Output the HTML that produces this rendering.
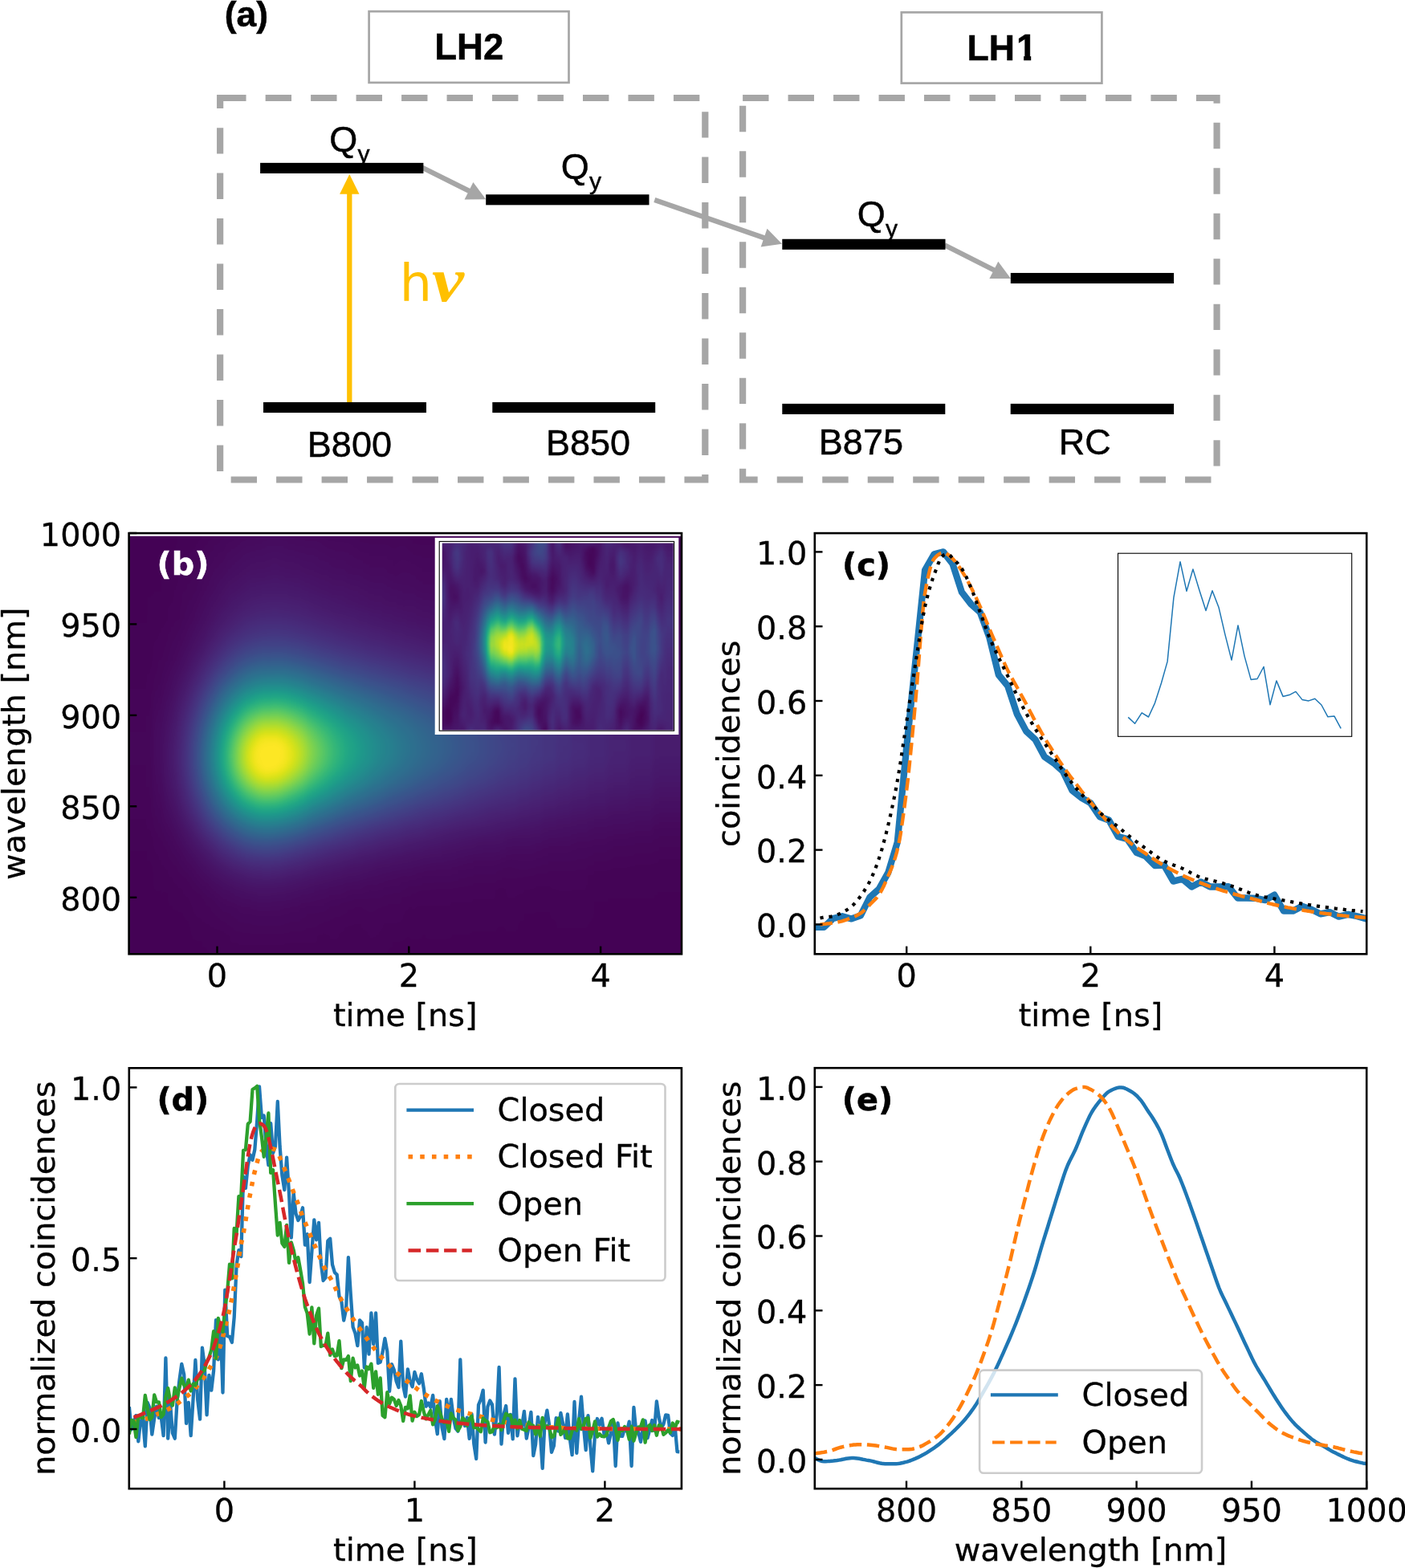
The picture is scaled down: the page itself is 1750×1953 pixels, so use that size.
<!DOCTYPE html>
<html lang="en"><head><meta charset="utf-8"><title>Figure</title>
<style>
html,body{margin:0;padding:0;background:#fff;}
body{width:1750px;height:1953px;overflow:hidden;}
svg{display:block;}
text{white-space:pre;}
</style></head><body>
<svg width="1750" height="1953" viewBox="0 0 1750 1953">
<rect width="1750" height="1953" fill="#fff"/>
<g id="pa">
<text x="306.9" y="32.6" text-anchor="middle" font-family="'Liberation Sans','DejaVu Sans',sans-serif" font-weight="700" font-size="44.5" stroke="#000" stroke-width="0.5">(a)</text>
<rect x="459.6" y="14.2" width="248.9" height="88.7" fill="#fff" stroke="#a6a6a6" stroke-width="2.7"/>
<rect x="1122.8" y="15.4" width="249.6" height="88.2" fill="#fff" stroke="#a6a6a6" stroke-width="2.7"/>
<text x="584.3" y="74.3" text-anchor="middle" font-family="'Liberation Sans','DejaVu Sans',sans-serif" font-weight="700" font-size="45.6" stroke="#000" stroke-width="0.5">LH2</text>
<text x="1204.5" y="74.9" font-family="'Liberation Sans','DejaVu Sans',sans-serif" font-weight="700" font-size="44.6" stroke="#000" stroke-width="0.5">LH<tspan x="1265.9" font-size="45.6">1</tspan></text>
<rect x="1266" y="69.4" width="9.1" height="7" fill="#fff"/><rect x="1284.2" y="69.4" width="8" height="7" fill="#fff"/>
<rect x="274.15" y="122" width="604.15" height="475.5" fill="none" stroke="#a6a6a6" stroke-width="8.2" stroke-dasharray="32.4 24.08"/>
<rect x="925.1" y="122" width="590.5" height="475.5" fill="none" stroke="#a6a6a6" stroke-width="8.2" stroke-dasharray="32.4 24.08"/>
<line x1="526" y1="208.7" x2="584.9" y2="238.1" stroke="#a6a6a6" stroke-width="6.3"/>
<polygon points="605.2,248.3 578.6,248.4 589.4,227" fill="#a6a6a6"/>
<line x1="815.3" y1="249" x2="952.5" y2="296.4" stroke="#a6a6a6" stroke-width="6.3"/>
<polygon points="974,303.8 947.7,307.4 955.5,284.7" fill="#a6a6a6"/>
<line x1="1176.5" y1="305.3" x2="1238.8" y2="336.8" stroke="#a6a6a6" stroke-width="6.3"/>
<polygon points="1259,347.1 1232.4,347.1 1243.3,325.7" fill="#a6a6a6"/>
<line x1="435.3" y1="503" x2="435.3" y2="240.7" stroke="#ffc000" stroke-width="6.3"/>
<polygon points="435.3,217.1 447.5,241.7 423.1,241.7" fill="#ffc000"/>
<rect x="324.1" y="202.85" width="203.3" height="13.1" fill="#000"/>
<rect x="605.2" y="242.25" width="203.3" height="13.1" fill="#000"/>
<rect x="974.3" y="297.75" width="203.2" height="13.1" fill="#000"/>
<rect x="1258.8" y="339.95" width="203.3" height="13.1" fill="#000"/>
<rect x="328" y="500.95" width="203" height="13.1" fill="#000"/>
<rect x="613.3" y="500.95" width="202.9" height="13.1" fill="#000"/>
<rect x="974.3" y="502.84999999999997" width="203" height="13.1" fill="#000"/>
<rect x="1258.7" y="502.84999999999997" width="203.4" height="13.1" fill="#000"/>
<text x="410.3" y="188.5" font-family="'Liberation Sans','DejaVu Sans',sans-serif" font-size="45" stroke="#000" stroke-width="0.5">Q<tspan font-size="30" dy="13.3" dx="0.3">y</tspan></text>
<text x="698.8" y="222.5" font-family="'Liberation Sans','DejaVu Sans',sans-serif" font-size="45" stroke="#000" stroke-width="0.5">Q<tspan font-size="30" dy="13.3" dx="0.3">y</tspan></text>
<text x="1067.8" y="282" font-family="'Liberation Sans','DejaVu Sans',sans-serif" font-size="45" stroke="#000" stroke-width="0.5">Q<tspan font-size="30" dy="13.3" dx="0.3">y</tspan></text>
<text x="435.4" y="569.3" text-anchor="middle" font-family="'Liberation Sans','DejaVu Sans',sans-serif" font-size="45" stroke="#000" stroke-width="0.5">B800</text>
<text x="732.5" y="567.3" text-anchor="middle" font-family="'Liberation Sans','DejaVu Sans',sans-serif" font-size="45" stroke="#000" stroke-width="0.5">B850</text>
<text x="1072.4" y="565.8" text-anchor="middle" font-family="'Liberation Sans','DejaVu Sans',sans-serif" font-size="45" stroke="#000" stroke-width="0.5">B875</text>
<text x="1351.2" y="566" text-anchor="middle" font-family="'Liberation Sans','DejaVu Sans',sans-serif" font-size="45" stroke="#000" stroke-width="0.5">RC</text>
<text x="497.7" y="375.3" fill="#ffc000" font-family="'DejaVu Sans','Liberation Sans',sans-serif" font-size="63.5">h<tspan font-family="'Liberation Serif','DejaVu Serif',serif" font-style="italic" font-weight="700" font-size="77.5" textLength="40" lengthAdjust="spacingAndGlyphs">ν</tspan></text>
</g>
<g id="pb">
<clipPath id="hmc"><rect x="160.6" y="667.8" width="688.4" height="520.5"/></clipPath>
<filter id="hmf" x="0" y="0" width="100%" height="100%" filterUnits="objectBoundingBox" color-interpolation-filters="sRGB"><feGaussianBlur stdDeviation="3.0"/><feComponentTransfer><feFuncR type="table" tableValues="0.267 0.277 0.282 0.283 0.279 0.271 0.259 0.245 0.230 0.214 0.199 0.186 0.173 0.161 0.149 0.138 0.128 0.121 0.121 0.132 0.158 0.197 0.246 0.304 0.369 0.440 0.516 0.596 0.678 0.762 0.846 0.926 0.993"/><feFuncG type="table" tableValues="0.005 0.050 0.095 0.136 0.175 0.214 0.252 0.288 0.322 0.356 0.388 0.419 0.449 0.479 0.508 0.537 0.567 0.596 0.626 0.655 0.684 0.712 0.739 0.765 0.789 0.811 0.831 0.849 0.864 0.876 0.887 0.897 0.906"/><feFuncB type="table" tableValues="0.329 0.376 0.417 0.453 0.483 0.507 0.525 0.537 0.546 0.551 0.555 0.557 0.558 0.558 0.557 0.555 0.551 0.544 0.533 0.520 0.502 0.479 0.452 0.420 0.383 0.341 0.294 0.243 0.190 0.137 0.100 0.104 0.144"/></feComponentTransfer></filter>
<defs><linearGradient id="hm0" gradientUnits="userSpaceOnUse" x1="0" y1="655.8" x2="0" y2="1200.3"><stop offset=".022" stop-color="#010101"/><stop offset=".303" stop-color="#020202"/><stop offset=".502" stop-color="#040404"/><stop offset=".642" stop-color="#030303"/><stop offset=".790" stop-color="#010101"/><stop offset=".978" stop-color="#010101"/></linearGradient><linearGradient id="hm1" gradientUnits="userSpaceOnUse" x1="0" y1="655.8" x2="0" y2="1200.3"><stop offset=".022" stop-color="#010101"/><stop offset=".207" stop-color="#020202"/><stop offset=".354" stop-color="#040404"/><stop offset=".472" stop-color="#080808"/><stop offset=".535" stop-color="#080808"/><stop offset=".620" stop-color="#060606"/><stop offset=".723" stop-color="#030303"/><stop offset=".893" stop-color="#010101"/><stop offset=".978" stop-color="#010101"/></linearGradient><linearGradient id="hm2" gradientUnits="userSpaceOnUse" x1="0" y1="655.8" x2="0" y2="1200.3"><stop offset=".022" stop-color="#010101"/><stop offset=".207" stop-color="#020202"/><stop offset=".303" stop-color="#040404"/><stop offset=".502" stop-color="#0c0c0c"/><stop offset=".561" stop-color="#0c0c0c"/><stop offset=".745" stop-color="#030303"/><stop offset=".849" stop-color="#010101"/><stop offset=".978" stop-color="#010101"/></linearGradient><linearGradient id="hm3" gradientUnits="userSpaceOnUse" x1="0" y1="655.8" x2="0" y2="1200.3"><stop offset=".022" stop-color="#010101"/><stop offset=".207" stop-color="#030303"/><stop offset=".303" stop-color="#050505"/><stop offset=".391" stop-color="#090909"/><stop offset=".465" stop-color="#0e0e0e"/><stop offset=".528" stop-color="#101010"/><stop offset=".587" stop-color="#0e0e0e"/><stop offset=".697" stop-color="#060606"/><stop offset=".779" stop-color="#030303"/><stop offset=".912" stop-color="#010101"/><stop offset=".978" stop-color="#010101"/></linearGradient><linearGradient id="hm4" gradientUnits="userSpaceOnUse" x1="0" y1="655.8" x2="0" y2="1200.3"><stop offset=".022" stop-color="#010101"/><stop offset=".207" stop-color="#030303"/><stop offset=".303" stop-color="#060606"/><stop offset=".391" stop-color="#0c0c0c"/><stop offset=".465" stop-color="#121212"/><stop offset=".506" stop-color="#141414"/><stop offset=".542" stop-color="#141414"/><stop offset=".594" stop-color="#111111"/><stop offset=".705" stop-color="#070707"/><stop offset=".782" stop-color="#030303"/><stop offset=".912" stop-color="#010101"/><stop offset=".978" stop-color="#010101"/></linearGradient><linearGradient id="hm5" gradientUnits="userSpaceOnUse" x1="0" y1="655.8" x2="0" y2="1200.3"><stop offset=".022" stop-color="#020202"/><stop offset=".207" stop-color="#030303"/><stop offset=".303" stop-color="#070707"/><stop offset=".362" stop-color="#0c0c0c"/><stop offset=".439" stop-color="#141414"/><stop offset=".483" stop-color="#171717"/><stop offset=".524" stop-color="#191919"/><stop offset=".561" stop-color="#181818"/><stop offset=".613" stop-color="#131313"/><stop offset=".683" stop-color="#0b0b0b"/><stop offset=".738" stop-color="#060606"/><stop offset=".804" stop-color="#030303"/><stop offset=".919" stop-color="#010101"/><stop offset=".978" stop-color="#010101"/></linearGradient><linearGradient id="hm6" gradientUnits="userSpaceOnUse" x1="0" y1="655.8" x2="0" y2="1200.3"><stop offset=".022" stop-color="#020202"/><stop offset=".207" stop-color="#040404"/><stop offset=".269" stop-color="#060606"/><stop offset=".328" stop-color="#0a0a0a"/><stop offset=".454" stop-color="#181818"/><stop offset=".498" stop-color="#1b1b1b"/><stop offset=".535" stop-color="#1c1c1c"/><stop offset=".572" stop-color="#1a1a1a"/><stop offset=".624" stop-color="#141414"/><stop offset=".690" stop-color="#0b0b0b"/><stop offset=".742" stop-color="#060606"/><stop offset=".808" stop-color="#030303"/><stop offset=".919" stop-color="#010101"/><stop offset=".978" stop-color="#010101"/></linearGradient><linearGradient id="hm7" gradientUnits="userSpaceOnUse" x1="0" y1="655.8" x2="0" y2="1200.3"><stop offset=".022" stop-color="#020202"/><stop offset=".207" stop-color="#040404"/><stop offset=".269" stop-color="#070707"/><stop offset=".328" stop-color="#0b0b0b"/><stop offset=".410" stop-color="#151515"/><stop offset=".458" stop-color="#1c1c1c"/><stop offset=".502" stop-color="#1f1f1f"/><stop offset=".539" stop-color="#202020"/><stop offset=".572" stop-color="#1d1d1d"/><stop offset=".624" stop-color="#171717"/><stop offset=".690" stop-color="#0d0d0d"/><stop offset=".742" stop-color="#070707"/><stop offset=".808" stop-color="#030303"/><stop offset=".919" stop-color="#010101"/><stop offset=".978" stop-color="#010101"/></linearGradient><linearGradient id="hm8" gradientUnits="userSpaceOnUse" x1="0" y1="655.8" x2="0" y2="1200.3"><stop offset=".022" stop-color="#020202"/><stop offset=".207" stop-color="#050505"/><stop offset=".269" stop-color="#070707"/><stop offset=".328" stop-color="#0c0c0c"/><stop offset=".380" stop-color="#131313"/><stop offset=".458" stop-color="#1f1f1f"/><stop offset=".502" stop-color="#232323"/><stop offset=".539" stop-color="#242424"/><stop offset=".572" stop-color="#212121"/><stop offset=".624" stop-color="#1a1a1a"/><stop offset=".690" stop-color="#0e0e0e"/><stop offset=".742" stop-color="#080808"/><stop offset=".808" stop-color="#030303"/><stop offset=".919" stop-color="#010101"/><stop offset=".978" stop-color="#010101"/></linearGradient><linearGradient id="hm9" gradientUnits="userSpaceOnUse" x1="0" y1="655.8" x2="0" y2="1200.3"><stop offset=".022" stop-color="#020202"/><stop offset=".144" stop-color="#030303"/><stop offset=".251" stop-color="#070707"/><stop offset=".310" stop-color="#0c0c0c"/><stop offset=".365" stop-color="#131313"/><stop offset=".443" stop-color="#212121"/><stop offset=".487" stop-color="#272727"/><stop offset=".524" stop-color="#282828"/><stop offset=".561" stop-color="#272727"/><stop offset=".594" stop-color="#222222"/><stop offset=".705" stop-color="#0e0e0e"/><stop offset=".757" stop-color="#070707"/><stop offset=".819" stop-color="#030303"/><stop offset=".923" stop-color="#010101"/><stop offset=".978" stop-color="#010101"/></linearGradient><linearGradient id="hm10" gradientUnits="userSpaceOnUse" x1="0" y1="655.8" x2="0" y2="1200.3"><stop offset=".022" stop-color="#020202"/><stop offset=".144" stop-color="#040404"/><stop offset=".214" stop-color="#060606"/><stop offset=".277" stop-color="#0a0a0a"/><stop offset=".336" stop-color="#111111"/><stop offset=".387" stop-color="#1a1a1a"/><stop offset=".461" stop-color="#282828"/><stop offset=".491" stop-color="#2c2c2c"/><stop offset=".528" stop-color="#2e2e2e"/><stop offset=".550" stop-color="#2d2d2d"/><stop offset=".583" stop-color="#292929"/><stop offset=".631" stop-color="#1f1f1f"/><stop offset=".697" stop-color="#101010"/><stop offset=".749" stop-color="#090909"/><stop offset=".793" stop-color="#050505"/><stop offset=".875" stop-color="#020202"/><stop offset=".978" stop-color="#010101"/></linearGradient><linearGradient id="hm11" gradientUnits="userSpaceOnUse" x1="0" y1="655.8" x2="0" y2="1200.3"><stop offset=".022" stop-color="#020202"/><stop offset=".144" stop-color="#040404"/><stop offset=".214" stop-color="#060606"/><stop offset=".277" stop-color="#0b0b0b"/><stop offset=".314" stop-color="#0f0f0f"/><stop offset=".369" stop-color="#191919"/><stop offset=".446" stop-color="#2a2a2a"/><stop offset=".476" stop-color="#2f2f2f"/><stop offset=".502" stop-color="#323232"/><stop offset=".524" stop-color="#333333"/><stop offset=".546" stop-color="#323232"/><stop offset=".579" stop-color="#2e2e2e"/><stop offset=".613" stop-color="#272727"/><stop offset=".683" stop-color="#161616"/><stop offset=".720" stop-color="#0e0e0e"/><stop offset=".768" stop-color="#070707"/><stop offset=".827" stop-color="#030303"/><stop offset=".926" stop-color="#020202"/><stop offset=".978" stop-color="#010101"/></linearGradient><linearGradient id="hm12" gradientUnits="userSpaceOnUse" x1="0" y1="655.8" x2="0" y2="1200.3"><stop offset=".022" stop-color="#020202"/><stop offset=".144" stop-color="#040404"/><stop offset=".214" stop-color="#070707"/><stop offset=".277" stop-color="#0c0c0c"/><stop offset=".314" stop-color="#111111"/><stop offset=".351" stop-color="#181818"/><stop offset=".432" stop-color="#2b2b2b"/><stop offset=".476" stop-color="#353535"/><stop offset=".502" stop-color="#383838"/><stop offset=".524" stop-color="#393939"/><stop offset=".546" stop-color="#383838"/><stop offset=".579" stop-color="#333333"/><stop offset=".613" stop-color="#2c2c2c"/><stop offset=".683" stop-color="#181818"/><stop offset=".720" stop-color="#101010"/><stop offset=".768" stop-color="#080808"/><stop offset=".827" stop-color="#040404"/><stop offset=".926" stop-color="#020202"/><stop offset=".978" stop-color="#010101"/></linearGradient><linearGradient id="hm13" gradientUnits="userSpaceOnUse" x1="0" y1="655.8" x2="0" y2="1200.3"><stop offset=".022" stop-color="#020202"/><stop offset=".144" stop-color="#050505"/><stop offset=".214" stop-color="#080808"/><stop offset=".277" stop-color="#0d0d0d"/><stop offset=".314" stop-color="#131313"/><stop offset=".351" stop-color="#1a1a1a"/><stop offset=".432" stop-color="#303030"/><stop offset=".476" stop-color="#3b3b3b"/><stop offset=".502" stop-color="#3e3e3e"/><stop offset=".524" stop-color="#3f3f3f"/><stop offset=".546" stop-color="#3e3e3e"/><stop offset=".568" stop-color="#3b3b3b"/><stop offset=".601" stop-color="#343434"/><stop offset=".675" stop-color="#1d1d1d"/><stop offset=".712" stop-color="#131313"/><stop offset=".745" stop-color="#0c0c0c"/><stop offset=".790" stop-color="#070707"/><stop offset=".841" stop-color="#030303"/><stop offset=".930" stop-color="#020202"/><stop offset=".978" stop-color="#010101"/></linearGradient><linearGradient id="hm14" gradientUnits="userSpaceOnUse" x1="0" y1="655.8" x2="0" y2="1200.3"><stop offset=".022" stop-color="#020202"/><stop offset=".144" stop-color="#050505"/><stop offset=".214" stop-color="#090909"/><stop offset=".255" stop-color="#0c0c0c"/><stop offset=".291" stop-color="#111111"/><stop offset=".328" stop-color="#181818"/><stop offset=".362" stop-color="#202020"/><stop offset=".439" stop-color="#383838"/><stop offset=".469" stop-color="#3f3f3f"/><stop offset=".494" stop-color="#444444"/><stop offset=".517" stop-color="#464646"/><stop offset=".539" stop-color="#464646"/><stop offset=".561" stop-color="#434343"/><stop offset=".594" stop-color="#3b3b3b"/><stop offset=".642" stop-color="#2b2b2b"/><stop offset=".683" stop-color="#1e1e1e"/><stop offset=".720" stop-color="#131313"/><stop offset=".749" stop-color="#0d0d0d"/><stop offset=".793" stop-color="#070707"/><stop offset=".845" stop-color="#030303"/><stop offset=".934" stop-color="#020202"/><stop offset=".978" stop-color="#010101"/></linearGradient><linearGradient id="hm15" gradientUnits="userSpaceOnUse" x1="0" y1="655.8" x2="0" y2="1200.3"><stop offset=".022" stop-color="#030303"/><stop offset=".144" stop-color="#060606"/><stop offset=".214" stop-color="#090909"/><stop offset=".255" stop-color="#0d0d0d"/><stop offset=".291" stop-color="#121212"/><stop offset=".328" stop-color="#1a1a1a"/><stop offset=".362" stop-color="#232323"/><stop offset=".439" stop-color="#3d3d3d"/><stop offset=".469" stop-color="#464646"/><stop offset=".494" stop-color="#4b4b4b"/><stop offset=".517" stop-color="#4d4d4d"/><stop offset=".539" stop-color="#4d4d4d"/><stop offset=".561" stop-color="#4a4a4a"/><stop offset=".583" stop-color="#454545"/><stop offset=".613" stop-color="#3b3b3b"/><stop offset=".683" stop-color="#212121"/><stop offset=".720" stop-color="#151515"/><stop offset=".749" stop-color="#0e0e0e"/><stop offset=".793" stop-color="#080808"/><stop offset=".845" stop-color="#040404"/><stop offset=".934" stop-color="#020202"/><stop offset=".978" stop-color="#010101"/></linearGradient><linearGradient id="hm16" gradientUnits="userSpaceOnUse" x1="0" y1="655.8" x2="0" y2="1200.3"><stop offset=".022" stop-color="#030303"/><stop offset=".144" stop-color="#060606"/><stop offset=".214" stop-color="#0a0a0a"/><stop offset=".255" stop-color="#0e0e0e"/><stop offset=".291" stop-color="#141414"/><stop offset=".328" stop-color="#1d1d1d"/><stop offset=".362" stop-color="#272727"/><stop offset=".439" stop-color="#434343"/><stop offset=".469" stop-color="#4d4d4d"/><stop offset=".494" stop-color="#525252"/><stop offset=".517" stop-color="#555555"/><stop offset=".539" stop-color="#555555"/><stop offset=".561" stop-color="#525252"/><stop offset=".583" stop-color="#4c4c4c"/><stop offset=".613" stop-color="#414141"/><stop offset=".683" stop-color="#242424"/><stop offset=".720" stop-color="#171717"/><stop offset=".749" stop-color="#0f0f0f"/><stop offset=".779" stop-color="#0a0a0a"/><stop offset=".816" stop-color="#060606"/><stop offset=".860" stop-color="#030303"/><stop offset=".978" stop-color="#010101"/></linearGradient><linearGradient id="hm17" gradientUnits="userSpaceOnUse" x1="0" y1="655.8" x2="0" y2="1200.3"><stop offset=".022" stop-color="#030303"/><stop offset=".144" stop-color="#070707"/><stop offset=".214" stop-color="#0b0b0b"/><stop offset=".255" stop-color="#101010"/><stop offset=".291" stop-color="#161616"/><stop offset=".328" stop-color="#1f1f1f"/><stop offset=".362" stop-color="#2a2a2a"/><stop offset=".439" stop-color="#4a4a4a"/><stop offset=".469" stop-color="#545454"/><stop offset=".494" stop-color="#5a5a5a"/><stop offset=".517" stop-color="#5d5d5d"/><stop offset=".539" stop-color="#5d5d5d"/><stop offset=".561" stop-color="#595959"/><stop offset=".583" stop-color="#535353"/><stop offset=".613" stop-color="#474747"/><stop offset=".683" stop-color="#272727"/><stop offset=".720" stop-color="#191919"/><stop offset=".749" stop-color="#111111"/><stop offset=".779" stop-color="#0b0b0b"/><stop offset=".816" stop-color="#060606"/><stop offset=".860" stop-color="#040404"/><stop offset=".978" stop-color="#010101"/></linearGradient><linearGradient id="hm18" gradientUnits="userSpaceOnUse" x1="0" y1="655.8" x2="0" y2="1200.3"><stop offset=".022" stop-color="#030303"/><stop offset=".144" stop-color="#070707"/><stop offset=".214" stop-color="#0c0c0c"/><stop offset=".255" stop-color="#111111"/><stop offset=".291" stop-color="#181818"/><stop offset=".328" stop-color="#222222"/><stop offset=".362" stop-color="#2e2e2e"/><stop offset=".439" stop-color="#505050"/><stop offset=".469" stop-color="#5c5c5c"/><stop offset=".494" stop-color="#626262"/><stop offset=".517" stop-color="#656565"/><stop offset=".539" stop-color="#656565"/><stop offset=".561" stop-color="#616161"/><stop offset=".583" stop-color="#5a5a5a"/><stop offset=".613" stop-color="#4e4e4e"/><stop offset=".683" stop-color="#2b2b2b"/><stop offset=".720" stop-color="#1b1b1b"/><stop offset=".749" stop-color="#121212"/><stop offset=".779" stop-color="#0c0c0c"/><stop offset=".816" stop-color="#070707"/><stop offset=".860" stop-color="#040404"/><stop offset=".937" stop-color="#020202"/><stop offset=".978" stop-color="#020202"/></linearGradient><linearGradient id="hm19" gradientUnits="userSpaceOnUse" x1="0" y1="655.8" x2="0" y2="1200.3"><stop offset=".022" stop-color="#030303"/><stop offset=".144" stop-color="#080808"/><stop offset=".214" stop-color="#0d0d0d"/><stop offset=".255" stop-color="#121212"/><stop offset=".291" stop-color="#1a1a1a"/><stop offset=".328" stop-color="#252525"/><stop offset=".362" stop-color="#323232"/><stop offset=".439" stop-color="#575757"/><stop offset=".469" stop-color="#646464"/><stop offset=".494" stop-color="#6b6b6b"/><stop offset=".517" stop-color="#6e6e6e"/><stop offset=".539" stop-color="#6e6e6e"/><stop offset=".561" stop-color="#6a6a6a"/><stop offset=".583" stop-color="#626262"/><stop offset=".613" stop-color="#545454"/><stop offset=".683" stop-color="#2e2e2e"/><stop offset=".705" stop-color="#242424"/><stop offset=".738" stop-color="#171717"/><stop offset=".768" stop-color="#0f0f0f"/><stop offset=".804" stop-color="#090909"/><stop offset=".852" stop-color="#040404"/><stop offset=".934" stop-color="#020202"/><stop offset=".978" stop-color="#020202"/></linearGradient><linearGradient id="hm20" gradientUnits="userSpaceOnUse" x1="0" y1="655.8" x2="0" y2="1200.3"><stop offset=".022" stop-color="#040404"/><stop offset=".144" stop-color="#080808"/><stop offset=".214" stop-color="#0e0e0e"/><stop offset=".255" stop-color="#141414"/><stop offset=".291" stop-color="#1c1c1c"/><stop offset=".328" stop-color="#282828"/><stop offset=".362" stop-color="#363636"/><stop offset=".439" stop-color="#5e5e5e"/><stop offset=".469" stop-color="#6c6c6c"/><stop offset=".494" stop-color="#747474"/><stop offset=".517" stop-color="#777777"/><stop offset=".539" stop-color="#777777"/><stop offset=".561" stop-color="#727272"/><stop offset=".583" stop-color="#6a6a6a"/><stop offset=".613" stop-color="#5b5b5b"/><stop offset=".683" stop-color="#323232"/><stop offset=".705" stop-color="#272727"/><stop offset=".727" stop-color="#1d1d1d"/><stop offset=".757" stop-color="#131313"/><stop offset=".782" stop-color="#0d0d0d"/><stop offset=".819" stop-color="#080808"/><stop offset=".864" stop-color="#040404"/><stop offset=".937" stop-color="#020202"/><stop offset=".978" stop-color="#020202"/></linearGradient><linearGradient id="hm21" gradientUnits="userSpaceOnUse" x1="0" y1="655.8" x2="0" y2="1200.3"><stop offset=".022" stop-color="#040404"/><stop offset=".103" stop-color="#070707"/><stop offset=".177" stop-color="#0b0b0b"/><stop offset=".221" stop-color="#101010"/><stop offset=".262" stop-color="#171717"/><stop offset=".299" stop-color="#202020"/><stop offset=".321" stop-color="#282828"/><stop offset=".354" stop-color="#373737"/><stop offset=".387" stop-color="#484848"/><stop offset=".435" stop-color="#646464"/><stop offset=".465" stop-color="#727272"/><stop offset=".491" stop-color="#7c7c7c"/><stop offset=".513" stop-color="#808080"/><stop offset=".528" stop-color="#818181"/><stop offset=".542" stop-color="#7f7f7f"/><stop offset=".557" stop-color="#7c7c7c"/><stop offset=".579" stop-color="#747474"/><stop offset=".601" stop-color="#696969"/><stop offset=".631" stop-color="#575757"/><stop offset=".675" stop-color="#3a3a3a"/><stop offset=".697" stop-color="#2d2d2d"/><stop offset=".720" stop-color="#222222"/><stop offset=".749" stop-color="#171717"/><stop offset=".779" stop-color="#0f0f0f"/><stop offset=".816" stop-color="#080808"/><stop offset=".860" stop-color="#050505"/><stop offset=".937" stop-color="#020202"/><stop offset=".978" stop-color="#020202"/></linearGradient><linearGradient id="hm22" gradientUnits="userSpaceOnUse" x1="0" y1="655.8" x2="0" y2="1200.3"><stop offset=".022" stop-color="#040404"/><stop offset=".103" stop-color="#070707"/><stop offset=".177" stop-color="#0c0c0c"/><stop offset=".221" stop-color="#111111"/><stop offset=".262" stop-color="#181818"/><stop offset=".299" stop-color="#232323"/><stop offset=".321" stop-color="#2b2b2b"/><stop offset=".354" stop-color="#3b3b3b"/><stop offset=".387" stop-color="#4e4e4e"/><stop offset=".435" stop-color="#6b6b6b"/><stop offset=".465" stop-color="#7b7b7b"/><stop offset=".480" stop-color="#818181"/><stop offset=".494" stop-color="#868686"/><stop offset=".517" stop-color="#8a8a8a"/><stop offset=".531" stop-color="#8a8a8a"/><stop offset=".546" stop-color="#888888"/><stop offset=".561" stop-color="#848484"/><stop offset=".583" stop-color="#7b7b7b"/><stop offset=".601" stop-color="#707070"/><stop offset=".631" stop-color="#5d5d5d"/><stop offset=".675" stop-color="#3e3e3e"/><stop offset=".697" stop-color="#313131"/><stop offset=".720" stop-color="#252525"/><stop offset=".749" stop-color="#191919"/><stop offset=".779" stop-color="#101010"/><stop offset=".816" stop-color="#090909"/><stop offset=".860" stop-color="#050505"/><stop offset=".937" stop-color="#020202"/><stop offset=".978" stop-color="#020202"/></linearGradient><linearGradient id="hm23" gradientUnits="userSpaceOnUse" x1="0" y1="655.8" x2="0" y2="1200.3"><stop offset=".022" stop-color="#040404"/><stop offset=".103" stop-color="#070707"/><stop offset=".177" stop-color="#0d0d0d"/><stop offset=".221" stop-color="#121212"/><stop offset=".262" stop-color="#1a1a1a"/><stop offset=".284" stop-color="#202020"/><stop offset=".306" stop-color="#282828"/><stop offset=".328" stop-color="#313131"/><stop offset=".362" stop-color="#434343"/><stop offset=".395" stop-color="#585858"/><stop offset=".443" stop-color="#777777"/><stop offset=".461" stop-color="#818181"/><stop offset=".480" stop-color="#8a8a8a"/><stop offset=".494" stop-color="#8f8f8f"/><stop offset=".509" stop-color="#929292"/><stop offset=".524" stop-color="#939393"/><stop offset=".539" stop-color="#939393"/><stop offset=".554" stop-color="#909090"/><stop offset=".568" stop-color="#8a8a8a"/><stop offset=".590" stop-color="#7f7f7f"/><stop offset=".620" stop-color="#6b6b6b"/><stop offset=".664" stop-color="#4a4a4a"/><stop offset=".686" stop-color="#3b3b3b"/><stop offset=".709" stop-color="#2d2d2d"/><stop offset=".731" stop-color="#222222"/><stop offset=".760" stop-color="#161616"/><stop offset=".786" stop-color="#0f0f0f"/><stop offset=".819" stop-color="#090909"/><stop offset=".864" stop-color="#050505"/><stop offset=".937" stop-color="#020202"/><stop offset=".978" stop-color="#020202"/></linearGradient><linearGradient id="hm24" gradientUnits="userSpaceOnUse" x1="0" y1="655.8" x2="0" y2="1200.3"><stop offset=".022" stop-color="#040404"/><stop offset=".103" stop-color="#080808"/><stop offset=".177" stop-color="#0d0d0d"/><stop offset=".221" stop-color="#131313"/><stop offset=".262" stop-color="#1c1c1c"/><stop offset=".284" stop-color="#222222"/><stop offset=".306" stop-color="#2a2a2a"/><stop offset=".328" stop-color="#343434"/><stop offset=".351" stop-color="#404040"/><stop offset=".384" stop-color="#565656"/><stop offset=".432" stop-color="#777777"/><stop offset=".461" stop-color="#8a8a8a"/><stop offset=".480" stop-color="#939393"/><stop offset=".494" stop-color="#989898"/><stop offset=".509" stop-color="#9c9c9c"/><stop offset=".524" stop-color="#9d9d9d"/><stop offset=".539" stop-color="#9c9c9c"/><stop offset=".554" stop-color="#999999"/><stop offset=".568" stop-color="#939393"/><stop offset=".590" stop-color="#878787"/><stop offset=".609" stop-color="#7b7b7b"/><stop offset=".679" stop-color="#444444"/><stop offset=".701" stop-color="#353535"/><stop offset=".723" stop-color="#282828"/><stop offset=".742" stop-color="#1f1f1f"/><stop offset=".771" stop-color="#141414"/><stop offset=".793" stop-color="#0e0e0e"/><stop offset=".827" stop-color="#090909"/><stop offset=".871" stop-color="#050505"/><stop offset=".941" stop-color="#020202"/><stop offset=".978" stop-color="#020202"/></linearGradient><linearGradient id="hm25" gradientUnits="userSpaceOnUse" x1="0" y1="655.8" x2="0" y2="1200.3"><stop offset=".022" stop-color="#050505"/><stop offset=".103" stop-color="#080808"/><stop offset=".177" stop-color="#0e0e0e"/><stop offset=".221" stop-color="#141414"/><stop offset=".247" stop-color="#191919"/><stop offset=".269" stop-color="#1f1f1f"/><stop offset=".291" stop-color="#272727"/><stop offset=".314" stop-color="#303030"/><stop offset=".336" stop-color="#3b3b3b"/><stop offset=".358" stop-color="#494949"/><stop offset=".391" stop-color="#606060"/><stop offset=".439" stop-color="#848484"/><stop offset=".458" stop-color="#909090"/><stop offset=".476" stop-color="#9a9a9a"/><stop offset=".491" stop-color="#a0a0a0"/><stop offset=".506" stop-color="#a4a4a4"/><stop offset=".520" stop-color="#a6a6a6"/><stop offset=".535" stop-color="#a6a6a6"/><stop offset=".550" stop-color="#a3a3a3"/><stop offset=".565" stop-color="#9e9e9e"/><stop offset=".579" stop-color="#969696"/><stop offset=".601" stop-color="#888888"/><stop offset=".631" stop-color="#707070"/><stop offset=".675" stop-color="#4b4b4b"/><stop offset=".697" stop-color="#3a3a3a"/><stop offset=".720" stop-color="#2c2c2c"/><stop offset=".738" stop-color="#222222"/><stop offset=".757" stop-color="#1a1a1a"/><stop offset=".782" stop-color="#121212"/><stop offset=".804" stop-color="#0d0d0d"/><stop offset=".834" stop-color="#080808"/><stop offset=".875" stop-color="#050505"/><stop offset=".941" stop-color="#020202"/><stop offset=".978" stop-color="#020202"/></linearGradient><linearGradient id="hm26" gradientUnits="userSpaceOnUse" x1="0" y1="655.8" x2="0" y2="1200.3"><stop offset=".022" stop-color="#050505"/><stop offset=".103" stop-color="#090909"/><stop offset=".177" stop-color="#0f0f0f"/><stop offset=".221" stop-color="#151515"/><stop offset=".247" stop-color="#1b1b1b"/><stop offset=".269" stop-color="#212121"/><stop offset=".291" stop-color="#292929"/><stop offset=".314" stop-color="#333333"/><stop offset=".336" stop-color="#3f3f3f"/><stop offset=".358" stop-color="#4d4d4d"/><stop offset=".391" stop-color="#656565"/><stop offset=".439" stop-color="#8b8b8b"/><stop offset=".458" stop-color="#989898"/><stop offset=".476" stop-color="#a2a2a2"/><stop offset=".491" stop-color="#a9a9a9"/><stop offset=".506" stop-color="#adadad"/><stop offset=".520" stop-color="#b0b0b0"/><stop offset=".535" stop-color="#afafaf"/><stop offset=".550" stop-color="#acacac"/><stop offset=".565" stop-color="#a7a7a7"/><stop offset=".579" stop-color="#9f9f9f"/><stop offset=".601" stop-color="#8f8f8f"/><stop offset=".631" stop-color="#767676"/><stop offset=".675" stop-color="#4f4f4f"/><stop offset=".697" stop-color="#3e3e3e"/><stop offset=".720" stop-color="#2f2f2f"/><stop offset=".738" stop-color="#242424"/><stop offset=".757" stop-color="#1c1c1c"/><stop offset=".782" stop-color="#131313"/><stop offset=".804" stop-color="#0d0d0d"/><stop offset=".834" stop-color="#080808"/><stop offset=".875" stop-color="#050505"/><stop offset=".941" stop-color="#020202"/><stop offset=".978" stop-color="#020202"/></linearGradient><linearGradient id="hm27" gradientUnits="userSpaceOnUse" x1="0" y1="655.8" x2="0" y2="1200.3"><stop offset=".022" stop-color="#050505"/><stop offset=".103" stop-color="#090909"/><stop offset=".177" stop-color="#101010"/><stop offset=".221" stop-color="#161616"/><stop offset=".247" stop-color="#1c1c1c"/><stop offset=".269" stop-color="#232323"/><stop offset=".291" stop-color="#2b2b2b"/><stop offset=".314" stop-color="#353535"/><stop offset=".336" stop-color="#424242"/><stop offset=".358" stop-color="#515151"/><stop offset=".391" stop-color="#6b6b6b"/><stop offset=".439" stop-color="#929292"/><stop offset=".458" stop-color="#a0a0a0"/><stop offset=".476" stop-color="#ababab"/><stop offset=".491" stop-color="#b2b2b2"/><stop offset=".506" stop-color="#b6b6b6"/><stop offset=".520" stop-color="#b9b9b9"/><stop offset=".535" stop-color="#b8b8b8"/><stop offset=".550" stop-color="#b5b5b5"/><stop offset=".565" stop-color="#afafaf"/><stop offset=".579" stop-color="#a7a7a7"/><stop offset=".601" stop-color="#979797"/><stop offset=".631" stop-color="#7c7c7c"/><stop offset=".675" stop-color="#535353"/><stop offset=".697" stop-color="#414141"/><stop offset=".720" stop-color="#313131"/><stop offset=".738" stop-color="#262626"/><stop offset=".757" stop-color="#1d1d1d"/><stop offset=".782" stop-color="#141414"/><stop offset=".804" stop-color="#0e0e0e"/><stop offset=".834" stop-color="#090909"/><stop offset=".875" stop-color="#050505"/><stop offset=".941" stop-color="#030303"/><stop offset=".978" stop-color="#020202"/></linearGradient><linearGradient id="hm28" gradientUnits="userSpaceOnUse" x1="0" y1="655.8" x2="0" y2="1200.3"><stop offset=".022" stop-color="#050505"/><stop offset=".103" stop-color="#090909"/><stop offset=".151" stop-color="#0d0d0d"/><stop offset=".196" stop-color="#131313"/><stop offset=".225" stop-color="#181818"/><stop offset=".251" stop-color="#1f1f1f"/><stop offset=".273" stop-color="#262626"/><stop offset=".295" stop-color="#2f2f2f"/><stop offset=".317" stop-color="#3a3a3a"/><stop offset=".339" stop-color="#484848"/><stop offset=".362" stop-color="#585858"/><stop offset=".395" stop-color="#737373"/><stop offset=".443" stop-color="#9c9c9c"/><stop offset=".461" stop-color="#aaaaaa"/><stop offset=".480" stop-color="#b5b5b5"/><stop offset=".494" stop-color="#bcbcbc"/><stop offset=".509" stop-color="#c0c0c0"/><stop offset=".524" stop-color="#c2c2c2"/><stop offset=".539" stop-color="#c1c1c1"/><stop offset=".554" stop-color="#bdbdbd"/><stop offset=".568" stop-color="#b6b6b6"/><stop offset=".583" stop-color="#acacac"/><stop offset=".601" stop-color="#9e9e9e"/><stop offset=".631" stop-color="#828282"/><stop offset=".675" stop-color="#575757"/><stop offset=".697" stop-color="#444444"/><stop offset=".720" stop-color="#333333"/><stop offset=".738" stop-color="#282828"/><stop offset=".757" stop-color="#1f1f1f"/><stop offset=".782" stop-color="#151515"/><stop offset=".804" stop-color="#0f0f0f"/><stop offset=".834" stop-color="#090909"/><stop offset=".875" stop-color="#050505"/><stop offset=".941" stop-color="#030303"/><stop offset=".978" stop-color="#020202"/></linearGradient><linearGradient id="hm29" gradientUnits="userSpaceOnUse" x1="0" y1="655.8" x2="0" y2="1200.3"><stop offset=".022" stop-color="#050505"/><stop offset=".103" stop-color="#0a0a0a"/><stop offset=".151" stop-color="#0e0e0e"/><stop offset=".196" stop-color="#141414"/><stop offset=".225" stop-color="#191919"/><stop offset=".251" stop-color="#202020"/><stop offset=".273" stop-color="#272727"/><stop offset=".295" stop-color="#313131"/><stop offset=".317" stop-color="#3c3c3c"/><stop offset=".339" stop-color="#4b4b4b"/><stop offset=".362" stop-color="#5b5b5b"/><stop offset=".395" stop-color="#787878"/><stop offset=".443" stop-color="#a3a3a3"/><stop offset=".461" stop-color="#b1b1b1"/><stop offset=".480" stop-color="#bdbdbd"/><stop offset=".494" stop-color="#c4c4c4"/><stop offset=".509" stop-color="#c8c8c8"/><stop offset=".524" stop-color="#cacaca"/><stop offset=".539" stop-color="#c9c9c9"/><stop offset=".554" stop-color="#c5c5c5"/><stop offset=".568" stop-color="#bebebe"/><stop offset=".583" stop-color="#b4b4b4"/><stop offset=".601" stop-color="#a5a5a5"/><stop offset=".631" stop-color="#888888"/><stop offset=".675" stop-color="#5b5b5b"/><stop offset=".697" stop-color="#474747"/><stop offset=".720" stop-color="#363636"/><stop offset=".738" stop-color="#2a2a2a"/><stop offset=".757" stop-color="#202020"/><stop offset=".782" stop-color="#161616"/><stop offset=".804" stop-color="#0f0f0f"/><stop offset=".834" stop-color="#0a0a0a"/><stop offset=".875" stop-color="#050505"/><stop offset=".941" stop-color="#030303"/><stop offset=".978" stop-color="#020202"/></linearGradient><linearGradient id="hm30" gradientUnits="userSpaceOnUse" x1="0" y1="655.8" x2="0" y2="1200.3"><stop offset=".022" stop-color="#050505"/><stop offset=".103" stop-color="#0a0a0a"/><stop offset=".151" stop-color="#0e0e0e"/><stop offset=".196" stop-color="#141414"/><stop offset=".225" stop-color="#1a1a1a"/><stop offset=".251" stop-color="#212121"/><stop offset=".273" stop-color="#292929"/><stop offset=".295" stop-color="#333333"/><stop offset=".317" stop-color="#3f3f3f"/><stop offset=".339" stop-color="#4e4e4e"/><stop offset=".362" stop-color="#5f5f5f"/><stop offset=".395" stop-color="#7d7d7d"/><stop offset=".443" stop-color="#a9a9a9"/><stop offset=".461" stop-color="#b8b8b8"/><stop offset=".480" stop-color="#c5c5c5"/><stop offset=".494" stop-color="#cccccc"/><stop offset=".509" stop-color="#d1d1d1"/><stop offset=".524" stop-color="#d2d2d2"/><stop offset=".539" stop-color="#d1d1d1"/><stop offset=".554" stop-color="#cdcdcd"/><stop offset=".568" stop-color="#c5c5c5"/><stop offset=".583" stop-color="#bbbbbb"/><stop offset=".601" stop-color="#ababab"/><stop offset=".631" stop-color="#8d8d8d"/><stop offset=".675" stop-color="#5f5f5f"/><stop offset=".697" stop-color="#4a4a4a"/><stop offset=".720" stop-color="#383838"/><stop offset=".738" stop-color="#2b2b2b"/><stop offset=".757" stop-color="#212121"/><stop offset=".782" stop-color="#161616"/><stop offset=".804" stop-color="#101010"/><stop offset=".834" stop-color="#0a0a0a"/><stop offset=".875" stop-color="#060606"/><stop offset=".941" stop-color="#030303"/><stop offset=".978" stop-color="#020202"/></linearGradient><linearGradient id="hm31" gradientUnits="userSpaceOnUse" x1="0" y1="655.8" x2="0" y2="1200.3"><stop offset=".022" stop-color="#060606"/><stop offset=".103" stop-color="#0a0a0a"/><stop offset=".151" stop-color="#0f0f0f"/><stop offset=".196" stop-color="#151515"/><stop offset=".225" stop-color="#1b1b1b"/><stop offset=".251" stop-color="#222222"/><stop offset=".273" stop-color="#2a2a2a"/><stop offset=".295" stop-color="#343434"/><stop offset=".317" stop-color="#414141"/><stop offset=".339" stop-color="#505050"/><stop offset=".362" stop-color="#636363"/><stop offset=".395" stop-color="#818181"/><stop offset=".424" stop-color="#9e9e9e"/><stop offset=".443" stop-color="#b0b0b0"/><stop offset=".461" stop-color="#bfbfbf"/><stop offset=".480" stop-color="#cccccc"/><stop offset=".494" stop-color="#d3d3d3"/><stop offset=".509" stop-color="#d8d8d8"/><stop offset=".524" stop-color="#dadada"/><stop offset=".539" stop-color="#d9d9d9"/><stop offset=".554" stop-color="#d4d4d4"/><stop offset=".568" stop-color="#cdcdcd"/><stop offset=".583" stop-color="#c2c2c2"/><stop offset=".601" stop-color="#b2b2b2"/><stop offset=".631" stop-color="#939393"/><stop offset=".675" stop-color="#626262"/><stop offset=".697" stop-color="#4c4c4c"/><stop offset=".720" stop-color="#3a3a3a"/><stop offset=".738" stop-color="#2d2d2d"/><stop offset=".757" stop-color="#222222"/><stop offset=".782" stop-color="#171717"/><stop offset=".804" stop-color="#101010"/><stop offset=".834" stop-color="#0a0a0a"/><stop offset=".875" stop-color="#060606"/><stop offset=".941" stop-color="#030303"/><stop offset=".978" stop-color="#020202"/></linearGradient><linearGradient id="hm32" gradientUnits="userSpaceOnUse" x1="0" y1="655.8" x2="0" y2="1200.3"><stop offset=".022" stop-color="#060606"/><stop offset=".103" stop-color="#0b0b0b"/><stop offset=".151" stop-color="#0f0f0f"/><stop offset=".196" stop-color="#161616"/><stop offset=".225" stop-color="#1c1c1c"/><stop offset=".251" stop-color="#232323"/><stop offset=".273" stop-color="#2c2c2c"/><stop offset=".295" stop-color="#363636"/><stop offset=".317" stop-color="#434343"/><stop offset=".339" stop-color="#535353"/><stop offset=".362" stop-color="#666666"/><stop offset=".395" stop-color="#868686"/><stop offset=".424" stop-color="#a4a4a4"/><stop offset=".443" stop-color="#b6b6b6"/><stop offset=".461" stop-color="#c5c5c5"/><stop offset=".480" stop-color="#d3d3d3"/><stop offset=".494" stop-color="#dadada"/><stop offset=".509" stop-color="#dfdfdf"/><stop offset=".524" stop-color="#e1e1e1"/><stop offset=".539" stop-color="#e0e0e0"/><stop offset=".554" stop-color="#dbdbdb"/><stop offset=".568" stop-color="#d3d3d3"/><stop offset=".583" stop-color="#c8c8c8"/><stop offset=".601" stop-color="#b8b8b8"/><stop offset=".620" stop-color="#a4a4a4"/><stop offset=".664" stop-color="#717171"/><stop offset=".686" stop-color="#5a5a5a"/><stop offset=".709" stop-color="#454545"/><stop offset=".731" stop-color="#333333"/><stop offset=".749" stop-color="#282828"/><stop offset=".768" stop-color="#1e1e1e"/><stop offset=".790" stop-color="#151515"/><stop offset=".812" stop-color="#0f0f0f"/><stop offset=".841" stop-color="#090909"/><stop offset=".878" stop-color="#060606"/><stop offset=".945" stop-color="#030303"/><stop offset=".978" stop-color="#020202"/></linearGradient><linearGradient id="hm33" gradientUnits="userSpaceOnUse" x1="0" y1="655.8" x2="0" y2="1200.3"><stop offset=".022" stop-color="#060606"/><stop offset=".103" stop-color="#0b0b0b"/><stop offset=".151" stop-color="#101010"/><stop offset=".196" stop-color="#161616"/><stop offset=".225" stop-color="#1d1d1d"/><stop offset=".251" stop-color="#242424"/><stop offset=".273" stop-color="#2d2d2d"/><stop offset=".295" stop-color="#383838"/><stop offset=".317" stop-color="#454545"/><stop offset=".339" stop-color="#565656"/><stop offset=".362" stop-color="#696969"/><stop offset=".395" stop-color="#8a8a8a"/><stop offset=".424" stop-color="#a8a8a8"/><stop offset=".443" stop-color="#bbbbbb"/><stop offset=".461" stop-color="#cbcbcb"/><stop offset=".480" stop-color="#d9d9d9"/><stop offset=".494" stop-color="#e1e1e1"/><stop offset=".509" stop-color="#e6e6e6"/><stop offset=".524" stop-color="#e8e8e8"/><stop offset=".539" stop-color="#e7e7e7"/><stop offset=".554" stop-color="#e2e2e2"/><stop offset=".568" stop-color="#dadada"/><stop offset=".583" stop-color="#cecece"/><stop offset=".601" stop-color="#bdbdbd"/><stop offset=".620" stop-color="#a9a9a9"/><stop offset=".664" stop-color="#757575"/><stop offset=".686" stop-color="#5c5c5c"/><stop offset=".709" stop-color="#474747"/><stop offset=".731" stop-color="#353535"/><stop offset=".749" stop-color="#292929"/><stop offset=".768" stop-color="#1f1f1f"/><stop offset=".790" stop-color="#161616"/><stop offset=".812" stop-color="#0f0f0f"/><stop offset=".841" stop-color="#0a0a0a"/><stop offset=".878" stop-color="#060606"/><stop offset=".945" stop-color="#030303"/><stop offset=".978" stop-color="#020202"/></linearGradient><linearGradient id="hm34" gradientUnits="userSpaceOnUse" x1="0" y1="655.8" x2="0" y2="1200.3"><stop offset=".022" stop-color="#060606"/><stop offset=".103" stop-color="#0b0b0b"/><stop offset=".151" stop-color="#101010"/><stop offset=".196" stop-color="#171717"/><stop offset=".225" stop-color="#1e1e1e"/><stop offset=".251" stop-color="#252525"/><stop offset=".273" stop-color="#2e2e2e"/><stop offset=".295" stop-color="#393939"/><stop offset=".317" stop-color="#474747"/><stop offset=".339" stop-color="#585858"/><stop offset=".362" stop-color="#6b6b6b"/><stop offset=".395" stop-color="#8d8d8d"/><stop offset=".424" stop-color="#adadad"/><stop offset=".443" stop-color="#c0c0c0"/><stop offset=".461" stop-color="#d1d1d1"/><stop offset=".480" stop-color="#dedede"/><stop offset=".494" stop-color="#e7e7e7"/><stop offset=".509" stop-color="#ececec"/><stop offset=".524" stop-color="#eeeeee"/><stop offset=".539" stop-color="#ededed"/><stop offset=".554" stop-color="#e8e8e8"/><stop offset=".568" stop-color="#dfdfdf"/><stop offset=".583" stop-color="#d4d4d4"/><stop offset=".601" stop-color="#c2c2c2"/><stop offset=".620" stop-color="#adadad"/><stop offset=".664" stop-color="#787878"/><stop offset=".686" stop-color="#5f5f5f"/><stop offset=".709" stop-color="#494949"/><stop offset=".731" stop-color="#363636"/><stop offset=".749" stop-color="#2a2a2a"/><stop offset=".768" stop-color="#202020"/><stop offset=".790" stop-color="#161616"/><stop offset=".812" stop-color="#101010"/><stop offset=".841" stop-color="#0a0a0a"/><stop offset=".878" stop-color="#060606"/><stop offset=".945" stop-color="#030303"/><stop offset=".978" stop-color="#020202"/></linearGradient><linearGradient id="hm35" gradientUnits="userSpaceOnUse" x1="0" y1="655.8" x2="0" y2="1200.3"><stop offset=".022" stop-color="#060606"/><stop offset=".103" stop-color="#0c0c0c"/><stop offset=".151" stop-color="#111111"/><stop offset=".196" stop-color="#171717"/><stop offset=".225" stop-color="#1e1e1e"/><stop offset=".251" stop-color="#262626"/><stop offset=".273" stop-color="#2f2f2f"/><stop offset=".295" stop-color="#3a3a3a"/><stop offset=".317" stop-color="#494949"/><stop offset=".339" stop-color="#5a5a5a"/><stop offset=".362" stop-color="#6e6e6e"/><stop offset=".395" stop-color="#909090"/><stop offset=".424" stop-color="#b1b1b1"/><stop offset=".443" stop-color="#c4c4c4"/><stop offset=".461" stop-color="#d5d5d5"/><stop offset=".480" stop-color="#e3e3e3"/><stop offset=".494" stop-color="#ececec"/><stop offset=".509" stop-color="#f1f1f1"/><stop offset=".524" stop-color="#f4f4f4"/><stop offset=".539" stop-color="#f2f2f2"/><stop offset=".554" stop-color="#ededed"/><stop offset=".568" stop-color="#e4e4e4"/><stop offset=".583" stop-color="#d9d9d9"/><stop offset=".601" stop-color="#c6c6c6"/><stop offset=".620" stop-color="#b1b1b1"/><stop offset=".664" stop-color="#7b7b7b"/><stop offset=".686" stop-color="#616161"/><stop offset=".709" stop-color="#4a4a4a"/><stop offset=".731" stop-color="#383838"/><stop offset=".749" stop-color="#2b2b2b"/><stop offset=".768" stop-color="#202020"/><stop offset=".790" stop-color="#171717"/><stop offset=".812" stop-color="#101010"/><stop offset=".841" stop-color="#0a0a0a"/><stop offset=".878" stop-color="#060606"/><stop offset=".945" stop-color="#030303"/><stop offset=".978" stop-color="#020202"/></linearGradient><linearGradient id="hm36" gradientUnits="userSpaceOnUse" x1="0" y1="655.8" x2="0" y2="1200.3"><stop offset=".022" stop-color="#060606"/><stop offset=".103" stop-color="#0c0c0c"/><stop offset=".151" stop-color="#111111"/><stop offset=".196" stop-color="#181818"/><stop offset=".225" stop-color="#1f1f1f"/><stop offset=".251" stop-color="#272727"/><stop offset=".273" stop-color="#303030"/><stop offset=".295" stop-color="#3c3c3c"/><stop offset=".317" stop-color="#4a4a4a"/><stop offset=".339" stop-color="#5c5c5c"/><stop offset=".362" stop-color="#707070"/><stop offset=".384" stop-color="#878787"/><stop offset=".432" stop-color="#bcbcbc"/><stop offset=".450" stop-color="#cfcfcf"/><stop offset=".469" stop-color="#e0e0e0"/><stop offset=".483" stop-color="#eaeaea"/><stop offset=".498" stop-color="#f2f2f2"/><stop offset=".513" stop-color="#f7f7f7"/><stop offset=".528" stop-color="#f8f8f8"/><stop offset=".542" stop-color="#f6f6f6"/><stop offset=".557" stop-color="#f0f0f0"/><stop offset=".572" stop-color="#e6e6e6"/><stop offset=".587" stop-color="#d9d9d9"/><stop offset=".605" stop-color="#c6c6c6"/><stop offset=".635" stop-color="#a2a2a2"/><stop offset=".664" stop-color="#7d7d7d"/><stop offset=".686" stop-color="#636363"/><stop offset=".709" stop-color="#4c4c4c"/><stop offset=".731" stop-color="#393939"/><stop offset=".749" stop-color="#2c2c2c"/><stop offset=".768" stop-color="#212121"/><stop offset=".790" stop-color="#171717"/><stop offset=".812" stop-color="#101010"/><stop offset=".841" stop-color="#0a0a0a"/><stop offset=".878" stop-color="#060606"/><stop offset=".945" stop-color="#030303"/><stop offset=".978" stop-color="#020202"/></linearGradient><linearGradient id="hm37" gradientUnits="userSpaceOnUse" x1="0" y1="655.8" x2="0" y2="1200.3"><stop offset=".022" stop-color="#060606"/><stop offset=".103" stop-color="#0c0c0c"/><stop offset=".151" stop-color="#111111"/><stop offset=".196" stop-color="#181818"/><stop offset=".225" stop-color="#1f1f1f"/><stop offset=".251" stop-color="#272727"/><stop offset=".273" stop-color="#313131"/><stop offset=".295" stop-color="#3d3d3d"/><stop offset=".317" stop-color="#4b4b4b"/><stop offset=".339" stop-color="#5d5d5d"/><stop offset=".362" stop-color="#727272"/><stop offset=".384" stop-color="#898989"/><stop offset=".432" stop-color="#bfbfbf"/><stop offset=".450" stop-color="#d3d3d3"/><stop offset=".469" stop-color="#e3e3e3"/><stop offset=".483" stop-color="#eeeeee"/><stop offset=".498" stop-color="#f6f6f6"/><stop offset=".513" stop-color="#fbfbfb"/><stop offset=".528" stop-color="#fcfcfc"/><stop offset=".542" stop-color="#fafafa"/><stop offset=".557" stop-color="#f4f4f4"/><stop offset=".572" stop-color="#eaeaea"/><stop offset=".587" stop-color="#dddddd"/><stop offset=".605" stop-color="#c9c9c9"/><stop offset=".635" stop-color="#a5a5a5"/><stop offset=".664" stop-color="#7f7f7f"/><stop offset=".686" stop-color="#656565"/><stop offset=".709" stop-color="#4d4d4d"/><stop offset=".731" stop-color="#3a3a3a"/><stop offset=".749" stop-color="#2c2c2c"/><stop offset=".768" stop-color="#222222"/><stop offset=".790" stop-color="#181818"/><stop offset=".812" stop-color="#111111"/><stop offset=".841" stop-color="#0a0a0a"/><stop offset=".878" stop-color="#060606"/><stop offset=".945" stop-color="#030303"/><stop offset=".978" stop-color="#020202"/></linearGradient><linearGradient id="hm38" gradientUnits="userSpaceOnUse" x1="0" y1="655.8" x2="0" y2="1200.3"><stop offset=".022" stop-color="#060606"/><stop offset=".103" stop-color="#0c0c0c"/><stop offset=".151" stop-color="#111111"/><stop offset=".196" stop-color="#191919"/><stop offset=".225" stop-color="#202020"/><stop offset=".251" stop-color="#282828"/><stop offset=".273" stop-color="#323232"/><stop offset=".295" stop-color="#3e3e3e"/><stop offset=".317" stop-color="#4d4d4d"/><stop offset=".339" stop-color="#5f5f5f"/><stop offset=".362" stop-color="#747474"/><stop offset=".384" stop-color="#8c8c8c"/><stop offset=".432" stop-color="#c3c3c3"/><stop offset=".450" stop-color="#d7d7d7"/><stop offset=".469" stop-color="#e8e8e8"/><stop offset=".483" stop-color="#f3f3f3"/><stop offset=".498" stop-color="#fbfbfb"/><stop offset=".506" stop-color="#fefefe"/><stop offset=".520" stop-color="#ffffff"/><stop offset=".542" stop-color="#fefefe"/><stop offset=".550" stop-color="#fcfcfc"/><stop offset=".565" stop-color="#f4f4f4"/><stop offset=".579" stop-color="#e8e8e8"/><stop offset=".594" stop-color="#dadada"/><stop offset=".613" stop-color="#c4c4c4"/><stop offset=".657" stop-color="#8b8b8b"/><stop offset=".679" stop-color="#6f6f6f"/><stop offset=".701" stop-color="#565656"/><stop offset=".723" stop-color="#414141"/><stop offset=".742" stop-color="#323232"/><stop offset=".760" stop-color="#262626"/><stop offset=".775" stop-color="#1e1e1e"/><stop offset=".797" stop-color="#151515"/><stop offset=".819" stop-color="#0f0f0f"/><stop offset=".849" stop-color="#0a0a0a"/><stop offset=".886" stop-color="#060606"/><stop offset=".945" stop-color="#030303"/><stop offset=".978" stop-color="#020202"/></linearGradient><linearGradient id="hm39" gradientUnits="userSpaceOnUse" x1="0" y1="655.8" x2="0" y2="1200.3"><stop offset=".022" stop-color="#070707"/><stop offset=".103" stop-color="#0c0c0c"/><stop offset=".151" stop-color="#121212"/><stop offset=".196" stop-color="#191919"/><stop offset=".225" stop-color="#212121"/><stop offset=".251" stop-color="#292929"/><stop offset=".273" stop-color="#333333"/><stop offset=".295" stop-color="#3f3f3f"/><stop offset=".317" stop-color="#4e4e4e"/><stop offset=".339" stop-color="#616161"/><stop offset=".362" stop-color="#777777"/><stop offset=".384" stop-color="#8f8f8f"/><stop offset=".432" stop-color="#c7c7c7"/><stop offset=".450" stop-color="#dbdbdb"/><stop offset=".469" stop-color="#ededed"/><stop offset=".483" stop-color="#f8f8f8"/><stop offset=".491" stop-color="#fcfcfc"/><stop offset=".494" stop-color="#fefefe"/><stop offset=".509" stop-color="#ffffff"/><stop offset=".546" stop-color="#ffffff"/><stop offset=".554" stop-color="#ffffff"/><stop offset=".561" stop-color="#fbfbfb"/><stop offset=".576" stop-color="#f0f0f0"/><stop offset=".590" stop-color="#e1e1e1"/><stop offset=".609" stop-color="#cccccc"/><stop offset=".638" stop-color="#a6a6a6"/><stop offset=".664" stop-color="#838383"/><stop offset=".686" stop-color="#686868"/><stop offset=".709" stop-color="#505050"/><stop offset=".723" stop-color="#424242"/><stop offset=".742" stop-color="#333333"/><stop offset=".760" stop-color="#272727"/><stop offset=".775" stop-color="#1f1f1f"/><stop offset=".797" stop-color="#161616"/><stop offset=".819" stop-color="#0f0f0f"/><stop offset=".849" stop-color="#0a0a0a"/><stop offset=".886" stop-color="#060606"/><stop offset=".945" stop-color="#030303"/><stop offset=".978" stop-color="#020202"/></linearGradient><linearGradient id="hm40" gradientUnits="userSpaceOnUse" x1="0" y1="655.8" x2="0" y2="1200.3"><stop offset=".022" stop-color="#070707"/><stop offset=".103" stop-color="#0d0d0d"/><stop offset=".151" stop-color="#121212"/><stop offset=".196" stop-color="#1a1a1a"/><stop offset=".225" stop-color="#212121"/><stop offset=".251" stop-color="#2a2a2a"/><stop offset=".273" stop-color="#333333"/><stop offset=".295" stop-color="#404040"/><stop offset=".317" stop-color="#4f4f4f"/><stop offset=".339" stop-color="#626262"/><stop offset=".362" stop-color="#787878"/><stop offset=".384" stop-color="#919191"/><stop offset=".432" stop-color="#c9c9c9"/><stop offset=".450" stop-color="#dcdcdc"/><stop offset=".469" stop-color="#ededed"/><stop offset=".483" stop-color="#f8f8f8"/><stop offset=".491" stop-color="#fdfdfd"/><stop offset=".494" stop-color="#fefefe"/><stop offset=".502" stop-color="#ffffff"/><stop offset=".539" stop-color="#ffffff"/><stop offset=".546" stop-color="#ffffff"/><stop offset=".554" stop-color="#fefefe"/><stop offset=".568" stop-color="#f4f4f4"/><stop offset=".583" stop-color="#e7e7e7"/><stop offset=".601" stop-color="#d3d3d3"/><stop offset=".620" stop-color="#bcbcbc"/><stop offset=".664" stop-color="#818181"/><stop offset=".686" stop-color="#666666"/><stop offset=".709" stop-color="#4e4e4e"/><stop offset=".723" stop-color="#404040"/><stop offset=".742" stop-color="#323232"/><stop offset=".760" stop-color="#262626"/><stop offset=".775" stop-color="#1e1e1e"/><stop offset=".797" stop-color="#151515"/><stop offset=".819" stop-color="#0f0f0f"/><stop offset=".849" stop-color="#090909"/><stop offset=".886" stop-color="#060606"/><stop offset=".945" stop-color="#030303"/><stop offset=".978" stop-color="#020202"/></linearGradient><linearGradient id="hm41" gradientUnits="userSpaceOnUse" x1="0" y1="655.8" x2="0" y2="1200.3"><stop offset=".022" stop-color="#070707"/><stop offset=".103" stop-color="#0c0c0c"/><stop offset=".151" stop-color="#121212"/><stop offset=".196" stop-color="#191919"/><stop offset=".225" stop-color="#212121"/><stop offset=".251" stop-color="#292929"/><stop offset=".273" stop-color="#333333"/><stop offset=".295" stop-color="#404040"/><stop offset=".317" stop-color="#4f4f4f"/><stop offset=".339" stop-color="#626262"/><stop offset=".362" stop-color="#777777"/><stop offset=".395" stop-color="#9c9c9c"/><stop offset=".424" stop-color="#bebebe"/><stop offset=".443" stop-color="#d2d2d2"/><stop offset=".461" stop-color="#e4e4e4"/><stop offset=".480" stop-color="#f2f2f2"/><stop offset=".494" stop-color="#fbfbfb"/><stop offset=".502" stop-color="#fefefe"/><stop offset=".517" stop-color="#ffffff"/><stop offset=".539" stop-color="#fefefe"/><stop offset=".546" stop-color="#fcfcfc"/><stop offset=".561" stop-color="#f4f4f4"/><stop offset=".576" stop-color="#e9e9e9"/><stop offset=".590" stop-color="#dadada"/><stop offset=".609" stop-color="#c5c5c5"/><stop offset=".653" stop-color="#8c8c8c"/><stop offset=".675" stop-color="#707070"/><stop offset=".697" stop-color="#575757"/><stop offset=".720" stop-color="#414141"/><stop offset=".738" stop-color="#333333"/><stop offset=".757" stop-color="#272727"/><stop offset=".771" stop-color="#1f1f1f"/><stop offset=".793" stop-color="#161616"/><stop offset=".816" stop-color="#0f0f0f"/><stop offset=".845" stop-color="#0a0a0a"/><stop offset=".882" stop-color="#060606"/><stop offset=".945" stop-color="#030303"/><stop offset=".978" stop-color="#020202"/></linearGradient><linearGradient id="hm42" gradientUnits="userSpaceOnUse" x1="0" y1="655.8" x2="0" y2="1200.3"><stop offset=".022" stop-color="#070707"/><stop offset=".103" stop-color="#0c0c0c"/><stop offset=".151" stop-color="#121212"/><stop offset=".196" stop-color="#191919"/><stop offset=".225" stop-color="#202020"/><stop offset=".251" stop-color="#292929"/><stop offset=".273" stop-color="#333333"/><stop offset=".295" stop-color="#3f3f3f"/><stop offset=".317" stop-color="#4e4e4e"/><stop offset=".339" stop-color="#616161"/><stop offset=".362" stop-color="#767676"/><stop offset=".395" stop-color="#9b9b9b"/><stop offset=".424" stop-color="#bcbcbc"/><stop offset=".443" stop-color="#d0d0d0"/><stop offset=".461" stop-color="#e1e1e1"/><stop offset=".480" stop-color="#efefef"/><stop offset=".494" stop-color="#f7f7f7"/><stop offset=".509" stop-color="#fcfcfc"/><stop offset=".524" stop-color="#fdfdfd"/><stop offset=".539" stop-color="#fbfbfb"/><stop offset=".554" stop-color="#f5f5f5"/><stop offset=".568" stop-color="#ebebeb"/><stop offset=".583" stop-color="#dedede"/><stop offset=".601" stop-color="#cacaca"/><stop offset=".631" stop-color="#a5a5a5"/><stop offset=".661" stop-color="#7f7f7f"/><stop offset=".683" stop-color="#656565"/><stop offset=".705" stop-color="#4d4d4d"/><stop offset=".727" stop-color="#3a3a3a"/><stop offset=".745" stop-color="#2c2c2c"/><stop offset=".764" stop-color="#222222"/><stop offset=".786" stop-color="#181818"/><stop offset=".808" stop-color="#111111"/><stop offset=".838" stop-color="#0b0b0b"/><stop offset=".875" stop-color="#060606"/><stop offset=".941" stop-color="#030303"/><stop offset=".978" stop-color="#020202"/></linearGradient><linearGradient id="hm43" gradientUnits="userSpaceOnUse" x1="0" y1="655.8" x2="0" y2="1200.3"><stop offset=".022" stop-color="#070707"/><stop offset=".103" stop-color="#0c0c0c"/><stop offset=".151" stop-color="#121212"/><stop offset=".196" stop-color="#191919"/><stop offset=".225" stop-color="#202020"/><stop offset=".251" stop-color="#292929"/><stop offset=".273" stop-color="#323232"/><stop offset=".295" stop-color="#3f3f3f"/><stop offset=".317" stop-color="#4e4e4e"/><stop offset=".339" stop-color="#606060"/><stop offset=".362" stop-color="#757575"/><stop offset=".395" stop-color="#999999"/><stop offset=".424" stop-color="#bababa"/><stop offset=".443" stop-color="#cecece"/><stop offset=".461" stop-color="#dfdfdf"/><stop offset=".480" stop-color="#ededed"/><stop offset=".494" stop-color="#f4f4f4"/><stop offset=".509" stop-color="#f9f9f9"/><stop offset=".524" stop-color="#fafafa"/><stop offset=".539" stop-color="#f8f8f8"/><stop offset=".554" stop-color="#f2f2f2"/><stop offset=".568" stop-color="#e8e8e8"/><stop offset=".583" stop-color="#dbdbdb"/><stop offset=".601" stop-color="#c7c7c7"/><stop offset=".631" stop-color="#a3a3a3"/><stop offset=".661" stop-color="#7d7d7d"/><stop offset=".683" stop-color="#636363"/><stop offset=".705" stop-color="#4c4c4c"/><stop offset=".727" stop-color="#393939"/><stop offset=".745" stop-color="#2c2c2c"/><stop offset=".764" stop-color="#212121"/><stop offset=".786" stop-color="#171717"/><stop offset=".808" stop-color="#101010"/><stop offset=".838" stop-color="#0a0a0a"/><stop offset=".875" stop-color="#060606"/><stop offset=".941" stop-color="#030303"/><stop offset=".978" stop-color="#020202"/></linearGradient><linearGradient id="hm44" gradientUnits="userSpaceOnUse" x1="0" y1="655.8" x2="0" y2="1200.3"><stop offset=".022" stop-color="#060606"/><stop offset=".103" stop-color="#0c0c0c"/><stop offset=".151" stop-color="#111111"/><stop offset=".196" stop-color="#191919"/><stop offset=".225" stop-color="#202020"/><stop offset=".251" stop-color="#282828"/><stop offset=".273" stop-color="#323232"/><stop offset=".295" stop-color="#3e3e3e"/><stop offset=".317" stop-color="#4d4d4d"/><stop offset=".339" stop-color="#5f5f5f"/><stop offset=".362" stop-color="#747474"/><stop offset=".395" stop-color="#989898"/><stop offset=".424" stop-color="#b8b8b8"/><stop offset=".443" stop-color="#cccccc"/><stop offset=".461" stop-color="#dcdcdc"/><stop offset=".480" stop-color="#eaeaea"/><stop offset=".494" stop-color="#f1f1f1"/><stop offset=".509" stop-color="#f6f6f6"/><stop offset=".524" stop-color="#f7f7f7"/><stop offset=".539" stop-color="#f5f5f5"/><stop offset=".554" stop-color="#eeeeee"/><stop offset=".568" stop-color="#e4e4e4"/><stop offset=".583" stop-color="#d8d8d8"/><stop offset=".601" stop-color="#c4c4c4"/><stop offset=".631" stop-color="#a0a0a0"/><stop offset=".661" stop-color="#7b7b7b"/><stop offset=".683" stop-color="#616161"/><stop offset=".705" stop-color="#4b4b4b"/><stop offset=".727" stop-color="#383838"/><stop offset=".745" stop-color="#2b2b2b"/><stop offset=".764" stop-color="#202020"/><stop offset=".786" stop-color="#171717"/><stop offset=".808" stop-color="#101010"/><stop offset=".838" stop-color="#0a0a0a"/><stop offset=".875" stop-color="#060606"/><stop offset=".941" stop-color="#030303"/><stop offset=".978" stop-color="#020202"/></linearGradient><linearGradient id="hm45" gradientUnits="userSpaceOnUse" x1="0" y1="655.8" x2="0" y2="1200.3"><stop offset=".022" stop-color="#060606"/><stop offset=".103" stop-color="#0c0c0c"/><stop offset=".151" stop-color="#111111"/><stop offset=".196" stop-color="#181818"/><stop offset=".225" stop-color="#202020"/><stop offset=".251" stop-color="#282828"/><stop offset=".273" stop-color="#313131"/><stop offset=".295" stop-color="#3d3d3d"/><stop offset=".317" stop-color="#4c4c4c"/><stop offset=".339" stop-color="#5e5e5e"/><stop offset=".362" stop-color="#737373"/><stop offset=".395" stop-color="#969696"/><stop offset=".424" stop-color="#b6b6b6"/><stop offset=".443" stop-color="#c9c9c9"/><stop offset=".461" stop-color="#d9d9d9"/><stop offset=".480" stop-color="#e7e7e7"/><stop offset=".494" stop-color="#eeeeee"/><stop offset=".509" stop-color="#f2f2f2"/><stop offset=".524" stop-color="#f4f4f4"/><stop offset=".539" stop-color="#f1f1f1"/><stop offset=".554" stop-color="#ebebeb"/><stop offset=".568" stop-color="#e1e1e1"/><stop offset=".583" stop-color="#d4d4d4"/><stop offset=".601" stop-color="#c1c1c1"/><stop offset=".631" stop-color="#9d9d9d"/><stop offset=".661" stop-color="#797979"/><stop offset=".683" stop-color="#606060"/><stop offset=".705" stop-color="#494949"/><stop offset=".727" stop-color="#373737"/><stop offset=".745" stop-color="#2a2a2a"/><stop offset=".764" stop-color="#202020"/><stop offset=".786" stop-color="#161616"/><stop offset=".808" stop-color="#101010"/><stop offset=".838" stop-color="#0a0a0a"/><stop offset=".875" stop-color="#060606"/><stop offset=".941" stop-color="#030303"/><stop offset=".978" stop-color="#020202"/></linearGradient><linearGradient id="hm46" gradientUnits="userSpaceOnUse" x1="0" y1="655.8" x2="0" y2="1200.3"><stop offset=".022" stop-color="#060606"/><stop offset=".103" stop-color="#0c0c0c"/><stop offset=".151" stop-color="#111111"/><stop offset=".196" stop-color="#181818"/><stop offset=".225" stop-color="#1f1f1f"/><stop offset=".251" stop-color="#272727"/><stop offset=".273" stop-color="#313131"/><stop offset=".295" stop-color="#3d3d3d"/><stop offset=".317" stop-color="#4b4b4b"/><stop offset=".339" stop-color="#5d5d5d"/><stop offset=".362" stop-color="#717171"/><stop offset=".395" stop-color="#949494"/><stop offset=".424" stop-color="#b4b4b4"/><stop offset=".443" stop-color="#c6c6c6"/><stop offset=".461" stop-color="#d6d6d6"/><stop offset=".480" stop-color="#e3e3e3"/><stop offset=".494" stop-color="#ebebeb"/><stop offset=".509" stop-color="#efefef"/><stop offset=".524" stop-color="#f0f0f0"/><stop offset=".539" stop-color="#ededed"/><stop offset=".554" stop-color="#e7e7e7"/><stop offset=".568" stop-color="#dddddd"/><stop offset=".583" stop-color="#d0d0d0"/><stop offset=".601" stop-color="#bdbdbd"/><stop offset=".631" stop-color="#9b9b9b"/><stop offset=".661" stop-color="#777777"/><stop offset=".683" stop-color="#5e5e5e"/><stop offset=".705" stop-color="#484848"/><stop offset=".727" stop-color="#353535"/><stop offset=".745" stop-color="#292929"/><stop offset=".764" stop-color="#1f1f1f"/><stop offset=".786" stop-color="#161616"/><stop offset=".808" stop-color="#0f0f0f"/><stop offset=".838" stop-color="#0a0a0a"/><stop offset=".875" stop-color="#060606"/><stop offset=".941" stop-color="#030303"/><stop offset=".978" stop-color="#020202"/></linearGradient><linearGradient id="hm47" gradientUnits="userSpaceOnUse" x1="0" y1="655.8" x2="0" y2="1200.3"><stop offset=".022" stop-color="#060606"/><stop offset=".103" stop-color="#0c0c0c"/><stop offset=".151" stop-color="#111111"/><stop offset=".196" stop-color="#181818"/><stop offset=".225" stop-color="#1f1f1f"/><stop offset=".251" stop-color="#272727"/><stop offset=".273" stop-color="#303030"/><stop offset=".295" stop-color="#3c3c3c"/><stop offset=".317" stop-color="#4a4a4a"/><stop offset=".339" stop-color="#5c5c5c"/><stop offset=".362" stop-color="#707070"/><stop offset=".395" stop-color="#929292"/><stop offset=".424" stop-color="#b1b1b1"/><stop offset=".443" stop-color="#c3c3c3"/><stop offset=".461" stop-color="#d3d3d3"/><stop offset=".480" stop-color="#e0e0e0"/><stop offset=".494" stop-color="#e7e7e7"/><stop offset=".509" stop-color="#ebebeb"/><stop offset=".524" stop-color="#ececec"/><stop offset=".539" stop-color="#e9e9e9"/><stop offset=".554" stop-color="#e3e3e3"/><stop offset=".568" stop-color="#d9d9d9"/><stop offset=".583" stop-color="#cdcdcd"/><stop offset=".601" stop-color="#bababa"/><stop offset=".631" stop-color="#989898"/><stop offset=".661" stop-color="#747474"/><stop offset=".683" stop-color="#5c5c5c"/><stop offset=".705" stop-color="#464646"/><stop offset=".727" stop-color="#343434"/><stop offset=".745" stop-color="#282828"/><stop offset=".764" stop-color="#1e1e1e"/><stop offset=".786" stop-color="#161616"/><stop offset=".808" stop-color="#0f0f0f"/><stop offset=".838" stop-color="#0a0a0a"/><stop offset=".875" stop-color="#060606"/><stop offset=".941" stop-color="#030303"/><stop offset=".978" stop-color="#020202"/></linearGradient><linearGradient id="hm48" gradientUnits="userSpaceOnUse" x1="0" y1="655.8" x2="0" y2="1200.3"><stop offset=".022" stop-color="#060606"/><stop offset=".103" stop-color="#0c0c0c"/><stop offset=".151" stop-color="#111111"/><stop offset=".196" stop-color="#181818"/><stop offset=".225" stop-color="#1e1e1e"/><stop offset=".251" stop-color="#262626"/><stop offset=".273" stop-color="#303030"/><stop offset=".295" stop-color="#3b3b3b"/><stop offset=".317" stop-color="#494949"/><stop offset=".339" stop-color="#5b5b5b"/><stop offset=".362" stop-color="#6e6e6e"/><stop offset=".395" stop-color="#909090"/><stop offset=".424" stop-color="#afafaf"/><stop offset=".443" stop-color="#c0c0c0"/><stop offset=".461" stop-color="#d0d0d0"/><stop offset=".480" stop-color="#dcdcdc"/><stop offset=".494" stop-color="#e3e3e3"/><stop offset=".509" stop-color="#e7e7e7"/><stop offset=".524" stop-color="#e8e8e8"/><stop offset=".539" stop-color="#e5e5e5"/><stop offset=".554" stop-color="#dfdfdf"/><stop offset=".568" stop-color="#d5d5d5"/><stop offset=".583" stop-color="#c9c9c9"/><stop offset=".601" stop-color="#b6b6b6"/><stop offset=".631" stop-color="#949494"/><stop offset=".661" stop-color="#727272"/><stop offset=".683" stop-color="#5a5a5a"/><stop offset=".705" stop-color="#454545"/><stop offset=".727" stop-color="#333333"/><stop offset=".745" stop-color="#272727"/><stop offset=".764" stop-color="#1e1e1e"/><stop offset=".786" stop-color="#151515"/><stop offset=".808" stop-color="#0f0f0f"/><stop offset=".838" stop-color="#090909"/><stop offset=".875" stop-color="#060606"/><stop offset=".941" stop-color="#030303"/><stop offset=".978" stop-color="#020202"/></linearGradient><linearGradient id="hm49" gradientUnits="userSpaceOnUse" x1="0" y1="655.8" x2="0" y2="1200.3"><stop offset=".022" stop-color="#060606"/><stop offset=".103" stop-color="#0b0b0b"/><stop offset=".151" stop-color="#101010"/><stop offset=".196" stop-color="#171717"/><stop offset=".225" stop-color="#1e1e1e"/><stop offset=".251" stop-color="#262626"/><stop offset=".273" stop-color="#2f2f2f"/><stop offset=".295" stop-color="#3a3a3a"/><stop offset=".317" stop-color="#484848"/><stop offset=".339" stop-color="#595959"/><stop offset=".362" stop-color="#6d6d6d"/><stop offset=".395" stop-color="#8e8e8e"/><stop offset=".424" stop-color="#acacac"/><stop offset=".443" stop-color="#bdbdbd"/><stop offset=".461" stop-color="#cccccc"/><stop offset=".480" stop-color="#d8d8d8"/><stop offset=".494" stop-color="#dfdfdf"/><stop offset=".509" stop-color="#e3e3e3"/><stop offset=".524" stop-color="#e4e4e4"/><stop offset=".539" stop-color="#e1e1e1"/><stop offset=".554" stop-color="#dadada"/><stop offset=".568" stop-color="#d1d1d1"/><stop offset=".583" stop-color="#c5c5c5"/><stop offset=".601" stop-color="#b3b3b3"/><stop offset=".631" stop-color="#919191"/><stop offset=".661" stop-color="#6f6f6f"/><stop offset=".683" stop-color="#585858"/><stop offset=".705" stop-color="#434343"/><stop offset=".727" stop-color="#323232"/><stop offset=".745" stop-color="#262626"/><stop offset=".764" stop-color="#1d1d1d"/><stop offset=".786" stop-color="#151515"/><stop offset=".808" stop-color="#0e0e0e"/><stop offset=".838" stop-color="#090909"/><stop offset=".875" stop-color="#050505"/><stop offset=".941" stop-color="#030303"/><stop offset=".978" stop-color="#020202"/></linearGradient><linearGradient id="hm50" gradientUnits="userSpaceOnUse" x1="0" y1="655.8" x2="0" y2="1200.3"><stop offset=".022" stop-color="#060606"/><stop offset=".103" stop-color="#0b0b0b"/><stop offset=".151" stop-color="#101010"/><stop offset=".196" stop-color="#171717"/><stop offset=".225" stop-color="#1d1d1d"/><stop offset=".251" stop-color="#252525"/><stop offset=".273" stop-color="#2e2e2e"/><stop offset=".295" stop-color="#393939"/><stop offset=".317" stop-color="#474747"/><stop offset=".339" stop-color="#585858"/><stop offset=".362" stop-color="#6b6b6b"/><stop offset=".395" stop-color="#8b8b8b"/><stop offset=".424" stop-color="#a9a9a9"/><stop offset=".443" stop-color="#bababa"/><stop offset=".461" stop-color="#c9c9c9"/><stop offset=".480" stop-color="#d5d5d5"/><stop offset=".494" stop-color="#dbdbdb"/><stop offset=".509" stop-color="#dfdfdf"/><stop offset=".524" stop-color="#dfdfdf"/><stop offset=".539" stop-color="#dcdcdc"/><stop offset=".554" stop-color="#d6d6d6"/><stop offset=".568" stop-color="#cdcdcd"/><stop offset=".583" stop-color="#c1c1c1"/><stop offset=".601" stop-color="#afafaf"/><stop offset=".631" stop-color="#8e8e8e"/><stop offset=".661" stop-color="#6d6d6d"/><stop offset=".683" stop-color="#565656"/><stop offset=".705" stop-color="#424242"/><stop offset=".727" stop-color="#313131"/><stop offset=".745" stop-color="#252525"/><stop offset=".764" stop-color="#1c1c1c"/><stop offset=".786" stop-color="#141414"/><stop offset=".808" stop-color="#0e0e0e"/><stop offset=".838" stop-color="#090909"/><stop offset=".875" stop-color="#050505"/><stop offset=".941" stop-color="#030303"/><stop offset=".978" stop-color="#020202"/></linearGradient><linearGradient id="hm51" gradientUnits="userSpaceOnUse" x1="0" y1="655.8" x2="0" y2="1200.3"><stop offset=".022" stop-color="#060606"/><stop offset=".103" stop-color="#0b0b0b"/><stop offset=".151" stop-color="#101010"/><stop offset=".196" stop-color="#171717"/><stop offset=".225" stop-color="#1d1d1d"/><stop offset=".251" stop-color="#252525"/><stop offset=".273" stop-color="#2e2e2e"/><stop offset=".295" stop-color="#393939"/><stop offset=".317" stop-color="#464646"/><stop offset=".339" stop-color="#575757"/><stop offset=".362" stop-color="#696969"/><stop offset=".395" stop-color="#898989"/><stop offset=".424" stop-color="#a6a6a6"/><stop offset=".443" stop-color="#b7b7b7"/><stop offset=".461" stop-color="#c5c5c5"/><stop offset=".480" stop-color="#d1d1d1"/><stop offset=".494" stop-color="#d7d7d7"/><stop offset=".509" stop-color="#dbdbdb"/><stop offset=".524" stop-color="#dbdbdb"/><stop offset=".539" stop-color="#d8d8d8"/><stop offset=".554" stop-color="#d2d2d2"/><stop offset=".568" stop-color="#c9c9c9"/><stop offset=".583" stop-color="#bdbdbd"/><stop offset=".601" stop-color="#ababab"/><stop offset=".631" stop-color="#8b8b8b"/><stop offset=".661" stop-color="#6a6a6a"/><stop offset=".683" stop-color="#545454"/><stop offset=".705" stop-color="#404040"/><stop offset=".727" stop-color="#303030"/><stop offset=".745" stop-color="#252525"/><stop offset=".764" stop-color="#1c1c1c"/><stop offset=".786" stop-color="#141414"/><stop offset=".808" stop-color="#0e0e0e"/><stop offset=".838" stop-color="#090909"/><stop offset=".875" stop-color="#050505"/><stop offset=".941" stop-color="#030303"/><stop offset=".978" stop-color="#020202"/></linearGradient><linearGradient id="hm52" gradientUnits="userSpaceOnUse" x1="0" y1="655.8" x2="0" y2="1200.3"><stop offset=".022" stop-color="#060606"/><stop offset=".103" stop-color="#0b0b0b"/><stop offset=".151" stop-color="#101010"/><stop offset=".196" stop-color="#161616"/><stop offset=".225" stop-color="#1d1d1d"/><stop offset=".251" stop-color="#242424"/><stop offset=".273" stop-color="#2d2d2d"/><stop offset=".295" stop-color="#383838"/><stop offset=".317" stop-color="#454545"/><stop offset=".339" stop-color="#555555"/><stop offset=".362" stop-color="#686868"/><stop offset=".395" stop-color="#878787"/><stop offset=".424" stop-color="#a3a3a3"/><stop offset=".443" stop-color="#b4b4b4"/><stop offset=".461" stop-color="#c2c2c2"/><stop offset=".480" stop-color="#cdcdcd"/><stop offset=".494" stop-color="#d3d3d3"/><stop offset=".509" stop-color="#d6d6d6"/><stop offset=".524" stop-color="#d7d7d7"/><stop offset=".539" stop-color="#d4d4d4"/><stop offset=".554" stop-color="#cecece"/><stop offset=".568" stop-color="#c5c5c5"/><stop offset=".583" stop-color="#b9b9b9"/><stop offset=".601" stop-color="#a7a7a7"/><stop offset=".649" stop-color="#747474"/><stop offset=".675" stop-color="#595959"/><stop offset=".697" stop-color="#454545"/><stop offset=".720" stop-color="#333333"/><stop offset=".738" stop-color="#282828"/><stop offset=".757" stop-color="#1e1e1e"/><stop offset=".782" stop-color="#141414"/><stop offset=".804" stop-color="#0e0e0e"/><stop offset=".834" stop-color="#090909"/><stop offset=".875" stop-color="#050505"/><stop offset=".941" stop-color="#030303"/><stop offset=".978" stop-color="#020202"/></linearGradient><linearGradient id="hm53" gradientUnits="userSpaceOnUse" x1="0" y1="655.8" x2="0" y2="1200.3"><stop offset=".022" stop-color="#060606"/><stop offset=".103" stop-color="#0b0b0b"/><stop offset=".151" stop-color="#0f0f0f"/><stop offset=".196" stop-color="#161616"/><stop offset=".225" stop-color="#1c1c1c"/><stop offset=".251" stop-color="#242424"/><stop offset=".273" stop-color="#2c2c2c"/><stop offset=".295" stop-color="#373737"/><stop offset=".317" stop-color="#444444"/><stop offset=".339" stop-color="#545454"/><stop offset=".362" stop-color="#666666"/><stop offset=".395" stop-color="#858585"/><stop offset=".424" stop-color="#a0a0a0"/><stop offset=".443" stop-color="#b0b0b0"/><stop offset=".461" stop-color="#bebebe"/><stop offset=".480" stop-color="#c9c9c9"/><stop offset=".494" stop-color="#cfcfcf"/><stop offset=".509" stop-color="#d2d2d2"/><stop offset=".524" stop-color="#d2d2d2"/><stop offset=".539" stop-color="#cfcfcf"/><stop offset=".554" stop-color="#c9c9c9"/><stop offset=".568" stop-color="#c0c0c0"/><stop offset=".583" stop-color="#b5b5b5"/><stop offset=".601" stop-color="#a4a4a4"/><stop offset=".649" stop-color="#717171"/><stop offset=".675" stop-color="#575757"/><stop offset=".697" stop-color="#434343"/><stop offset=".720" stop-color="#323232"/><stop offset=".738" stop-color="#272727"/><stop offset=".757" stop-color="#1d1d1d"/><stop offset=".782" stop-color="#141414"/><stop offset=".804" stop-color="#0e0e0e"/><stop offset=".834" stop-color="#090909"/><stop offset=".875" stop-color="#050505"/><stop offset=".941" stop-color="#030303"/><stop offset=".978" stop-color="#020202"/></linearGradient><linearGradient id="hm54" gradientUnits="userSpaceOnUse" x1="0" y1="655.8" x2="0" y2="1200.3"><stop offset=".022" stop-color="#060606"/><stop offset=".103" stop-color="#0b0b0b"/><stop offset=".151" stop-color="#0f0f0f"/><stop offset=".196" stop-color="#151515"/><stop offset=".225" stop-color="#1c1c1c"/><stop offset=".251" stop-color="#232323"/><stop offset=".273" stop-color="#2b2b2b"/><stop offset=".295" stop-color="#363636"/><stop offset=".317" stop-color="#434343"/><stop offset=".339" stop-color="#525252"/><stop offset=".362" stop-color="#646464"/><stop offset=".413" stop-color="#939393"/><stop offset=".443" stop-color="#adadad"/><stop offset=".461" stop-color="#bbbbbb"/><stop offset=".480" stop-color="#c5c5c5"/><stop offset=".494" stop-color="#cbcbcb"/><stop offset=".509" stop-color="#cecece"/><stop offset=".524" stop-color="#cecece"/><stop offset=".539" stop-color="#cbcbcb"/><stop offset=".554" stop-color="#c5c5c5"/><stop offset=".568" stop-color="#bcbcbc"/><stop offset=".583" stop-color="#b1b1b1"/><stop offset=".601" stop-color="#a0a0a0"/><stop offset=".649" stop-color="#6e6e6e"/><stop offset=".675" stop-color="#555555"/><stop offset=".697" stop-color="#414141"/><stop offset=".720" stop-color="#313131"/><stop offset=".738" stop-color="#262626"/><stop offset=".757" stop-color="#1d1d1d"/><stop offset=".782" stop-color="#131313"/><stop offset=".804" stop-color="#0e0e0e"/><stop offset=".834" stop-color="#090909"/><stop offset=".875" stop-color="#050505"/><stop offset=".941" stop-color="#030303"/><stop offset=".978" stop-color="#020202"/></linearGradient><linearGradient id="hm55" gradientUnits="userSpaceOnUse" x1="0" y1="655.8" x2="0" y2="1200.3"><stop offset=".022" stop-color="#060606"/><stop offset=".103" stop-color="#0a0a0a"/><stop offset=".151" stop-color="#0f0f0f"/><stop offset=".196" stop-color="#151515"/><stop offset=".225" stop-color="#1b1b1b"/><stop offset=".251" stop-color="#222222"/><stop offset=".273" stop-color="#2b2b2b"/><stop offset=".295" stop-color="#353535"/><stop offset=".317" stop-color="#424242"/><stop offset=".339" stop-color="#515151"/><stop offset=".362" stop-color="#626262"/><stop offset=".413" stop-color="#919191"/><stop offset=".443" stop-color="#aaaaaa"/><stop offset=".461" stop-color="#b7b7b7"/><stop offset=".480" stop-color="#c1c1c1"/><stop offset=".494" stop-color="#c7c7c7"/><stop offset=".509" stop-color="#cacaca"/><stop offset=".524" stop-color="#cacaca"/><stop offset=".539" stop-color="#c7c7c7"/><stop offset=".554" stop-color="#c1c1c1"/><stop offset=".568" stop-color="#b8b8b8"/><stop offset=".583" stop-color="#adadad"/><stop offset=".601" stop-color="#9d9d9d"/><stop offset=".649" stop-color="#6c6c6c"/><stop offset=".675" stop-color="#535353"/><stop offset=".697" stop-color="#404040"/><stop offset=".720" stop-color="#303030"/><stop offset=".738" stop-color="#252525"/><stop offset=".757" stop-color="#1c1c1c"/><stop offset=".782" stop-color="#131313"/><stop offset=".804" stop-color="#0d0d0d"/><stop offset=".834" stop-color="#080808"/><stop offset=".875" stop-color="#050505"/><stop offset=".941" stop-color="#030303"/><stop offset=".978" stop-color="#020202"/></linearGradient><linearGradient id="hm56" gradientUnits="userSpaceOnUse" x1="0" y1="655.8" x2="0" y2="1200.3"><stop offset=".022" stop-color="#060606"/><stop offset=".103" stop-color="#0a0a0a"/><stop offset=".151" stop-color="#0f0f0f"/><stop offset=".196" stop-color="#151515"/><stop offset=".225" stop-color="#1b1b1b"/><stop offset=".251" stop-color="#222222"/><stop offset=".273" stop-color="#2a2a2a"/><stop offset=".295" stop-color="#343434"/><stop offset=".317" stop-color="#414141"/><stop offset=".339" stop-color="#505050"/><stop offset=".362" stop-color="#616161"/><stop offset=".413" stop-color="#8e8e8e"/><stop offset=".443" stop-color="#a7a7a7"/><stop offset=".461" stop-color="#b3b3b3"/><stop offset=".480" stop-color="#bdbdbd"/><stop offset=".494" stop-color="#c3c3c3"/><stop offset=".509" stop-color="#c6c6c6"/><stop offset=".524" stop-color="#c6c6c6"/><stop offset=".539" stop-color="#c3c3c3"/><stop offset=".554" stop-color="#bdbdbd"/><stop offset=".568" stop-color="#b4b4b4"/><stop offset=".583" stop-color="#a9a9a9"/><stop offset=".601" stop-color="#999999"/><stop offset=".649" stop-color="#696969"/><stop offset=".675" stop-color="#515151"/><stop offset=".697" stop-color="#3e3e3e"/><stop offset=".720" stop-color="#2f2f2f"/><stop offset=".738" stop-color="#242424"/><stop offset=".757" stop-color="#1b1b1b"/><stop offset=".782" stop-color="#121212"/><stop offset=".804" stop-color="#0d0d0d"/><stop offset=".834" stop-color="#080808"/><stop offset=".875" stop-color="#050505"/><stop offset=".941" stop-color="#020202"/><stop offset=".978" stop-color="#020202"/></linearGradient><linearGradient id="hm57" gradientUnits="userSpaceOnUse" x1="0" y1="655.8" x2="0" y2="1200.3"><stop offset=".022" stop-color="#060606"/><stop offset=".103" stop-color="#0a0a0a"/><stop offset=".151" stop-color="#0e0e0e"/><stop offset=".196" stop-color="#141414"/><stop offset=".225" stop-color="#1a1a1a"/><stop offset=".251" stop-color="#212121"/><stop offset=".273" stop-color="#292929"/><stop offset=".295" stop-color="#333333"/><stop offset=".317" stop-color="#3f3f3f"/><stop offset=".339" stop-color="#4e4e4e"/><stop offset=".362" stop-color="#5f5f5f"/><stop offset=".413" stop-color="#8b8b8b"/><stop offset=".443" stop-color="#a3a3a3"/><stop offset=".461" stop-color="#b0b0b0"/><stop offset=".480" stop-color="#bababa"/><stop offset=".494" stop-color="#bfbfbf"/><stop offset=".509" stop-color="#c2c2c2"/><stop offset=".524" stop-color="#c2c2c2"/><stop offset=".539" stop-color="#bfbfbf"/><stop offset=".554" stop-color="#b9b9b9"/><stop offset=".568" stop-color="#b0b0b0"/><stop offset=".583" stop-color="#a5a5a5"/><stop offset=".601" stop-color="#969696"/><stop offset=".649" stop-color="#676767"/><stop offset=".675" stop-color="#4f4f4f"/><stop offset=".697" stop-color="#3d3d3d"/><stop offset=".720" stop-color="#2d2d2d"/><stop offset=".738" stop-color="#232323"/><stop offset=".757" stop-color="#1b1b1b"/><stop offset=".782" stop-color="#121212"/><stop offset=".804" stop-color="#0d0d0d"/><stop offset=".834" stop-color="#080808"/><stop offset=".875" stop-color="#050505"/><stop offset=".941" stop-color="#020202"/><stop offset=".978" stop-color="#020202"/></linearGradient><linearGradient id="hm58" gradientUnits="userSpaceOnUse" x1="0" y1="655.8" x2="0" y2="1200.3"><stop offset=".022" stop-color="#050505"/><stop offset=".103" stop-color="#0a0a0a"/><stop offset=".151" stop-color="#0e0e0e"/><stop offset=".196" stop-color="#141414"/><stop offset=".225" stop-color="#1a1a1a"/><stop offset=".251" stop-color="#212121"/><stop offset=".273" stop-color="#282828"/><stop offset=".295" stop-color="#323232"/><stop offset=".317" stop-color="#3e3e3e"/><stop offset=".339" stop-color="#4d4d4d"/><stop offset=".373" stop-color="#666666"/><stop offset=".424" stop-color="#929292"/><stop offset=".443" stop-color="#a0a0a0"/><stop offset=".461" stop-color="#acacac"/><stop offset=".480" stop-color="#b6b6b6"/><stop offset=".494" stop-color="#bbbbbb"/><stop offset=".509" stop-color="#bebebe"/><stop offset=".524" stop-color="#bebebe"/><stop offset=".539" stop-color="#bbbbbb"/><stop offset=".554" stop-color="#b5b5b5"/><stop offset=".568" stop-color="#acacac"/><stop offset=".583" stop-color="#a2a2a2"/><stop offset=".601" stop-color="#929292"/><stop offset=".649" stop-color="#646464"/><stop offset=".675" stop-color="#4d4d4d"/><stop offset=".697" stop-color="#3b3b3b"/><stop offset=".720" stop-color="#2c2c2c"/><stop offset=".738" stop-color="#222222"/><stop offset=".757" stop-color="#1a1a1a"/><stop offset=".782" stop-color="#111111"/><stop offset=".804" stop-color="#0c0c0c"/><stop offset=".834" stop-color="#080808"/><stop offset=".875" stop-color="#050505"/><stop offset=".941" stop-color="#020202"/><stop offset=".978" stop-color="#020202"/></linearGradient><linearGradient id="hm59" gradientUnits="userSpaceOnUse" x1="0" y1="655.8" x2="0" y2="1200.3"><stop offset=".022" stop-color="#050505"/><stop offset=".103" stop-color="#0a0a0a"/><stop offset=".151" stop-color="#0e0e0e"/><stop offset=".196" stop-color="#141414"/><stop offset=".225" stop-color="#191919"/><stop offset=".251" stop-color="#202020"/><stop offset=".273" stop-color="#282828"/><stop offset=".295" stop-color="#313131"/><stop offset=".317" stop-color="#3d3d3d"/><stop offset=".339" stop-color="#4b4b4b"/><stop offset=".373" stop-color="#646464"/><stop offset=".424" stop-color="#8f8f8f"/><stop offset=".443" stop-color="#9d9d9d"/><stop offset=".461" stop-color="#a9a9a9"/><stop offset=".480" stop-color="#b2b2b2"/><stop offset=".494" stop-color="#b7b7b7"/><stop offset=".509" stop-color="#bababa"/><stop offset=".524" stop-color="#bababa"/><stop offset=".539" stop-color="#b7b7b7"/><stop offset=".554" stop-color="#b1b1b1"/><stop offset=".568" stop-color="#a9a9a9"/><stop offset=".590" stop-color="#989898"/><stop offset=".620" stop-color="#7e7e7e"/><stop offset=".664" stop-color="#555555"/><stop offset=".686" stop-color="#424242"/><stop offset=".709" stop-color="#323232"/><stop offset=".731" stop-color="#252525"/><stop offset=".749" stop-color="#1c1c1c"/><stop offset=".768" stop-color="#151515"/><stop offset=".790" stop-color="#0f0f0f"/><stop offset=".823" stop-color="#090909"/><stop offset=".867" stop-color="#050505"/><stop offset=".941" stop-color="#020202"/><stop offset=".978" stop-color="#020202"/></linearGradient><linearGradient id="hm60" gradientUnits="userSpaceOnUse" x1="0" y1="655.8" x2="0" y2="1200.3"><stop offset=".022" stop-color="#050505"/><stop offset=".103" stop-color="#0a0a0a"/><stop offset=".151" stop-color="#0e0e0e"/><stop offset=".196" stop-color="#131313"/><stop offset=".225" stop-color="#191919"/><stop offset=".251" stop-color="#202020"/><stop offset=".273" stop-color="#272727"/><stop offset=".295" stop-color="#313131"/><stop offset=".317" stop-color="#3c3c3c"/><stop offset=".339" stop-color="#4a4a4a"/><stop offset=".373" stop-color="#636363"/><stop offset=".424" stop-color="#8c8c8c"/><stop offset=".443" stop-color="#9a9a9a"/><stop offset=".461" stop-color="#a6a6a6"/><stop offset=".480" stop-color="#afafaf"/><stop offset=".494" stop-color="#b3b3b3"/><stop offset=".509" stop-color="#b6b6b6"/><stop offset=".524" stop-color="#b6b6b6"/><stop offset=".539" stop-color="#b3b3b3"/><stop offset=".554" stop-color="#adadad"/><stop offset=".568" stop-color="#a5a5a5"/><stop offset=".590" stop-color="#959595"/><stop offset=".620" stop-color="#7b7b7b"/><stop offset=".664" stop-color="#535353"/><stop offset=".686" stop-color="#404040"/><stop offset=".709" stop-color="#313131"/><stop offset=".731" stop-color="#242424"/><stop offset=".749" stop-color="#1c1c1c"/><stop offset=".768" stop-color="#151515"/><stop offset=".790" stop-color="#0f0f0f"/><stop offset=".823" stop-color="#090909"/><stop offset=".867" stop-color="#050505"/><stop offset=".941" stop-color="#020202"/><stop offset=".978" stop-color="#020202"/></linearGradient><linearGradient id="hm61" gradientUnits="userSpaceOnUse" x1="0" y1="655.8" x2="0" y2="1200.3"><stop offset=".022" stop-color="#050505"/><stop offset=".103" stop-color="#090909"/><stop offset=".151" stop-color="#0d0d0d"/><stop offset=".196" stop-color="#131313"/><stop offset=".225" stop-color="#191919"/><stop offset=".251" stop-color="#1f1f1f"/><stop offset=".273" stop-color="#262626"/><stop offset=".295" stop-color="#303030"/><stop offset=".317" stop-color="#3b3b3b"/><stop offset=".339" stop-color="#494949"/><stop offset=".373" stop-color="#616161"/><stop offset=".424" stop-color="#8a8a8a"/><stop offset=".443" stop-color="#979797"/><stop offset=".461" stop-color="#a3a3a3"/><stop offset=".480" stop-color="#ababab"/><stop offset=".494" stop-color="#b0b0b0"/><stop offset=".509" stop-color="#b2b2b2"/><stop offset=".524" stop-color="#b2b2b2"/><stop offset=".539" stop-color="#afafaf"/><stop offset=".554" stop-color="#a9a9a9"/><stop offset=".568" stop-color="#a1a1a1"/><stop offset=".590" stop-color="#929292"/><stop offset=".620" stop-color="#787878"/><stop offset=".664" stop-color="#515151"/><stop offset=".686" stop-color="#3f3f3f"/><stop offset=".709" stop-color="#303030"/><stop offset=".731" stop-color="#232323"/><stop offset=".749" stop-color="#1b1b1b"/><stop offset=".779" stop-color="#111111"/><stop offset=".801" stop-color="#0c0c0c"/><stop offset=".834" stop-color="#070707"/><stop offset=".875" stop-color="#040404"/><stop offset=".978" stop-color="#020202"/></linearGradient><linearGradient id="hm62" gradientUnits="userSpaceOnUse" x1="0" y1="655.8" x2="0" y2="1200.3"><stop offset=".022" stop-color="#050505"/><stop offset=".103" stop-color="#090909"/><stop offset=".151" stop-color="#0d0d0d"/><stop offset=".196" stop-color="#131313"/><stop offset=".225" stop-color="#181818"/><stop offset=".251" stop-color="#1f1f1f"/><stop offset=".273" stop-color="#262626"/><stop offset=".295" stop-color="#2f2f2f"/><stop offset=".317" stop-color="#3a3a3a"/><stop offset=".339" stop-color="#474747"/><stop offset=".373" stop-color="#5f5f5f"/><stop offset=".424" stop-color="#878787"/><stop offset=".443" stop-color="#949494"/><stop offset=".461" stop-color="#9f9f9f"/><stop offset=".480" stop-color="#a8a8a8"/><stop offset=".494" stop-color="#acacac"/><stop offset=".509" stop-color="#aeaeae"/><stop offset=".524" stop-color="#aeaeae"/><stop offset=".539" stop-color="#ababab"/><stop offset=".554" stop-color="#a6a6a6"/><stop offset=".568" stop-color="#9e9e9e"/><stop offset=".590" stop-color="#8e8e8e"/><stop offset=".620" stop-color="#757575"/><stop offset=".664" stop-color="#4f4f4f"/><stop offset=".686" stop-color="#3d3d3d"/><stop offset=".709" stop-color="#2f2f2f"/><stop offset=".731" stop-color="#222222"/><stop offset=".749" stop-color="#1a1a1a"/><stop offset=".779" stop-color="#111111"/><stop offset=".801" stop-color="#0c0c0c"/><stop offset=".834" stop-color="#070707"/><stop offset=".875" stop-color="#040404"/><stop offset=".978" stop-color="#020202"/></linearGradient><linearGradient id="hm63" gradientUnits="userSpaceOnUse" x1="0" y1="655.8" x2="0" y2="1200.3"><stop offset=".022" stop-color="#050505"/><stop offset=".103" stop-color="#090909"/><stop offset=".151" stop-color="#0d0d0d"/><stop offset=".196" stop-color="#121212"/><stop offset=".225" stop-color="#181818"/><stop offset=".251" stop-color="#1e1e1e"/><stop offset=".273" stop-color="#252525"/><stop offset=".295" stop-color="#2e2e2e"/><stop offset=".317" stop-color="#393939"/><stop offset=".339" stop-color="#464646"/><stop offset=".373" stop-color="#5d5d5d"/><stop offset=".424" stop-color="#858585"/><stop offset=".443" stop-color="#919191"/><stop offset=".461" stop-color="#9c9c9c"/><stop offset=".480" stop-color="#a4a4a4"/><stop offset=".494" stop-color="#a9a9a9"/><stop offset=".509" stop-color="#ababab"/><stop offset=".524" stop-color="#ababab"/><stop offset=".539" stop-color="#a8a8a8"/><stop offset=".554" stop-color="#a2a2a2"/><stop offset=".568" stop-color="#9a9a9a"/><stop offset=".590" stop-color="#8b8b8b"/><stop offset=".620" stop-color="#737373"/><stop offset=".664" stop-color="#4d4d4d"/><stop offset=".686" stop-color="#3c3c3c"/><stop offset=".709" stop-color="#2d2d2d"/><stop offset=".731" stop-color="#222222"/><stop offset=".749" stop-color="#1a1a1a"/><stop offset=".779" stop-color="#101010"/><stop offset=".801" stop-color="#0c0c0c"/><stop offset=".834" stop-color="#070707"/><stop offset=".875" stop-color="#040404"/><stop offset=".978" stop-color="#020202"/></linearGradient><linearGradient id="hm64" gradientUnits="userSpaceOnUse" x1="0" y1="655.8" x2="0" y2="1200.3"><stop offset=".022" stop-color="#050505"/><stop offset=".103" stop-color="#090909"/><stop offset=".151" stop-color="#0d0d0d"/><stop offset=".196" stop-color="#121212"/><stop offset=".225" stop-color="#171717"/><stop offset=".251" stop-color="#1d1d1d"/><stop offset=".273" stop-color="#242424"/><stop offset=".295" stop-color="#2d2d2d"/><stop offset=".317" stop-color="#383838"/><stop offset=".339" stop-color="#454545"/><stop offset=".373" stop-color="#5c5c5c"/><stop offset=".424" stop-color="#828282"/><stop offset=".443" stop-color="#8f8f8f"/><stop offset=".461" stop-color="#999999"/><stop offset=".480" stop-color="#a1a1a1"/><stop offset=".494" stop-color="#a5a5a5"/><stop offset=".509" stop-color="#a7a7a7"/><stop offset=".524" stop-color="#a7a7a7"/><stop offset=".539" stop-color="#a4a4a4"/><stop offset=".554" stop-color="#9f9f9f"/><stop offset=".568" stop-color="#979797"/><stop offset=".590" stop-color="#888888"/><stop offset=".620" stop-color="#707070"/><stop offset=".664" stop-color="#4b4b4b"/><stop offset=".686" stop-color="#3b3b3b"/><stop offset=".709" stop-color="#2c2c2c"/><stop offset=".731" stop-color="#212121"/><stop offset=".749" stop-color="#191919"/><stop offset=".779" stop-color="#101010"/><stop offset=".801" stop-color="#0b0b0b"/><stop offset=".834" stop-color="#070707"/><stop offset=".875" stop-color="#040404"/><stop offset=".978" stop-color="#020202"/></linearGradient><linearGradient id="hm65" gradientUnits="userSpaceOnUse" x1="0" y1="655.8" x2="0" y2="1200.3"><stop offset=".022" stop-color="#050505"/><stop offset=".103" stop-color="#090909"/><stop offset=".151" stop-color="#0d0d0d"/><stop offset=".196" stop-color="#121212"/><stop offset=".225" stop-color="#171717"/><stop offset=".251" stop-color="#1d1d1d"/><stop offset=".273" stop-color="#242424"/><stop offset=".295" stop-color="#2c2c2c"/><stop offset=".317" stop-color="#373737"/><stop offset=".339" stop-color="#444444"/><stop offset=".373" stop-color="#5a5a5a"/><stop offset=".424" stop-color="#808080"/><stop offset=".443" stop-color="#8c8c8c"/><stop offset=".461" stop-color="#969696"/><stop offset=".480" stop-color="#9e9e9e"/><stop offset=".494" stop-color="#a2a2a2"/><stop offset=".509" stop-color="#a4a4a4"/><stop offset=".524" stop-color="#a4a4a4"/><stop offset=".539" stop-color="#a1a1a1"/><stop offset=".554" stop-color="#9b9b9b"/><stop offset=".568" stop-color="#949494"/><stop offset=".590" stop-color="#858585"/><stop offset=".620" stop-color="#6e6e6e"/><stop offset=".664" stop-color="#494949"/><stop offset=".686" stop-color="#393939"/><stop offset=".709" stop-color="#2b2b2b"/><stop offset=".731" stop-color="#202020"/><stop offset=".749" stop-color="#181818"/><stop offset=".779" stop-color="#101010"/><stop offset=".816" stop-color="#090909"/><stop offset=".860" stop-color="#050505"/><stop offset=".937" stop-color="#020202"/><stop offset=".978" stop-color="#020202"/></linearGradient><linearGradient id="hm66" gradientUnits="userSpaceOnUse" x1="0" y1="655.8" x2="0" y2="1200.3"><stop offset=".022" stop-color="#050505"/><stop offset=".103" stop-color="#090909"/><stop offset=".177" stop-color="#0f0f0f"/><stop offset=".221" stop-color="#161616"/><stop offset=".247" stop-color="#1c1c1c"/><stop offset=".269" stop-color="#222222"/><stop offset=".291" stop-color="#2a2a2a"/><stop offset=".314" stop-color="#343434"/><stop offset=".336" stop-color="#404040"/><stop offset=".369" stop-color="#565656"/><stop offset=".421" stop-color="#7b7b7b"/><stop offset=".450" stop-color="#8d8d8d"/><stop offset=".469" stop-color="#979797"/><stop offset=".483" stop-color="#9c9c9c"/><stop offset=".498" stop-color="#9f9f9f"/><stop offset=".513" stop-color="#a1a1a1"/><stop offset=".528" stop-color="#a0a0a0"/><stop offset=".542" stop-color="#9c9c9c"/><stop offset=".557" stop-color="#969696"/><stop offset=".579" stop-color="#8a8a8a"/><stop offset=".601" stop-color="#7a7a7a"/><stop offset=".649" stop-color="#535353"/><stop offset=".675" stop-color="#3f3f3f"/><stop offset=".697" stop-color="#313131"/><stop offset=".720" stop-color="#242424"/><stop offset=".738" stop-color="#1c1c1c"/><stop offset=".768" stop-color="#121212"/><stop offset=".790" stop-color="#0d0d0d"/><stop offset=".823" stop-color="#080808"/><stop offset=".867" stop-color="#040404"/><stop offset=".941" stop-color="#020202"/><stop offset=".978" stop-color="#020202"/></linearGradient><linearGradient id="hm67" gradientUnits="userSpaceOnUse" x1="0" y1="655.8" x2="0" y2="1200.3"><stop offset=".022" stop-color="#050505"/><stop offset=".103" stop-color="#090909"/><stop offset=".177" stop-color="#0f0f0f"/><stop offset=".221" stop-color="#151515"/><stop offset=".247" stop-color="#1b1b1b"/><stop offset=".269" stop-color="#212121"/><stop offset=".291" stop-color="#292929"/><stop offset=".314" stop-color="#333333"/><stop offset=".336" stop-color="#3f3f3f"/><stop offset=".369" stop-color="#545454"/><stop offset=".421" stop-color="#787878"/><stop offset=".450" stop-color="#8b8b8b"/><stop offset=".469" stop-color="#949494"/><stop offset=".483" stop-color="#999999"/><stop offset=".498" stop-color="#9c9c9c"/><stop offset=".513" stop-color="#9e9e9e"/><stop offset=".528" stop-color="#9c9c9c"/><stop offset=".542" stop-color="#999999"/><stop offset=".557" stop-color="#939393"/><stop offset=".579" stop-color="#878787"/><stop offset=".601" stop-color="#777777"/><stop offset=".649" stop-color="#515151"/><stop offset=".675" stop-color="#3e3e3e"/><stop offset=".697" stop-color="#303030"/><stop offset=".720" stop-color="#242424"/><stop offset=".738" stop-color="#1b1b1b"/><stop offset=".768" stop-color="#121212"/><stop offset=".790" stop-color="#0c0c0c"/><stop offset=".823" stop-color="#080808"/><stop offset=".867" stop-color="#040404"/><stop offset=".941" stop-color="#020202"/><stop offset=".978" stop-color="#020202"/></linearGradient><linearGradient id="hm68" gradientUnits="userSpaceOnUse" x1="0" y1="655.8" x2="0" y2="1200.3"><stop offset=".022" stop-color="#050505"/><stop offset=".103" stop-color="#080808"/><stop offset=".177" stop-color="#0f0f0f"/><stop offset=".221" stop-color="#151515"/><stop offset=".247" stop-color="#1b1b1b"/><stop offset=".269" stop-color="#212121"/><stop offset=".291" stop-color="#292929"/><stop offset=".314" stop-color="#323232"/><stop offset=".336" stop-color="#3e3e3e"/><stop offset=".369" stop-color="#535353"/><stop offset=".421" stop-color="#767676"/><stop offset=".450" stop-color="#888888"/><stop offset=".469" stop-color="#919191"/><stop offset=".483" stop-color="#969696"/><stop offset=".498" stop-color="#999999"/><stop offset=".513" stop-color="#9a9a9a"/><stop offset=".528" stop-color="#999999"/><stop offset=".542" stop-color="#969696"/><stop offset=".557" stop-color="#909090"/><stop offset=".579" stop-color="#848484"/><stop offset=".601" stop-color="#757575"/><stop offset=".649" stop-color="#4f4f4f"/><stop offset=".675" stop-color="#3d3d3d"/><stop offset=".697" stop-color="#2e2e2e"/><stop offset=".720" stop-color="#232323"/><stop offset=".738" stop-color="#1b1b1b"/><stop offset=".768" stop-color="#111111"/><stop offset=".790" stop-color="#0c0c0c"/><stop offset=".823" stop-color="#070707"/><stop offset=".867" stop-color="#040404"/><stop offset=".941" stop-color="#020202"/><stop offset=".978" stop-color="#020202"/></linearGradient><linearGradient id="hm69" gradientUnits="userSpaceOnUse" x1="0" y1="655.8" x2="0" y2="1200.3"><stop offset=".022" stop-color="#050505"/><stop offset=".103" stop-color="#080808"/><stop offset=".177" stop-color="#0e0e0e"/><stop offset=".221" stop-color="#151515"/><stop offset=".247" stop-color="#1a1a1a"/><stop offset=".269" stop-color="#202020"/><stop offset=".291" stop-color="#282828"/><stop offset=".314" stop-color="#313131"/><stop offset=".336" stop-color="#3d3d3d"/><stop offset=".369" stop-color="#515151"/><stop offset=".421" stop-color="#737373"/><stop offset=".450" stop-color="#848484"/><stop offset=".469" stop-color="#8d8d8d"/><stop offset=".483" stop-color="#929292"/><stop offset=".498" stop-color="#959595"/><stop offset=".513" stop-color="#969696"/><stop offset=".528" stop-color="#959595"/><stop offset=".542" stop-color="#919191"/><stop offset=".557" stop-color="#8c8c8c"/><stop offset=".579" stop-color="#808080"/><stop offset=".601" stop-color="#717171"/><stop offset=".649" stop-color="#4d4d4d"/><stop offset=".675" stop-color="#3b3b3b"/><stop offset=".697" stop-color="#2d2d2d"/><stop offset=".720" stop-color="#222222"/><stop offset=".749" stop-color="#161616"/><stop offset=".779" stop-color="#0e0e0e"/><stop offset=".816" stop-color="#080808"/><stop offset=".860" stop-color="#040404"/><stop offset=".937" stop-color="#020202"/><stop offset=".978" stop-color="#020202"/></linearGradient><linearGradient id="hm70" gradientUnits="userSpaceOnUse" x1="0" y1="655.8" x2="0" y2="1200.3"><stop offset=".022" stop-color="#040404"/><stop offset=".103" stop-color="#080808"/><stop offset=".177" stop-color="#0e0e0e"/><stop offset=".221" stop-color="#141414"/><stop offset=".247" stop-color="#191919"/><stop offset=".269" stop-color="#1f1f1f"/><stop offset=".291" stop-color="#262626"/><stop offset=".314" stop-color="#303030"/><stop offset=".336" stop-color="#3a3a3a"/><stop offset=".369" stop-color="#4e4e4e"/><stop offset=".421" stop-color="#6f6f6f"/><stop offset=".450" stop-color="#808080"/><stop offset=".469" stop-color="#888888"/><stop offset=".483" stop-color="#8c8c8c"/><stop offset=".498" stop-color="#8f8f8f"/><stop offset=".513" stop-color="#909090"/><stop offset=".528" stop-color="#8f8f8f"/><stop offset=".542" stop-color="#8c8c8c"/><stop offset=".557" stop-color="#868686"/><stop offset=".579" stop-color="#7b7b7b"/><stop offset=".601" stop-color="#6c6c6c"/><stop offset=".649" stop-color="#494949"/><stop offset=".675" stop-color="#383838"/><stop offset=".697" stop-color="#2b2b2b"/><stop offset=".720" stop-color="#202020"/><stop offset=".749" stop-color="#151515"/><stop offset=".779" stop-color="#0d0d0d"/><stop offset=".816" stop-color="#080808"/><stop offset=".860" stop-color="#040404"/><stop offset=".937" stop-color="#020202"/><stop offset=".978" stop-color="#020202"/></linearGradient><linearGradient id="hm71" gradientUnits="userSpaceOnUse" x1="0" y1="655.8" x2="0" y2="1200.3"><stop offset=".022" stop-color="#040404"/><stop offset=".103" stop-color="#080808"/><stop offset=".177" stop-color="#0d0d0d"/><stop offset=".221" stop-color="#131313"/><stop offset=".262" stop-color="#1c1c1c"/><stop offset=".284" stop-color="#232323"/><stop offset=".306" stop-color="#2b2b2b"/><stop offset=".328" stop-color="#353535"/><stop offset=".362" stop-color="#474747"/><stop offset=".413" stop-color="#676767"/><stop offset=".443" stop-color="#777777"/><stop offset=".461" stop-color="#808080"/><stop offset=".480" stop-color="#868686"/><stop offset=".494" stop-color="#898989"/><stop offset=".509" stop-color="#8b8b8b"/><stop offset=".524" stop-color="#8a8a8a"/><stop offset=".539" stop-color="#878787"/><stop offset=".554" stop-color="#828282"/><stop offset=".576" stop-color="#787878"/><stop offset=".598" stop-color="#6a6a6a"/><stop offset=".646" stop-color="#494949"/><stop offset=".672" stop-color="#383838"/><stop offset=".694" stop-color="#2b2b2b"/><stop offset=".716" stop-color="#202020"/><stop offset=".745" stop-color="#151515"/><stop offset=".775" stop-color="#0e0e0e"/><stop offset=".812" stop-color="#080808"/><stop offset=".860" stop-color="#040404"/><stop offset=".937" stop-color="#020202"/><stop offset=".978" stop-color="#020202"/></linearGradient><linearGradient id="hm72" gradientUnits="userSpaceOnUse" x1="0" y1="655.8" x2="0" y2="1200.3"><stop offset=".022" stop-color="#040404"/><stop offset=".103" stop-color="#070707"/><stop offset=".177" stop-color="#0d0d0d"/><stop offset=".221" stop-color="#131313"/><stop offset=".262" stop-color="#1b1b1b"/><stop offset=".284" stop-color="#212121"/><stop offset=".306" stop-color="#292929"/><stop offset=".328" stop-color="#333333"/><stop offset=".362" stop-color="#444444"/><stop offset=".413" stop-color="#636363"/><stop offset=".443" stop-color="#737373"/><stop offset=".461" stop-color="#7b7b7b"/><stop offset=".480" stop-color="#818181"/><stop offset=".494" stop-color="#848484"/><stop offset=".509" stop-color="#858585"/><stop offset=".524" stop-color="#858585"/><stop offset=".539" stop-color="#828282"/><stop offset=".561" stop-color="#7a7a7a"/><stop offset=".583" stop-color="#6f6f6f"/><stop offset=".613" stop-color="#5c5c5c"/><stop offset=".657" stop-color="#3f3f3f"/><stop offset=".679" stop-color="#313131"/><stop offset=".701" stop-color="#252525"/><stop offset=".723" stop-color="#1c1c1c"/><stop offset=".753" stop-color="#121212"/><stop offset=".779" stop-color="#0c0c0c"/><stop offset=".816" stop-color="#070707"/><stop offset=".860" stop-color="#040404"/><stop offset=".937" stop-color="#020202"/><stop offset=".978" stop-color="#020202"/></linearGradient><linearGradient id="hm73" gradientUnits="userSpaceOnUse" x1="0" y1="655.8" x2="0" y2="1200.3"><stop offset=".022" stop-color="#040404"/><stop offset=".103" stop-color="#070707"/><stop offset=".177" stop-color="#0c0c0c"/><stop offset=".221" stop-color="#121212"/><stop offset=".262" stop-color="#1a1a1a"/><stop offset=".284" stop-color="#202020"/><stop offset=".306" stop-color="#282828"/><stop offset=".328" stop-color="#313131"/><stop offset=".362" stop-color="#424242"/><stop offset=".413" stop-color="#606060"/><stop offset=".443" stop-color="#6f6f6f"/><stop offset=".461" stop-color="#777777"/><stop offset=".480" stop-color="#7c7c7c"/><stop offset=".494" stop-color="#7f7f7f"/><stop offset=".517" stop-color="#808080"/><stop offset=".531" stop-color="#7f7f7f"/><stop offset=".546" stop-color="#7b7b7b"/><stop offset=".568" stop-color="#727272"/><stop offset=".590" stop-color="#666666"/><stop offset=".664" stop-color="#383838"/><stop offset=".686" stop-color="#2b2b2b"/><stop offset=".709" stop-color="#212121"/><stop offset=".731" stop-color="#181818"/><stop offset=".760" stop-color="#101010"/><stop offset=".786" stop-color="#0b0b0b"/><stop offset=".819" stop-color="#060606"/><stop offset=".864" stop-color="#040404"/><stop offset=".978" stop-color="#020202"/></linearGradient><linearGradient id="hm74" gradientUnits="userSpaceOnUse" x1="0" y1="655.8" x2="0" y2="1200.3"><stop offset=".022" stop-color="#040404"/><stop offset=".103" stop-color="#070707"/><stop offset=".177" stop-color="#0c0c0c"/><stop offset=".221" stop-color="#111111"/><stop offset=".262" stop-color="#191919"/><stop offset=".299" stop-color="#242424"/><stop offset=".321" stop-color="#2d2d2d"/><stop offset=".354" stop-color="#3c3c3c"/><stop offset=".432" stop-color="#666666"/><stop offset=".450" stop-color="#6e6e6e"/><stop offset=".469" stop-color="#757575"/><stop offset=".483" stop-color="#797979"/><stop offset=".498" stop-color="#7b7b7b"/><stop offset=".520" stop-color="#7b7b7b"/><stop offset=".535" stop-color="#797979"/><stop offset=".557" stop-color="#727272"/><stop offset=".579" stop-color="#686868"/><stop offset=".613" stop-color="#555555"/><stop offset=".657" stop-color="#3a3a3a"/><stop offset=".679" stop-color="#2d2d2d"/><stop offset=".701" stop-color="#222222"/><stop offset=".723" stop-color="#1a1a1a"/><stop offset=".753" stop-color="#111111"/><stop offset=".779" stop-color="#0b0b0b"/><stop offset=".816" stop-color="#070707"/><stop offset=".860" stop-color="#040404"/><stop offset=".978" stop-color="#020202"/></linearGradient><linearGradient id="hm75" gradientUnits="userSpaceOnUse" x1="0" y1="655.8" x2="0" y2="1200.3"><stop offset=".022" stop-color="#040404"/><stop offset=".103" stop-color="#070707"/><stop offset=".177" stop-color="#0c0c0c"/><stop offset=".221" stop-color="#111111"/><stop offset=".262" stop-color="#191919"/><stop offset=".299" stop-color="#232323"/><stop offset=".336" stop-color="#323232"/><stop offset=".369" stop-color="#424242"/><stop offset=".421" stop-color="#5d5d5d"/><stop offset=".450" stop-color="#6b6b6b"/><stop offset=".469" stop-color="#717171"/><stop offset=".483" stop-color="#757575"/><stop offset=".498" stop-color="#777777"/><stop offset=".520" stop-color="#777777"/><stop offset=".542" stop-color="#737373"/><stop offset=".565" stop-color="#6b6b6b"/><stop offset=".587" stop-color="#616161"/><stop offset=".661" stop-color="#353535"/><stop offset=".683" stop-color="#292929"/><stop offset=".705" stop-color="#1f1f1f"/><stop offset=".727" stop-color="#171717"/><stop offset=".757" stop-color="#0f0f0f"/><stop offset=".782" stop-color="#0a0a0a"/><stop offset=".819" stop-color="#060606"/><stop offset=".886" stop-color="#030303"/><stop offset=".978" stop-color="#020202"/></linearGradient><linearGradient id="hm76" gradientUnits="userSpaceOnUse" x1="0" y1="655.8" x2="0" y2="1200.3"><stop offset=".022" stop-color="#040404"/><stop offset=".103" stop-color="#070707"/><stop offset=".177" stop-color="#0b0b0b"/><stop offset=".221" stop-color="#101010"/><stop offset=".262" stop-color="#181818"/><stop offset=".299" stop-color="#222222"/><stop offset=".336" stop-color="#303030"/><stop offset=".369" stop-color="#404040"/><stop offset=".421" stop-color="#5a5a5a"/><stop offset=".450" stop-color="#676767"/><stop offset=".469" stop-color="#6d6d6d"/><stop offset=".483" stop-color="#717171"/><stop offset=".498" stop-color="#737373"/><stop offset=".520" stop-color="#737373"/><stop offset=".542" stop-color="#6f6f6f"/><stop offset=".565" stop-color="#676767"/><stop offset=".587" stop-color="#5d5d5d"/><stop offset=".661" stop-color="#333333"/><stop offset=".683" stop-color="#282828"/><stop offset=".705" stop-color="#1e1e1e"/><stop offset=".738" stop-color="#131313"/><stop offset=".768" stop-color="#0c0c0c"/><stop offset=".804" stop-color="#070707"/><stop offset=".852" stop-color="#040404"/><stop offset=".934" stop-color="#020202"/><stop offset=".978" stop-color="#020202"/></linearGradient><linearGradient id="hm77" gradientUnits="userSpaceOnUse" x1="0" y1="655.8" x2="0" y2="1200.3"><stop offset=".022" stop-color="#040404"/><stop offset=".103" stop-color="#060606"/><stop offset=".177" stop-color="#0b0b0b"/><stop offset=".221" stop-color="#101010"/><stop offset=".262" stop-color="#171717"/><stop offset=".299" stop-color="#212121"/><stop offset=".336" stop-color="#2f2f2f"/><stop offset=".369" stop-color="#3e3e3e"/><stop offset=".421" stop-color="#575757"/><stop offset=".450" stop-color="#636363"/><stop offset=".469" stop-color="#696969"/><stop offset=".483" stop-color="#6d6d6d"/><stop offset=".498" stop-color="#6f6f6f"/><stop offset=".520" stop-color="#6f6f6f"/><stop offset=".542" stop-color="#6b6b6b"/><stop offset=".565" stop-color="#636363"/><stop offset=".587" stop-color="#595959"/><stop offset=".661" stop-color="#313131"/><stop offset=".683" stop-color="#262626"/><stop offset=".705" stop-color="#1d1d1d"/><stop offset=".738" stop-color="#121212"/><stop offset=".768" stop-color="#0c0c0c"/><stop offset=".804" stop-color="#070707"/><stop offset=".852" stop-color="#040404"/><stop offset=".934" stop-color="#020202"/><stop offset=".978" stop-color="#010101"/></linearGradient><linearGradient id="hm78" gradientUnits="userSpaceOnUse" x1="0" y1="655.8" x2="0" y2="1200.3"><stop offset=".022" stop-color="#040404"/><stop offset=".103" stop-color="#060606"/><stop offset=".177" stop-color="#0b0b0b"/><stop offset=".221" stop-color="#0f0f0f"/><stop offset=".262" stop-color="#161616"/><stop offset=".299" stop-color="#202020"/><stop offset=".336" stop-color="#2d2d2d"/><stop offset=".369" stop-color="#3c3c3c"/><stop offset=".421" stop-color="#545454"/><stop offset=".450" stop-color="#606060"/><stop offset=".469" stop-color="#666666"/><stop offset=".494" stop-color="#6a6a6a"/><stop offset=".517" stop-color="#6b6b6b"/><stop offset=".539" stop-color="#686868"/><stop offset=".561" stop-color="#616161"/><stop offset=".583" stop-color="#585858"/><stop offset=".657" stop-color="#313131"/><stop offset=".694" stop-color="#202020"/><stop offset=".727" stop-color="#151515"/><stop offset=".757" stop-color="#0d0d0d"/><stop offset=".797" stop-color="#070707"/><stop offset=".849" stop-color="#040404"/><stop offset=".934" stop-color="#020202"/><stop offset=".978" stop-color="#010101"/></linearGradient><linearGradient id="hm79" gradientUnits="userSpaceOnUse" x1="0" y1="655.8" x2="0" y2="1200.3"><stop offset=".022" stop-color="#040404"/><stop offset=".103" stop-color="#060606"/><stop offset=".177" stop-color="#0a0a0a"/><stop offset=".221" stop-color="#0f0f0f"/><stop offset=".262" stop-color="#161616"/><stop offset=".299" stop-color="#1f1f1f"/><stop offset=".336" stop-color="#2c2c2c"/><stop offset=".387" stop-color="#424242"/><stop offset=".435" stop-color="#585858"/><stop offset=".465" stop-color="#616161"/><stop offset=".491" stop-color="#666666"/><stop offset=".513" stop-color="#676767"/><stop offset=".535" stop-color="#656565"/><stop offset=".557" stop-color="#5f5f5f"/><stop offset=".579" stop-color="#565656"/><stop offset=".613" stop-color="#464646"/><stop offset=".657" stop-color="#2f2f2f"/><stop offset=".694" stop-color="#1f1f1f"/><stop offset=".727" stop-color="#141414"/><stop offset=".757" stop-color="#0d0d0d"/><stop offset=".797" stop-color="#070707"/><stop offset=".849" stop-color="#040404"/><stop offset=".934" stop-color="#020202"/><stop offset=".978" stop-color="#010101"/></linearGradient><linearGradient id="hm80" gradientUnits="userSpaceOnUse" x1="0" y1="655.8" x2="0" y2="1200.3"><stop offset=".022" stop-color="#040404"/><stop offset=".144" stop-color="#080808"/><stop offset=".188" stop-color="#0b0b0b"/><stop offset=".232" stop-color="#101010"/><stop offset=".273" stop-color="#171717"/><stop offset=".310" stop-color="#212121"/><stop offset=".347" stop-color="#2f2f2f"/><stop offset=".428" stop-color="#525252"/><stop offset=".458" stop-color="#5c5c5c"/><stop offset=".476" stop-color="#616161"/><stop offset=".502" stop-color="#646464"/><stop offset=".524" stop-color="#636363"/><stop offset=".546" stop-color="#5f5f5f"/><stop offset=".568" stop-color="#585858"/><stop offset=".601" stop-color="#494949"/><stop offset=".649" stop-color="#313131"/><stop offset=".675" stop-color="#252525"/><stop offset=".697" stop-color="#1c1c1c"/><stop offset=".731" stop-color="#121212"/><stop offset=".760" stop-color="#0c0c0c"/><stop offset=".801" stop-color="#060606"/><stop offset=".852" stop-color="#030303"/><stop offset=".978" stop-color="#010101"/></linearGradient><linearGradient id="hm81" gradientUnits="userSpaceOnUse" x1="0" y1="655.8" x2="0" y2="1200.3"><stop offset=".022" stop-color="#030303"/><stop offset=".144" stop-color="#080808"/><stop offset=".214" stop-color="#0d0d0d"/><stop offset=".255" stop-color="#131313"/><stop offset=".291" stop-color="#1b1b1b"/><stop offset=".328" stop-color="#262626"/><stop offset=".362" stop-color="#333333"/><stop offset=".413" stop-color="#494949"/><stop offset=".443" stop-color="#555555"/><stop offset=".472" stop-color="#5d5d5d"/><stop offset=".498" stop-color="#606060"/><stop offset=".520" stop-color="#606060"/><stop offset=".542" stop-color="#5c5c5c"/><stop offset=".565" stop-color="#565656"/><stop offset=".598" stop-color="#484848"/><stop offset=".646" stop-color="#313131"/><stop offset=".686" stop-color="#1f1f1f"/><stop offset=".720" stop-color="#141414"/><stop offset=".749" stop-color="#0d0d0d"/><stop offset=".779" stop-color="#090909"/><stop offset=".816" stop-color="#050505"/><stop offset=".886" stop-color="#020202"/><stop offset=".978" stop-color="#010101"/></linearGradient><linearGradient id="hm82" gradientUnits="userSpaceOnUse" x1="0" y1="655.8" x2="0" y2="1200.3"><stop offset=".022" stop-color="#030303"/><stop offset=".144" stop-color="#080808"/><stop offset=".214" stop-color="#0d0d0d"/><stop offset=".255" stop-color="#131313"/><stop offset=".291" stop-color="#1a1a1a"/><stop offset=".328" stop-color="#252525"/><stop offset=".362" stop-color="#323232"/><stop offset=".413" stop-color="#474747"/><stop offset=".443" stop-color="#525252"/><stop offset=".472" stop-color="#5a5a5a"/><stop offset=".498" stop-color="#5d5d5d"/><stop offset=".520" stop-color="#5d5d5d"/><stop offset=".542" stop-color="#595959"/><stop offset=".565" stop-color="#535353"/><stop offset=".598" stop-color="#464646"/><stop offset=".646" stop-color="#2f2f2f"/><stop offset=".686" stop-color="#1e1e1e"/><stop offset=".720" stop-color="#141414"/><stop offset=".749" stop-color="#0d0d0d"/><stop offset=".793" stop-color="#070707"/><stop offset=".845" stop-color="#030303"/><stop offset=".934" stop-color="#020202"/><stop offset=".978" stop-color="#010101"/></linearGradient><linearGradient id="hm83" gradientUnits="userSpaceOnUse" x1="0" y1="655.8" x2="0" y2="1200.3"><stop offset=".022" stop-color="#030303"/><stop offset=".144" stop-color="#070707"/><stop offset=".214" stop-color="#0c0c0c"/><stop offset=".255" stop-color="#121212"/><stop offset=".291" stop-color="#191919"/><stop offset=".328" stop-color="#242424"/><stop offset=".380" stop-color="#373737"/><stop offset=".432" stop-color="#4b4b4b"/><stop offset=".461" stop-color="#545454"/><stop offset=".480" stop-color="#575757"/><stop offset=".506" stop-color="#595959"/><stop offset=".528" stop-color="#585858"/><stop offset=".550" stop-color="#545454"/><stop offset=".572" stop-color="#4d4d4d"/><stop offset=".605" stop-color="#3f3f3f"/><stop offset=".649" stop-color="#2b2b2b"/><stop offset=".690" stop-color="#1c1c1c"/><stop offset=".723" stop-color="#121212"/><stop offset=".753" stop-color="#0c0c0c"/><stop offset=".793" stop-color="#060606"/><stop offset=".845" stop-color="#030303"/><stop offset=".978" stop-color="#010101"/></linearGradient><linearGradient id="hm84" gradientUnits="userSpaceOnUse" x1="0" y1="655.8" x2="0" y2="1200.3"><stop offset=".022" stop-color="#030303"/><stop offset=".144" stop-color="#070707"/><stop offset=".214" stop-color="#0c0c0c"/><stop offset=".255" stop-color="#111111"/><stop offset=".291" stop-color="#181818"/><stop offset=".328" stop-color="#222222"/><stop offset=".380" stop-color="#353535"/><stop offset=".432" stop-color="#484848"/><stop offset=".461" stop-color="#505050"/><stop offset=".480" stop-color="#535353"/><stop offset=".506" stop-color="#555555"/><stop offset=".528" stop-color="#545454"/><stop offset=".550" stop-color="#4f4f4f"/><stop offset=".572" stop-color="#494949"/><stop offset=".605" stop-color="#3c3c3c"/><stop offset=".649" stop-color="#292929"/><stop offset=".690" stop-color="#1a1a1a"/><stop offset=".723" stop-color="#111111"/><stop offset=".753" stop-color="#0b0b0b"/><stop offset=".793" stop-color="#060606"/><stop offset=".845" stop-color="#030303"/><stop offset=".978" stop-color="#010101"/></linearGradient><linearGradient id="hm85" gradientUnits="userSpaceOnUse" x1="0" y1="655.8" x2="0" y2="1200.3"><stop offset=".022" stop-color="#030303"/><stop offset=".144" stop-color="#070707"/><stop offset=".214" stop-color="#0b0b0b"/><stop offset=".255" stop-color="#101010"/><stop offset=".291" stop-color="#171717"/><stop offset=".328" stop-color="#212121"/><stop offset=".380" stop-color="#323232"/><stop offset=".432" stop-color="#444444"/><stop offset=".461" stop-color="#4c4c4c"/><stop offset=".491" stop-color="#505050"/><stop offset=".513" stop-color="#515151"/><stop offset=".535" stop-color="#4f4f4f"/><stop offset=".557" stop-color="#4a4a4a"/><stop offset=".590" stop-color="#3f3f3f"/><stop offset=".664" stop-color="#212121"/><stop offset=".701" stop-color="#151515"/><stop offset=".734" stop-color="#0e0e0e"/><stop offset=".779" stop-color="#070707"/><stop offset=".838" stop-color="#030303"/><stop offset=".930" stop-color="#020202"/><stop offset=".978" stop-color="#010101"/></linearGradient><linearGradient id="hm86" gradientUnits="userSpaceOnUse" x1="0" y1="655.8" x2="0" y2="1200.3"><stop offset=".022" stop-color="#030303"/><stop offset=".144" stop-color="#060606"/><stop offset=".214" stop-color="#0b0b0b"/><stop offset=".255" stop-color="#101010"/><stop offset=".291" stop-color="#161616"/><stop offset=".328" stop-color="#1f1f1f"/><stop offset=".380" stop-color="#303030"/><stop offset=".432" stop-color="#414141"/><stop offset=".461" stop-color="#484848"/><stop offset=".491" stop-color="#4d4d4d"/><stop offset=".513" stop-color="#4d4d4d"/><stop offset=".535" stop-color="#4b4b4b"/><stop offset=".557" stop-color="#464646"/><stop offset=".590" stop-color="#3b3b3b"/><stop offset=".664" stop-color="#202020"/><stop offset=".701" stop-color="#141414"/><stop offset=".734" stop-color="#0d0d0d"/><stop offset=".779" stop-color="#070707"/><stop offset=".838" stop-color="#030303"/><stop offset=".930" stop-color="#020202"/><stop offset=".978" stop-color="#010101"/></linearGradient><linearGradient id="hm87" gradientUnits="userSpaceOnUse" x1="0" y1="655.8" x2="0" y2="1200.3"><stop offset=".022" stop-color="#030303"/><stop offset=".144" stop-color="#060606"/><stop offset=".214" stop-color="#0b0b0b"/><stop offset=".255" stop-color="#0f0f0f"/><stop offset=".291" stop-color="#151515"/><stop offset=".328" stop-color="#1e1e1e"/><stop offset=".380" stop-color="#2e2e2e"/><stop offset=".432" stop-color="#3e3e3e"/><stop offset=".461" stop-color="#454545"/><stop offset=".491" stop-color="#494949"/><stop offset=".513" stop-color="#494949"/><stop offset=".535" stop-color="#474747"/><stop offset=".557" stop-color="#434343"/><stop offset=".590" stop-color="#393939"/><stop offset=".664" stop-color="#1e1e1e"/><stop offset=".701" stop-color="#131313"/><stop offset=".734" stop-color="#0c0c0c"/><stop offset=".779" stop-color="#070707"/><stop offset=".838" stop-color="#030303"/><stop offset=".978" stop-color="#010101"/></linearGradient><linearGradient id="hm88" gradientUnits="userSpaceOnUse" x1="0" y1="655.8" x2="0" y2="1200.3"><stop offset=".022" stop-color="#030303"/><stop offset=".144" stop-color="#060606"/><stop offset=".214" stop-color="#0a0a0a"/><stop offset=".255" stop-color="#0e0e0e"/><stop offset=".291" stop-color="#141414"/><stop offset=".328" stop-color="#1d1d1d"/><stop offset=".380" stop-color="#2c2c2c"/><stop offset=".432" stop-color="#3b3b3b"/><stop offset=".461" stop-color="#424242"/><stop offset=".491" stop-color="#454545"/><stop offset=".513" stop-color="#464646"/><stop offset=".535" stop-color="#444444"/><stop offset=".557" stop-color="#3f3f3f"/><stop offset=".590" stop-color="#363636"/><stop offset=".664" stop-color="#1c1c1c"/><stop offset=".701" stop-color="#121212"/><stop offset=".734" stop-color="#0c0c0c"/><stop offset=".779" stop-color="#060606"/><stop offset=".838" stop-color="#030303"/><stop offset=".978" stop-color="#010101"/></linearGradient><linearGradient id="hm89" gradientUnits="userSpaceOnUse" x1="0" y1="655.8" x2="0" y2="1200.3"><stop offset=".022" stop-color="#030303"/><stop offset=".144" stop-color="#060606"/><stop offset=".214" stop-color="#0a0a0a"/><stop offset=".255" stop-color="#0e0e0e"/><stop offset=".291" stop-color="#141414"/><stop offset=".328" stop-color="#1c1c1c"/><stop offset=".380" stop-color="#2a2a2a"/><stop offset=".432" stop-color="#393939"/><stop offset=".461" stop-color="#3f3f3f"/><stop offset=".491" stop-color="#424242"/><stop offset=".513" stop-color="#424242"/><stop offset=".535" stop-color="#404040"/><stop offset=".557" stop-color="#3c3c3c"/><stop offset=".590" stop-color="#333333"/><stop offset=".664" stop-color="#1b1b1b"/><stop offset=".701" stop-color="#111111"/><stop offset=".734" stop-color="#0b0b0b"/><stop offset=".779" stop-color="#060606"/><stop offset=".838" stop-color="#030303"/><stop offset=".978" stop-color="#010101"/></linearGradient><linearGradient id="hm90" gradientUnits="userSpaceOnUse" x1="0" y1="655.8" x2="0" y2="1200.3"><stop offset=".022" stop-color="#030303"/><stop offset=".144" stop-color="#060606"/><stop offset=".214" stop-color="#090909"/><stop offset=".255" stop-color="#0d0d0d"/><stop offset=".291" stop-color="#131313"/><stop offset=".328" stop-color="#1a1a1a"/><stop offset=".410" stop-color="#303030"/><stop offset=".439" stop-color="#373737"/><stop offset=".469" stop-color="#3d3d3d"/><stop offset=".494" stop-color="#3f3f3f"/><stop offset=".517" stop-color="#3f3f3f"/><stop offset=".539" stop-color="#3c3c3c"/><stop offset=".572" stop-color="#353535"/><stop offset=".649" stop-color="#1e1e1e"/><stop offset=".690" stop-color="#131313"/><stop offset=".723" stop-color="#0c0c0c"/><stop offset=".771" stop-color="#060606"/><stop offset=".830" stop-color="#030303"/><stop offset=".978" stop-color="#010101"/></linearGradient><linearGradient id="hm91" gradientUnits="userSpaceOnUse" x1="0" y1="655.8" x2="0" y2="1200.3"><stop offset=".022" stop-color="#030303"/><stop offset=".144" stop-color="#050505"/><stop offset=".214" stop-color="#090909"/><stop offset=".255" stop-color="#0d0d0d"/><stop offset=".291" stop-color="#121212"/><stop offset=".328" stop-color="#191919"/><stop offset=".410" stop-color="#2d2d2d"/><stop offset=".439" stop-color="#343434"/><stop offset=".469" stop-color="#393939"/><stop offset=".494" stop-color="#3b3b3b"/><stop offset=".517" stop-color="#3b3b3b"/><stop offset=".539" stop-color="#393939"/><stop offset=".572" stop-color="#323232"/><stop offset=".649" stop-color="#1c1c1c"/><stop offset=".690" stop-color="#121212"/><stop offset=".723" stop-color="#0b0b0b"/><stop offset=".771" stop-color="#060606"/><stop offset=".830" stop-color="#030303"/><stop offset=".978" stop-color="#010101"/></linearGradient><linearGradient id="hm92" gradientUnits="userSpaceOnUse" x1="0" y1="655.8" x2="0" y2="1200.3"><stop offset=".022" stop-color="#020202"/><stop offset=".144" stop-color="#050505"/><stop offset=".214" stop-color="#080808"/><stop offset=".255" stop-color="#0c0c0c"/><stop offset=".291" stop-color="#111111"/><stop offset=".328" stop-color="#171717"/><stop offset=".410" stop-color="#2b2b2b"/><stop offset=".439" stop-color="#313131"/><stop offset=".469" stop-color="#363636"/><stop offset=".494" stop-color="#373737"/><stop offset=".517" stop-color="#373737"/><stop offset=".539" stop-color="#353535"/><stop offset=".572" stop-color="#2f2f2f"/><stop offset=".649" stop-color="#1a1a1a"/><stop offset=".690" stop-color="#111111"/><stop offset=".723" stop-color="#0b0b0b"/><stop offset=".771" stop-color="#060606"/><stop offset=".830" stop-color="#030303"/><stop offset=".978" stop-color="#010101"/></linearGradient><linearGradient id="hm93" gradientUnits="userSpaceOnUse" x1="0" y1="655.8" x2="0" y2="1200.3"><stop offset=".022" stop-color="#020202"/><stop offset=".144" stop-color="#050505"/><stop offset=".214" stop-color="#080808"/><stop offset=".277" stop-color="#0e0e0e"/><stop offset=".314" stop-color="#131313"/><stop offset=".369" stop-color="#1f1f1f"/><stop offset=".421" stop-color="#2a2a2a"/><stop offset=".450" stop-color="#303030"/><stop offset=".480" stop-color="#333333"/><stop offset=".506" stop-color="#343434"/><stop offset=".528" stop-color="#333333"/><stop offset=".550" stop-color="#303030"/><stop offset=".583" stop-color="#292929"/><stop offset=".657" stop-color="#171717"/><stop offset=".694" stop-color="#0f0f0f"/><stop offset=".727" stop-color="#0a0a0a"/><stop offset=".775" stop-color="#050505"/><stop offset=".834" stop-color="#020202"/><stop offset=".978" stop-color="#010101"/></linearGradient><linearGradient id="hm94" gradientUnits="userSpaceOnUse" x1="0" y1="655.8" x2="0" y2="1200.3"><stop offset=".022" stop-color="#020202"/><stop offset=".144" stop-color="#050505"/><stop offset=".214" stop-color="#070707"/><stop offset=".277" stop-color="#0d0d0d"/><stop offset=".314" stop-color="#121212"/><stop offset=".443" stop-color="#2c2c2c"/><stop offset=".472" stop-color="#2f2f2f"/><stop offset=".498" stop-color="#313131"/><stop offset=".520" stop-color="#303030"/><stop offset=".557" stop-color="#2c2c2c"/><stop offset=".609" stop-color="#212121"/><stop offset=".679" stop-color="#111111"/><stop offset=".716" stop-color="#0a0a0a"/><stop offset=".764" stop-color="#050505"/><stop offset=".823" stop-color="#030303"/><stop offset=".978" stop-color="#010101"/></linearGradient><linearGradient id="hm95" gradientUnits="userSpaceOnUse" x1="0" y1="655.8" x2="0" y2="1200.3"><stop offset=".022" stop-color="#020202"/><stop offset=".144" stop-color="#040404"/><stop offset=".214" stop-color="#070707"/><stop offset=".277" stop-color="#0c0c0c"/><stop offset=".336" stop-color="#151515"/><stop offset=".417" stop-color="#242424"/><stop offset=".461" stop-color="#2b2b2b"/><stop offset=".491" stop-color="#2d2d2d"/><stop offset=".513" stop-color="#2d2d2d"/><stop offset=".550" stop-color="#2a2a2a"/><stop offset=".583" stop-color="#242424"/><stop offset=".657" stop-color="#141414"/><stop offset=".694" stop-color="#0d0d0d"/><stop offset=".745" stop-color="#070707"/><stop offset=".812" stop-color="#030303"/><stop offset=".923" stop-color="#010101"/><stop offset=".978" stop-color="#010101"/></linearGradient><linearGradient id="hm96" gradientUnits="userSpaceOnUse" x1="0" y1="655.8" x2="0" y2="1200.3"><stop offset=".022" stop-color="#020202"/><stop offset=".144" stop-color="#040404"/><stop offset=".214" stop-color="#070707"/><stop offset=".277" stop-color="#0b0b0b"/><stop offset=".336" stop-color="#131313"/><stop offset=".417" stop-color="#222222"/><stop offset=".461" stop-color="#282828"/><stop offset=".491" stop-color="#2a2a2a"/><stop offset=".528" stop-color="#292929"/><stop offset=".565" stop-color="#242424"/><stop offset=".683" stop-color="#0e0e0e"/><stop offset=".738" stop-color="#070707"/><stop offset=".804" stop-color="#030303"/><stop offset=".919" stop-color="#010101"/><stop offset=".978" stop-color="#010101"/></linearGradient><linearGradient id="hm97" gradientUnits="userSpaceOnUse" x1="0" y1="655.8" x2="0" y2="1200.3"><stop offset=".022" stop-color="#020202"/><stop offset=".144" stop-color="#040404"/><stop offset=".214" stop-color="#060606"/><stop offset=".277" stop-color="#0a0a0a"/><stop offset=".336" stop-color="#121212"/><stop offset=".417" stop-color="#1f1f1f"/><stop offset=".461" stop-color="#252525"/><stop offset=".491" stop-color="#262626"/><stop offset=".528" stop-color="#262626"/><stop offset=".565" stop-color="#212121"/><stop offset=".683" stop-color="#0c0c0c"/><stop offset=".738" stop-color="#060606"/><stop offset=".804" stop-color="#030303"/><stop offset=".919" stop-color="#010101"/><stop offset=".978" stop-color="#010101"/></linearGradient><linearGradient id="hm98" gradientUnits="userSpaceOnUse" x1="0" y1="655.8" x2="0" y2="1200.3"><stop offset=".022" stop-color="#020202"/><stop offset=".144" stop-color="#040404"/><stop offset=".214" stop-color="#060606"/><stop offset=".277" stop-color="#0a0a0a"/><stop offset=".336" stop-color="#101010"/><stop offset=".417" stop-color="#1c1c1c"/><stop offset=".461" stop-color="#222222"/><stop offset=".491" stop-color="#232323"/><stop offset=".528" stop-color="#222222"/><stop offset=".565" stop-color="#1e1e1e"/><stop offset=".683" stop-color="#0b0b0b"/><stop offset=".738" stop-color="#060606"/><stop offset=".804" stop-color="#030303"/><stop offset=".978" stop-color="#010101"/></linearGradient><linearGradient id="hm99" gradientUnits="userSpaceOnUse" x1="0" y1="655.8" x2="0" y2="1200.3"><stop offset=".022" stop-color="#020202"/><stop offset=".144" stop-color="#030303"/><stop offset=".214" stop-color="#050505"/><stop offset=".277" stop-color="#090909"/><stop offset=".336" stop-color="#0f0f0f"/><stop offset=".417" stop-color="#1a1a1a"/><stop offset=".461" stop-color="#1e1e1e"/><stop offset=".506" stop-color="#202020"/><stop offset=".542" stop-color="#1e1e1e"/><stop offset=".594" stop-color="#171717"/><stop offset=".668" stop-color="#0c0c0c"/><stop offset=".727" stop-color="#060606"/><stop offset=".801" stop-color="#030303"/><stop offset=".978" stop-color="#010101"/></linearGradient><linearGradient id="hm100" gradientUnits="userSpaceOnUse" x1="0" y1="655.8" x2="0" y2="1200.3"><stop offset=".022" stop-color="#020202"/><stop offset=".144" stop-color="#030303"/><stop offset=".251" stop-color="#060606"/><stop offset=".310" stop-color="#0b0b0b"/><stop offset=".439" stop-color="#1a1a1a"/><stop offset=".483" stop-color="#1c1c1c"/><stop offset=".524" stop-color="#1c1c1c"/><stop offset=".561" stop-color="#191919"/><stop offset=".683" stop-color="#090909"/><stop offset=".738" stop-color="#050505"/><stop offset=".804" stop-color="#020202"/><stop offset=".978" stop-color="#010101"/></linearGradient><linearGradient id="hm101" gradientUnits="userSpaceOnUse" x1="0" y1="655.8" x2="0" y2="1200.3"><stop offset=".022" stop-color="#020202"/><stop offset=".207" stop-color="#040404"/><stop offset=".269" stop-color="#070707"/><stop offset=".328" stop-color="#0b0b0b"/><stop offset=".410" stop-color="#141414"/><stop offset=".458" stop-color="#181818"/><stop offset=".502" stop-color="#191919"/><stop offset=".539" stop-color="#181818"/><stop offset=".590" stop-color="#131313"/><stop offset=".664" stop-color="#0a0a0a"/><stop offset=".723" stop-color="#050505"/><stop offset=".797" stop-color="#020202"/><stop offset=".978" stop-color="#010101"/></linearGradient><linearGradient id="hm102" gradientUnits="userSpaceOnUse" x1="0" y1="655.8" x2="0" y2="1200.3"><stop offset=".022" stop-color="#020202"/><stop offset=".207" stop-color="#040404"/><stop offset=".269" stop-color="#060606"/><stop offset=".358" stop-color="#0d0d0d"/><stop offset=".435" stop-color="#141414"/><stop offset=".480" stop-color="#161616"/><stop offset=".520" stop-color="#161616"/><stop offset=".579" stop-color="#121212"/><stop offset=".657" stop-color="#0a0a0a"/><stop offset=".716" stop-color="#050505"/><stop offset=".790" stop-color="#020202"/><stop offset=".978" stop-color="#010101"/></linearGradient><linearGradient id="hm103" gradientUnits="userSpaceOnUse" x1="0" y1="655.8" x2="0" y2="1200.3"><stop offset=".022" stop-color="#020202"/><stop offset=".207" stop-color="#030303"/><stop offset=".303" stop-color="#070707"/><stop offset=".435" stop-color="#111111"/><stop offset=".480" stop-color="#131313"/><stop offset=".520" stop-color="#131313"/><stop offset=".579" stop-color="#0f0f0f"/><stop offset=".697" stop-color="#050505"/><stop offset=".779" stop-color="#020202"/><stop offset=".978" stop-color="#010101"/></linearGradient></defs>
<g clip-path="url(#hmc)"><g filter="url(#hmf)"><rect x="143.6" y="650.8" width="722.4" height="554.5" fill="#000"/><rect x="148.6" y="655.8" width="42.7" height="544.5" fill="url(#hm0)"/><rect x="190.7" y="655.8" width="12.6" height="544.5" fill="url(#hm1)"/><rect x="202.7" y="655.8" width="6.6" height="544.5" fill="url(#hm2)"/><rect x="208.7" y="655.8" width="6.6" height="544.5" fill="url(#hm3)"/><rect x="214.7" y="655.8" width="6.6" height="544.5" fill="url(#hm4)"/><rect x="220.7" y="655.8" width="3.6" height="544.5" fill="url(#hm5)"/><rect x="223.7" y="655.8" width="3.6" height="544.5" fill="url(#hm6)"/><rect x="226.7" y="655.8" width="3.6" height="544.5" fill="url(#hm7)"/><rect x="229.7" y="655.8" width="3.6" height="544.5" fill="url(#hm8)"/><rect x="232.7" y="655.8" width="3.6" height="544.5" fill="url(#hm9)"/><rect x="235.8" y="655.8" width="3.6" height="544.5" fill="url(#hm10)"/><rect x="238.8" y="655.8" width="3.6" height="544.5" fill="url(#hm11)"/><rect x="241.8" y="655.8" width="3.6" height="544.5" fill="url(#hm12)"/><rect x="244.8" y="655.8" width="3.6" height="544.5" fill="url(#hm13)"/><rect x="247.8" y="655.8" width="3.6" height="544.5" fill="url(#hm14)"/><rect x="250.8" y="655.8" width="3.6" height="544.5" fill="url(#hm15)"/><rect x="253.8" y="655.8" width="3.6" height="544.5" fill="url(#hm16)"/><rect x="256.8" y="655.8" width="3.6" height="544.5" fill="url(#hm17)"/><rect x="259.8" y="655.8" width="3.6" height="544.5" fill="url(#hm18)"/><rect x="262.8" y="655.8" width="3.6" height="544.5" fill="url(#hm19)"/><rect x="265.8" y="655.8" width="3.6" height="544.5" fill="url(#hm20)"/><rect x="268.8" y="655.8" width="3.6" height="544.5" fill="url(#hm21)"/><rect x="271.8" y="655.8" width="3.6" height="544.5" fill="url(#hm22)"/><rect x="274.8" y="655.8" width="3.6" height="544.5" fill="url(#hm23)"/><rect x="277.8" y="655.8" width="3.6" height="544.5" fill="url(#hm24)"/><rect x="280.8" y="655.8" width="3.6" height="544.5" fill="url(#hm25)"/><rect x="283.9" y="655.8" width="3.6" height="544.5" fill="url(#hm26)"/><rect x="286.9" y="655.8" width="3.6" height="544.5" fill="url(#hm27)"/><rect x="289.9" y="655.8" width="3.6" height="544.5" fill="url(#hm28)"/><rect x="292.9" y="655.8" width="3.6" height="544.5" fill="url(#hm29)"/><rect x="295.9" y="655.8" width="3.6" height="544.5" fill="url(#hm30)"/><rect x="298.9" y="655.8" width="3.6" height="544.5" fill="url(#hm31)"/><rect x="301.9" y="655.8" width="3.6" height="544.5" fill="url(#hm32)"/><rect x="304.9" y="655.8" width="3.6" height="544.5" fill="url(#hm33)"/><rect x="307.9" y="655.8" width="3.6" height="544.5" fill="url(#hm34)"/><rect x="310.9" y="655.8" width="3.6" height="544.5" fill="url(#hm35)"/><rect x="313.9" y="655.8" width="3.6" height="544.5" fill="url(#hm36)"/><rect x="316.9" y="655.8" width="3.6" height="544.5" fill="url(#hm37)"/><rect x="319.9" y="655.8" width="6.6" height="544.5" fill="url(#hm38)"/><rect x="325.9" y="655.8" width="12.6" height="544.5" fill="url(#hm39)"/><rect x="338.0" y="655.8" width="9.6" height="544.5" fill="url(#hm40)"/><rect x="347.0" y="655.8" width="6.6" height="544.5" fill="url(#hm41)"/><rect x="353.0" y="655.8" width="3.6" height="544.5" fill="url(#hm42)"/><rect x="356.0" y="655.8" width="3.6" height="544.5" fill="url(#hm43)"/><rect x="359.0" y="655.8" width="3.6" height="544.5" fill="url(#hm44)"/><rect x="362.0" y="655.8" width="3.6" height="544.5" fill="url(#hm45)"/><rect x="365.0" y="655.8" width="3.6" height="544.5" fill="url(#hm46)"/><rect x="368.0" y="655.8" width="3.6" height="544.5" fill="url(#hm47)"/><rect x="371.0" y="655.8" width="3.6" height="544.5" fill="url(#hm48)"/><rect x="374.0" y="655.8" width="3.6" height="544.5" fill="url(#hm49)"/><rect x="377.0" y="655.8" width="3.6" height="544.5" fill="url(#hm50)"/><rect x="380.0" y="655.8" width="3.6" height="544.5" fill="url(#hm51)"/><rect x="383.1" y="655.8" width="3.6" height="544.5" fill="url(#hm52)"/><rect x="386.1" y="655.8" width="3.6" height="544.5" fill="url(#hm53)"/><rect x="389.1" y="655.8" width="3.6" height="544.5" fill="url(#hm54)"/><rect x="392.1" y="655.8" width="3.6" height="544.5" fill="url(#hm55)"/><rect x="395.1" y="655.8" width="3.6" height="544.5" fill="url(#hm56)"/><rect x="398.1" y="655.8" width="3.6" height="544.5" fill="url(#hm57)"/><rect x="401.1" y="655.8" width="3.6" height="544.5" fill="url(#hm58)"/><rect x="404.1" y="655.8" width="3.6" height="544.5" fill="url(#hm59)"/><rect x="407.1" y="655.8" width="3.6" height="544.5" fill="url(#hm60)"/><rect x="410.1" y="655.8" width="3.6" height="544.5" fill="url(#hm61)"/><rect x="413.1" y="655.8" width="3.6" height="544.5" fill="url(#hm62)"/><rect x="416.1" y="655.8" width="3.6" height="544.5" fill="url(#hm63)"/><rect x="419.1" y="655.8" width="3.6" height="544.5" fill="url(#hm64)"/><rect x="422.1" y="655.8" width="3.6" height="544.5" fill="url(#hm65)"/><rect x="425.1" y="655.8" width="3.6" height="544.5" fill="url(#hm66)"/><rect x="428.1" y="655.8" width="3.6" height="544.5" fill="url(#hm67)"/><rect x="431.2" y="655.8" width="3.6" height="544.5" fill="url(#hm68)"/><rect x="434.2" y="655.8" width="6.6" height="544.5" fill="url(#hm69)"/><rect x="440.2" y="655.8" width="6.6" height="544.5" fill="url(#hm70)"/><rect x="446.2" y="655.8" width="6.6" height="544.5" fill="url(#hm71)"/><rect x="452.2" y="655.8" width="6.6" height="544.5" fill="url(#hm72)"/><rect x="458.2" y="655.8" width="6.6" height="544.5" fill="url(#hm73)"/><rect x="464.2" y="655.8" width="6.6" height="544.5" fill="url(#hm74)"/><rect x="470.2" y="655.8" width="6.6" height="544.5" fill="url(#hm75)"/><rect x="476.2" y="655.8" width="6.6" height="544.5" fill="url(#hm76)"/><rect x="482.3" y="655.8" width="6.6" height="544.5" fill="url(#hm77)"/><rect x="488.3" y="655.8" width="6.6" height="544.5" fill="url(#hm78)"/><rect x="494.3" y="655.8" width="6.6" height="544.5" fill="url(#hm79)"/><rect x="500.3" y="655.8" width="6.6" height="544.5" fill="url(#hm80)"/><rect x="506.3" y="655.8" width="6.6" height="544.5" fill="url(#hm81)"/><rect x="512.3" y="655.8" width="6.6" height="544.5" fill="url(#hm82)"/><rect x="518.3" y="655.8" width="9.6" height="544.5" fill="url(#hm83)"/><rect x="527.3" y="655.8" width="9.6" height="544.5" fill="url(#hm84)"/><rect x="536.4" y="655.8" width="9.6" height="544.5" fill="url(#hm85)"/><rect x="545.4" y="655.8" width="9.6" height="544.5" fill="url(#hm86)"/><rect x="554.4" y="655.8" width="9.6" height="544.5" fill="url(#hm87)"/><rect x="563.4" y="655.8" width="9.6" height="544.5" fill="url(#hm88)"/><rect x="572.4" y="655.8" width="9.6" height="544.5" fill="url(#hm89)"/><rect x="581.5" y="655.8" width="12.6" height="544.5" fill="url(#hm90)"/><rect x="593.5" y="655.8" width="12.6" height="544.5" fill="url(#hm91)"/><rect x="605.5" y="655.8" width="12.6" height="544.5" fill="url(#hm92)"/><rect x="617.5" y="655.8" width="12.6" height="544.5" fill="url(#hm93)"/><rect x="629.6" y="655.8" width="15.6" height="544.5" fill="url(#hm94)"/><rect x="644.6" y="655.8" width="15.6" height="544.5" fill="url(#hm95)"/><rect x="659.6" y="655.8" width="15.6" height="544.5" fill="url(#hm96)"/><rect x="674.6" y="655.8" width="18.6" height="544.5" fill="url(#hm97)"/><rect x="692.7" y="655.8" width="18.6" height="544.5" fill="url(#hm98)"/><rect x="710.7" y="655.8" width="21.6" height="544.5" fill="url(#hm99)"/><rect x="731.8" y="655.8" width="24.6" height="544.5" fill="url(#hm100)"/><rect x="755.8" y="655.8" width="27.7" height="544.5" fill="url(#hm101)"/><rect x="782.9" y="655.8" width="30.7" height="544.5" fill="url(#hm102)"/><rect x="812.9" y="655.8" width="48.7" height="544.5" fill="url(#hm103)"/></g></g>
<rect x="541.7" y="669.8" width="303.6" height="245.2" fill="#fff"/>
<clipPath id="hic"><rect x="550.7" y="676.4" width="288.1" height="233"/></clipPath>
<filter id="hif" x="0" y="0" width="100%" height="100%" filterUnits="objectBoundingBox" color-interpolation-filters="sRGB"><feGaussianBlur stdDeviation="1.6"/><feComponentTransfer><feFuncR type="table" tableValues="0.267 0.277 0.282 0.283 0.279 0.271 0.259 0.245 0.230 0.214 0.199 0.186 0.173 0.161 0.149 0.138 0.128 0.121 0.121 0.132 0.158 0.197 0.246 0.304 0.369 0.440 0.516 0.596 0.678 0.762 0.846 0.926 0.993"/><feFuncG type="table" tableValues="0.005 0.050 0.095 0.136 0.175 0.214 0.252 0.288 0.322 0.356 0.388 0.419 0.449 0.479 0.508 0.537 0.567 0.596 0.626 0.655 0.684 0.712 0.739 0.765 0.789 0.811 0.831 0.849 0.864 0.876 0.887 0.897 0.906"/><feFuncB type="table" tableValues="0.329 0.376 0.417 0.453 0.483 0.507 0.525 0.537 0.546 0.551 0.555 0.557 0.558 0.558 0.557 0.555 0.551 0.544 0.533 0.520 0.502 0.479 0.452 0.420 0.383 0.341 0.294 0.243 0.190 0.137 0.100 0.104 0.144"/></feComponentTransfer></filter>
<defs><linearGradient id="hi0" gradientUnits="userSpaceOnUse" x1="0" y1="670.4" x2="0" y2="915.4"><stop offset=".024" stop-color="#171717"/><stop offset=".073" stop-color="#0c0c0c"/><stop offset=".149" stop-color="#0f0f0f"/><stop offset=".245" stop-color="#212121"/><stop offset=".303" stop-color="#252525"/><stop offset=".428" stop-color="#171717"/><stop offset=".524" stop-color="#171717"/><stop offset=".649" stop-color="#232323"/><stop offset=".735" stop-color="#1e1e1e"/><stop offset=".889" stop-color="#050505"/><stop offset=".947" stop-color="#070707"/><stop offset=".976" stop-color="#0e0e0e"/></linearGradient><linearGradient id="hi1" gradientUnits="userSpaceOnUse" x1="0" y1="670.4" x2="0" y2="915.4"><stop offset=".024" stop-color="#161616"/><stop offset=".140" stop-color="#111111"/><stop offset=".697" stop-color="#1c1c1c"/><stop offset=".879" stop-color="#020202"/><stop offset=".937" stop-color="#040404"/><stop offset=".976" stop-color="#0e0e0e"/></linearGradient><linearGradient id="hi2" gradientUnits="userSpaceOnUse" x1="0" y1="670.4" x2="0" y2="915.4"><stop offset=".024" stop-color="#171717"/><stop offset=".101" stop-color="#191919"/><stop offset=".265" stop-color="#0a0a0a"/><stop offset=".466" stop-color="#181818"/><stop offset=".687" stop-color="#161616"/><stop offset=".812" stop-color="#050505"/><stop offset=".918" stop-color="#020202"/><stop offset=".976" stop-color="#0e0e0e"/></linearGradient><linearGradient id="hi3" gradientUnits="userSpaceOnUse" x1="0" y1="670.4" x2="0" y2="915.4"><stop offset=".024" stop-color="#1b1b1b"/><stop offset=".073" stop-color="#252525"/><stop offset=".149" stop-color="#202020"/><stop offset=".245" stop-color="#0c0c0c"/><stop offset=".303" stop-color="#090909"/><stop offset=".428" stop-color="#1c1c1c"/><stop offset=".524" stop-color="#191919"/><stop offset=".822" stop-color="#040404"/><stop offset=".976" stop-color="#0f0f0f"/></linearGradient><linearGradient id="hi4" gradientUnits="userSpaceOnUse" x1="0" y1="670.4" x2="0" y2="915.4"><stop offset=".024" stop-color="#1e1e1e"/><stop offset=".073" stop-color="#2b2b2b"/><stop offset=".149" stop-color="#252525"/><stop offset=".245" stop-color="#0f0f0f"/><stop offset=".303" stop-color="#0a0a0a"/><stop offset=".428" stop-color="#1e1e1e"/><stop offset=".524" stop-color="#1b1b1b"/><stop offset=".716" stop-color="#070707"/><stop offset=".793" stop-color="#040404"/><stop offset=".976" stop-color="#101010"/></linearGradient><linearGradient id="hi5" gradientUnits="userSpaceOnUse" x1="0" y1="670.4" x2="0" y2="915.4"><stop offset=".024" stop-color="#1d1d1d"/><stop offset=".101" stop-color="#222222"/><stop offset=".265" stop-color="#121212"/><stop offset=".351" stop-color="#121212"/><stop offset=".466" stop-color="#1b1b1b"/><stop offset=".610" stop-color="#161616"/><stop offset=".764" stop-color="#0c0c0c"/><stop offset=".899" stop-color="#151515"/><stop offset=".976" stop-color="#0f0f0f"/></linearGradient><linearGradient id="hi6" gradientUnits="userSpaceOnUse" x1="0" y1="670.4" x2="0" y2="915.4"><stop offset=".024" stop-color="#1c1c1c"/><stop offset=".303" stop-color="#151515"/><stop offset=".591" stop-color="#1c1c1c"/><stop offset=".755" stop-color="#131313"/><stop offset=".899" stop-color="#191919"/><stop offset=".976" stop-color="#111111"/></linearGradient><linearGradient id="hi7" gradientUnits="userSpaceOnUse" x1="0" y1="670.4" x2="0" y2="915.4"><stop offset=".024" stop-color="#171717"/><stop offset=".303" stop-color="#151515"/><stop offset=".591" stop-color="#202020"/><stop offset=".841" stop-color="#151515"/><stop offset=".927" stop-color="#161616"/><stop offset=".976" stop-color="#1b1b1b"/></linearGradient><linearGradient id="hi8" gradientUnits="userSpaceOnUse" x1="0" y1="670.4" x2="0" y2="915.4"><stop offset=".024" stop-color="#141414"/><stop offset=".303" stop-color="#161616"/><stop offset=".495" stop-color="#232323"/><stop offset=".707" stop-color="#252525"/><stop offset=".879" stop-color="#131313"/><stop offset=".937" stop-color="#171717"/><stop offset=".976" stop-color="#202020"/></linearGradient><linearGradient id="hi9" gradientUnits="userSpaceOnUse" x1="0" y1="670.4" x2="0" y2="915.4"><stop offset=".024" stop-color="#151515"/><stop offset=".207" stop-color="#111111"/><stop offset=".428" stop-color="#262626"/><stop offset=".582" stop-color="#2d2d2d"/><stop offset=".755" stop-color="#232323"/><stop offset=".899" stop-color="#181818"/><stop offset=".976" stop-color="#1c1c1c"/></linearGradient><linearGradient id="hi10" gradientUnits="userSpaceOnUse" x1="0" y1="670.4" x2="0" y2="915.4"><stop offset=".024" stop-color="#161616"/><stop offset=".140" stop-color="#101010"/><stop offset=".236" stop-color="#131313"/><stop offset=".447" stop-color="#343434"/><stop offset=".543" stop-color="#3c3c3c"/><stop offset=".831" stop-color="#1e1e1e"/><stop offset=".976" stop-color="#191919"/></linearGradient><linearGradient id="hi11" gradientUnits="userSpaceOnUse" x1="0" y1="670.4" x2="0" y2="915.4"><stop offset=".024" stop-color="#191919"/><stop offset=".101" stop-color="#151515"/><stop offset=".169" stop-color="#0e0e0e"/><stop offset=".322" stop-color="#292929"/><stop offset=".447" stop-color="#4a4a4a"/><stop offset=".505" stop-color="#555555"/><stop offset=".562" stop-color="#545454"/><stop offset=".735" stop-color="#252525"/><stop offset=".831" stop-color="#171717"/><stop offset=".927" stop-color="#171717"/><stop offset=".976" stop-color="#1c1c1c"/></linearGradient><linearGradient id="hi12" gradientUnits="userSpaceOnUse" x1="0" y1="670.4" x2="0" y2="915.4"><stop offset=".024" stop-color="#1a1a1a"/><stop offset=".101" stop-color="#181818"/><stop offset=".169" stop-color="#111111"/><stop offset=".265" stop-color="#242424"/><stop offset=".351" stop-color="#3d3d3d"/><stop offset=".466" stop-color="#6e6e6e"/><stop offset=".524" stop-color="#7a7a7a"/><stop offset=".572" stop-color="#737373"/><stop offset=".745" stop-color="#272727"/><stop offset=".803" stop-color="#181818"/><stop offset=".879" stop-color="#111111"/><stop offset=".976" stop-color="#1b1b1b"/></linearGradient><linearGradient id="hi13" gradientUnits="userSpaceOnUse" x1="0" y1="670.4" x2="0" y2="915.4"><stop offset=".024" stop-color="#181818"/><stop offset=".073" stop-color="#222222"/><stop offset=".188" stop-color="#1c1c1c"/><stop offset=".284" stop-color="#2b2b2b"/><stop offset=".341" stop-color="#424242"/><stop offset=".457" stop-color="#949494"/><stop offset=".495" stop-color="#aaaaaa"/><stop offset=".534" stop-color="#b2b2b2"/><stop offset=".582" stop-color="#a7a7a7"/><stop offset=".630" stop-color="#8a8a8a"/><stop offset=".726" stop-color="#434343"/><stop offset=".793" stop-color="#232323"/><stop offset=".870" stop-color="#121212"/><stop offset=".937" stop-color="#0e0e0e"/><stop offset=".976" stop-color="#121212"/></linearGradient><linearGradient id="hi14" gradientUnits="userSpaceOnUse" x1="0" y1="670.4" x2="0" y2="915.4"><stop offset=".024" stop-color="#171717"/><stop offset=".073" stop-color="#242424"/><stop offset=".188" stop-color="#202020"/><stop offset=".245" stop-color="#252525"/><stop offset=".303" stop-color="#363636"/><stop offset=".351" stop-color="#545454"/><stop offset=".466" stop-color="#bdbdbd"/><stop offset=".505" stop-color="#d4d4d4"/><stop offset=".543" stop-color="#dadada"/><stop offset=".572" stop-color="#d2d2d2"/><stop offset=".620" stop-color="#b3b3b3"/><stop offset=".716" stop-color="#5c5c5c"/><stop offset=".764" stop-color="#393939"/><stop offset=".822" stop-color="#1e1e1e"/><stop offset=".879" stop-color="#0e0e0e"/><stop offset=".937" stop-color="#080808"/><stop offset=".976" stop-color="#0e0e0e"/></linearGradient><linearGradient id="hi15" gradientUnits="userSpaceOnUse" x1="0" y1="670.4" x2="0" y2="915.4"><stop offset=".024" stop-color="#191919"/><stop offset=".207" stop-color="#1e1e1e"/><stop offset=".265" stop-color="#2b2b2b"/><stop offset=".322" stop-color="#4a4a4a"/><stop offset=".399" stop-color="#8b8b8b"/><stop offset=".466" stop-color="#c7c7c7"/><stop offset=".505" stop-color="#dbdbdb"/><stop offset=".543" stop-color="#dddddd"/><stop offset=".591" stop-color="#cbcbcb"/><stop offset=".659" stop-color="#979797"/><stop offset=".745" stop-color="#494949"/><stop offset=".803" stop-color="#252525"/><stop offset=".879" stop-color="#060606"/><stop offset=".937" stop-color="#050505"/><stop offset=".976" stop-color="#161616"/></linearGradient><linearGradient id="hi16" gradientUnits="userSpaceOnUse" x1="0" y1="670.4" x2="0" y2="915.4"><stop offset=".024" stop-color="#1b1b1b"/><stop offset=".101" stop-color="#131313"/><stop offset=".207" stop-color="#1a1a1a"/><stop offset=".265" stop-color="#2a2a2a"/><stop offset=".322" stop-color="#4d4d4d"/><stop offset=".447" stop-color="#bdbdbd"/><stop offset=".486" stop-color="#d8d8d8"/><stop offset=".524" stop-color="#e4e4e4"/><stop offset=".553" stop-color="#e2e2e2"/><stop offset=".601" stop-color="#cbcbcb"/><stop offset=".668" stop-color="#919191"/><stop offset=".755" stop-color="#434343"/><stop offset=".812" stop-color="#212121"/><stop offset=".879" stop-color="#040404"/><stop offset=".937" stop-color="#040404"/><stop offset=".976" stop-color="#1a1a1a"/></linearGradient><linearGradient id="hi17" gradientUnits="userSpaceOnUse" x1="0" y1="670.4" x2="0" y2="915.4"><stop offset=".024" stop-color="#202020"/><stop offset=".140" stop-color="#121212"/><stop offset=".236" stop-color="#191919"/><stop offset=".293" stop-color="#2e2e2e"/><stop offset=".370" stop-color="#686868"/><stop offset=".486" stop-color="#d8d8d8"/><stop offset=".524" stop-color="#eeeeee"/><stop offset=".553" stop-color="#f0f0f0"/><stop offset=".582" stop-color="#e5e5e5"/><stop offset=".630" stop-color="#bababa"/><stop offset=".687" stop-color="#787878"/><stop offset=".735" stop-color="#4c4c4c"/><stop offset=".793" stop-color="#2e2e2e"/><stop offset=".870" stop-color="#131313"/><stop offset=".937" stop-color="#090909"/><stop offset=".976" stop-color="#121212"/></linearGradient><linearGradient id="hi18" gradientUnits="userSpaceOnUse" x1="0" y1="670.4" x2="0" y2="915.4"><stop offset=".024" stop-color="#252525"/><stop offset=".140" stop-color="#131313"/><stop offset=".236" stop-color="#161616"/><stop offset=".293" stop-color="#2a2a2a"/><stop offset=".341" stop-color="#4a4a4a"/><stop offset=".418" stop-color="#919191"/><stop offset=".476" stop-color="#d3d3d3"/><stop offset=".514" stop-color="#f3f3f3"/><stop offset=".534" stop-color="#fafafa"/><stop offset=".562" stop-color="#f9f9f9"/><stop offset=".591" stop-color="#e9e9e9"/><stop offset=".630" stop-color="#c0c0c0"/><stop offset=".687" stop-color="#777777"/><stop offset=".735" stop-color="#4a4a4a"/><stop offset=".793" stop-color="#313131"/><stop offset=".908" stop-color="#101010"/><stop offset=".976" stop-color="#0d0d0d"/></linearGradient><linearGradient id="hi19" gradientUnits="userSpaceOnUse" x1="0" y1="670.4" x2="0" y2="915.4"><stop offset=".024" stop-color="#262626"/><stop offset=".101" stop-color="#181818"/><stop offset=".207" stop-color="#181818"/><stop offset=".265" stop-color="#252525"/><stop offset=".322" stop-color="#454545"/><stop offset=".399" stop-color="#8c8c8c"/><stop offset=".466" stop-color="#d8d8d8"/><stop offset=".486" stop-color="#ececec"/><stop offset=".505" stop-color="#f7f7f7"/><stop offset=".562" stop-color="#fdfdfd"/><stop offset=".591" stop-color="#f2f2f2"/><stop offset=".630" stop-color="#c9c9c9"/><stop offset=".687" stop-color="#818181"/><stop offset=".735" stop-color="#525252"/><stop offset=".793" stop-color="#353535"/><stop offset=".908" stop-color="#101010"/><stop offset=".976" stop-color="#101010"/></linearGradient><linearGradient id="hi20" gradientUnits="userSpaceOnUse" x1="0" y1="670.4" x2="0" y2="915.4"><stop offset=".024" stop-color="#232323"/><stop offset=".101" stop-color="#171717"/><stop offset=".207" stop-color="#1a1a1a"/><stop offset=".265" stop-color="#292929"/><stop offset=".322" stop-color="#4a4a4a"/><stop offset=".370" stop-color="#747474"/><stop offset=".486" stop-color="#f1f1f1"/><stop offset=".505" stop-color="#fafafa"/><stop offset=".562" stop-color="#fcfcfc"/><stop offset=".582" stop-color="#f9f9f9"/><stop offset=".610" stop-color="#e1e1e1"/><stop offset=".707" stop-color="#6e6e6e"/><stop offset=".755" stop-color="#464646"/><stop offset=".851" stop-color="#212121"/><stop offset=".927" stop-color="#101010"/><stop offset=".976" stop-color="#141414"/></linearGradient><linearGradient id="hi21" gradientUnits="userSpaceOnUse" x1="0" y1="670.4" x2="0" y2="915.4"><stop offset=".024" stop-color="#161616"/><stop offset=".101" stop-color="#0d0d0d"/><stop offset=".207" stop-color="#171717"/><stop offset=".265" stop-color="#272727"/><stop offset=".322" stop-color="#464646"/><stop offset=".370" stop-color="#6b6b6b"/><stop offset=".486" stop-color="#dfdfdf"/><stop offset=".505" stop-color="#ebebeb"/><stop offset=".543" stop-color="#f2f2f2"/><stop offset=".572" stop-color="#ededed"/><stop offset=".601" stop-color="#dadada"/><stop offset=".707" stop-color="#616161"/><stop offset=".755" stop-color="#3c3c3c"/><stop offset=".812" stop-color="#272727"/><stop offset=".918" stop-color="#171717"/><stop offset=".976" stop-color="#1c1c1c"/></linearGradient><linearGradient id="hi22" gradientUnits="userSpaceOnUse" x1="0" y1="670.4" x2="0" y2="915.4"><stop offset=".024" stop-color="#0d0d0d"/><stop offset=".101" stop-color="#060606"/><stop offset=".207" stop-color="#121212"/><stop offset=".265" stop-color="#232323"/><stop offset=".322" stop-color="#414141"/><stop offset=".370" stop-color="#636363"/><stop offset=".486" stop-color="#d3d3d3"/><stop offset=".524" stop-color="#e9e9e9"/><stop offset=".553" stop-color="#ebebeb"/><stop offset=".582" stop-color="#dedede"/><stop offset=".630" stop-color="#b0b0b0"/><stop offset=".687" stop-color="#6c6c6c"/><stop offset=".735" stop-color="#404040"/><stop offset=".793" stop-color="#252525"/><stop offset=".870" stop-color="#1a1a1a"/><stop offset=".976" stop-color="#252525"/></linearGradient><linearGradient id="hi23" gradientUnits="userSpaceOnUse" x1="0" y1="670.4" x2="0" y2="915.4"><stop offset=".024" stop-color="#0f0f0f"/><stop offset=".140" stop-color="#060606"/><stop offset=".197" stop-color="#090909"/><stop offset=".255" stop-color="#161616"/><stop offset=".313" stop-color="#333333"/><stop offset=".361" stop-color="#585858"/><stop offset=".476" stop-color="#cdcdcd"/><stop offset=".514" stop-color="#e7e7e7"/><stop offset=".534" stop-color="#ececec"/><stop offset=".562" stop-color="#e9e9e9"/><stop offset=".591" stop-color="#d7d7d7"/><stop offset=".630" stop-color="#b2b2b2"/><stop offset=".687" stop-color="#6f6f6f"/><stop offset=".735" stop-color="#414141"/><stop offset=".793" stop-color="#202020"/><stop offset=".841" stop-color="#151515"/><stop offset=".899" stop-color="#191919"/><stop offset=".976" stop-color="#323232"/></linearGradient><linearGradient id="hi24" gradientUnits="userSpaceOnUse" x1="0" y1="670.4" x2="0" y2="915.4"><stop offset=".024" stop-color="#121212"/><stop offset=".207" stop-color="#060606"/><stop offset=".265" stop-color="#121212"/><stop offset=".303" stop-color="#272727"/><stop offset=".351" stop-color="#4e4e4e"/><stop offset=".466" stop-color="#c9c9c9"/><stop offset=".505" stop-color="#e5e5e5"/><stop offset=".543" stop-color="#ececec"/><stop offset=".572" stop-color="#e3e3e3"/><stop offset=".620" stop-color="#bcbcbc"/><stop offset=".716" stop-color="#545454"/><stop offset=".764" stop-color="#2e2e2e"/><stop offset=".822" stop-color="#151515"/><stop offset=".860" stop-color="#111111"/><stop offset=".908" stop-color="#1d1d1d"/><stop offset=".976" stop-color="#3b3b3b"/></linearGradient><linearGradient id="hi25" gradientUnits="userSpaceOnUse" x1="0" y1="670.4" x2="0" y2="915.4"><stop offset=".024" stop-color="#1a1a1a"/><stop offset=".073" stop-color="#202020"/><stop offset=".149" stop-color="#131313"/><stop offset=".207" stop-color="#090909"/><stop offset=".265" stop-color="#0f0f0f"/><stop offset=".303" stop-color="#232323"/><stop offset=".351" stop-color="#515151"/><stop offset=".428" stop-color="#b0b0b0"/><stop offset=".466" stop-color="#d8d8d8"/><stop offset=".505" stop-color="#ececec"/><stop offset=".543" stop-color="#ebebeb"/><stop offset=".591" stop-color="#d1d1d1"/><stop offset=".697" stop-color="#6c6c6c"/><stop offset=".745" stop-color="#434343"/><stop offset=".803" stop-color="#242424"/><stop offset=".851" stop-color="#191919"/><stop offset=".899" stop-color="#1e1e1e"/><stop offset=".976" stop-color="#393939"/></linearGradient><linearGradient id="hi26" gradientUnits="userSpaceOnUse" x1="0" y1="670.4" x2="0" y2="915.4"><stop offset=".024" stop-color="#232323"/><stop offset=".073" stop-color="#2d2d2d"/><stop offset=".121" stop-color="#252525"/><stop offset=".188" stop-color="#0f0f0f"/><stop offset=".245" stop-color="#090909"/><stop offset=".284" stop-color="#141414"/><stop offset=".322" stop-color="#2f2f2f"/><stop offset=".370" stop-color="#676767"/><stop offset=".418" stop-color="#a8a8a8"/><stop offset=".457" stop-color="#d4d4d4"/><stop offset=".495" stop-color="#ececec"/><stop offset=".534" stop-color="#ededed"/><stop offset=".582" stop-color="#d6d6d6"/><stop offset=".755" stop-color="#424242"/><stop offset=".812" stop-color="#242424"/><stop offset=".851" stop-color="#1a1a1a"/><stop offset=".899" stop-color="#1e1e1e"/><stop offset=".976" stop-color="#333333"/></linearGradient><linearGradient id="hi27" gradientUnits="userSpaceOnUse" x1="0" y1="670.4" x2="0" y2="915.4"><stop offset=".024" stop-color="#303030"/><stop offset=".073" stop-color="#343434"/><stop offset=".121" stop-color="#292929"/><stop offset=".188" stop-color="#101010"/><stop offset=".245" stop-color="#090909"/><stop offset=".284" stop-color="#111111"/><stop offset=".322" stop-color="#272727"/><stop offset=".370" stop-color="#555555"/><stop offset=".447" stop-color="#b4b4b4"/><stop offset=".486" stop-color="#d8d8d8"/><stop offset=".524" stop-color="#e9e9e9"/><stop offset=".553" stop-color="#e8e8e8"/><stop offset=".601" stop-color="#d1d1d1"/><stop offset=".668" stop-color="#949494"/><stop offset=".755" stop-color="#414141"/><stop offset=".812" stop-color="#1d1d1d"/><stop offset=".851" stop-color="#101010"/><stop offset=".899" stop-color="#0e0e0e"/><stop offset=".976" stop-color="#272727"/></linearGradient><linearGradient id="hi28" gradientUnits="userSpaceOnUse" x1="0" y1="670.4" x2="0" y2="915.4"><stop offset=".024" stop-color="#393939"/><stop offset=".073" stop-color="#383838"/><stop offset=".149" stop-color="#202020"/><stop offset=".207" stop-color="#0e0e0e"/><stop offset=".265" stop-color="#0d0d0d"/><stop offset=".303" stop-color="#181818"/><stop offset=".351" stop-color="#353535"/><stop offset=".399" stop-color="#656565"/><stop offset=".466" stop-color="#b0b0b0"/><stop offset=".505" stop-color="#cfcfcf"/><stop offset=".543" stop-color="#dcdcdc"/><stop offset=".572" stop-color="#d8d8d8"/><stop offset=".620" stop-color="#bcbcbc"/><stop offset=".716" stop-color="#5f5f5f"/><stop offset=".764" stop-color="#353535"/><stop offset=".822" stop-color="#121212"/><stop offset=".879" stop-color="#050505"/><stop offset=".937" stop-color="#0b0b0b"/><stop offset=".976" stop-color="#191919"/></linearGradient><linearGradient id="hi29" gradientUnits="userSpaceOnUse" x1="0" y1="670.4" x2="0" y2="915.4"><stop offset=".024" stop-color="#3a3a3a"/><stop offset=".101" stop-color="#313131"/><stop offset=".169" stop-color="#1b1b1b"/><stop offset=".226" stop-color="#111111"/><stop offset=".284" stop-color="#151515"/><stop offset=".341" stop-color="#2b2b2b"/><stop offset=".390" stop-color="#4d4d4d"/><stop offset=".457" stop-color="#878787"/><stop offset=".495" stop-color="#a1a1a1"/><stop offset=".534" stop-color="#adadad"/><stop offset=".582" stop-color="#a6a6a6"/><stop offset=".630" stop-color="#8a8a8a"/><stop offset=".726" stop-color="#3f3f3f"/><stop offset=".793" stop-color="#181818"/><stop offset=".841" stop-color="#0b0b0b"/><stop offset=".976" stop-color="#0a0a0a"/></linearGradient><linearGradient id="hi30" gradientUnits="userSpaceOnUse" x1="0" y1="670.4" x2="0" y2="915.4"><stop offset=".024" stop-color="#333333"/><stop offset=".101" stop-color="#2b2b2b"/><stop offset=".207" stop-color="#141414"/><stop offset=".265" stop-color="#141414"/><stop offset=".322" stop-color="#1f1f1f"/><stop offset=".370" stop-color="#363636"/><stop offset=".486" stop-color="#808080"/><stop offset=".524" stop-color="#8c8c8c"/><stop offset=".572" stop-color="#888888"/><stop offset=".620" stop-color="#717171"/><stop offset=".716" stop-color="#333333"/><stop offset=".764" stop-color="#1b1b1b"/><stop offset=".822" stop-color="#0e0e0e"/><stop offset=".918" stop-color="#0d0d0d"/><stop offset=".976" stop-color="#050505"/></linearGradient><linearGradient id="hi31" gradientUnits="userSpaceOnUse" x1="0" y1="670.4" x2="0" y2="915.4"><stop offset=".024" stop-color="#1a1a1a"/><stop offset=".101" stop-color="#1c1c1c"/><stop offset=".207" stop-color="#0b0b0b"/><stop offset=".265" stop-color="#0b0b0b"/><stop offset=".322" stop-color="#171717"/><stop offset=".370" stop-color="#2f2f2f"/><stop offset=".486" stop-color="#7d7d7d"/><stop offset=".524" stop-color="#8a8a8a"/><stop offset=".572" stop-color="#858585"/><stop offset=".620" stop-color="#6e6e6e"/><stop offset=".716" stop-color="#303030"/><stop offset=".764" stop-color="#1a1a1a"/><stop offset=".822" stop-color="#121212"/><stop offset=".918" stop-color="#1a1a1a"/><stop offset=".976" stop-color="#161616"/></linearGradient><linearGradient id="hi32" gradientUnits="userSpaceOnUse" x1="0" y1="670.4" x2="0" y2="915.4"><stop offset=".024" stop-color="#0d0d0d"/><stop offset=".101" stop-color="#121212"/><stop offset=".207" stop-color="#050505"/><stop offset=".265" stop-color="#070707"/><stop offset=".322" stop-color="#141414"/><stop offset=".370" stop-color="#2e2e2e"/><stop offset=".447" stop-color="#696969"/><stop offset=".505" stop-color="#898989"/><stop offset=".543" stop-color="#909090"/><stop offset=".591" stop-color="#828282"/><stop offset=".697" stop-color="#3d3d3d"/><stop offset=".745" stop-color="#242424"/><stop offset=".803" stop-color="#171717"/><stop offset=".918" stop-color="#212121"/><stop offset=".976" stop-color="#1f1f1f"/></linearGradient><linearGradient id="hi33" gradientUnits="userSpaceOnUse" x1="0" y1="670.4" x2="0" y2="915.4"><stop offset=".024" stop-color="#1c1c1c"/><stop offset=".207" stop-color="#090909"/><stop offset=".265" stop-color="#0d0d0d"/><stop offset=".322" stop-color="#1e1e1e"/><stop offset=".370" stop-color="#3b3b3b"/><stop offset=".447" stop-color="#7c7c7c"/><stop offset=".505" stop-color="#9f9f9f"/><stop offset=".543" stop-color="#a5a5a5"/><stop offset=".591" stop-color="#979797"/><stop offset=".697" stop-color="#4d4d4d"/><stop offset=".745" stop-color="#323232"/><stop offset=".803" stop-color="#212121"/><stop offset=".976" stop-color="#151515"/></linearGradient><linearGradient id="hi34" gradientUnits="userSpaceOnUse" x1="0" y1="670.4" x2="0" y2="915.4"><stop offset=".024" stop-color="#212121"/><stop offset=".140" stop-color="#111111"/><stop offset=".236" stop-color="#0e0e0e"/><stop offset=".293" stop-color="#191919"/><stop offset=".341" stop-color="#2e2e2e"/><stop offset=".418" stop-color="#6b6b6b"/><stop offset=".476" stop-color="#989898"/><stop offset=".514" stop-color="#a9a9a9"/><stop offset=".553" stop-color="#aaaaaa"/><stop offset=".601" stop-color="#979797"/><stop offset=".707" stop-color="#4c4c4c"/><stop offset=".755" stop-color="#343434"/><stop offset=".812" stop-color="#252525"/><stop offset=".976" stop-color="#101010"/></linearGradient><linearGradient id="hi35" gradientUnits="userSpaceOnUse" x1="0" y1="670.4" x2="0" y2="915.4"><stop offset=".024" stop-color="#111111"/><stop offset=".101" stop-color="#181818"/><stop offset=".265" stop-color="#151515"/><stop offset=".322" stop-color="#232323"/><stop offset=".370" stop-color="#3a3a3a"/><stop offset=".447" stop-color="#6f6f6f"/><stop offset=".505" stop-color="#8a8a8a"/><stop offset=".543" stop-color="#8d8d8d"/><stop offset=".591" stop-color="#7e7e7e"/><stop offset=".697" stop-color="#3e3e3e"/><stop offset=".745" stop-color="#2b2b2b"/><stop offset=".803" stop-color="#232323"/><stop offset=".918" stop-color="#202020"/><stop offset=".976" stop-color="#141414"/></linearGradient><linearGradient id="hi36" gradientUnits="userSpaceOnUse" x1="0" y1="670.4" x2="0" y2="915.4"><stop offset=".024" stop-color="#060606"/><stop offset=".101" stop-color="#181818"/><stop offset=".265" stop-color="#1a1a1a"/><stop offset=".322" stop-color="#242424"/><stop offset=".399" stop-color="#454545"/><stop offset=".466" stop-color="#696969"/><stop offset=".524" stop-color="#777777"/><stop offset=".572" stop-color="#717171"/><stop offset=".687" stop-color="#363636"/><stop offset=".735" stop-color="#262626"/><stop offset=".793" stop-color="#1f1f1f"/><stop offset=".908" stop-color="#212121"/><stop offset=".976" stop-color="#171717"/></linearGradient><linearGradient id="hi37" gradientUnits="userSpaceOnUse" x1="0" y1="670.4" x2="0" y2="915.4"><stop offset=".024" stop-color="#090909"/><stop offset=".140" stop-color="#191919"/><stop offset=".293" stop-color="#262626"/><stop offset=".370" stop-color="#3c3c3c"/><stop offset=".486" stop-color="#6c6c6c"/><stop offset=".543" stop-color="#767676"/><stop offset=".591" stop-color="#6d6d6d"/><stop offset=".697" stop-color="#3b3b3b"/><stop offset=".774" stop-color="#202020"/><stop offset=".860" stop-color="#141414"/><stop offset=".976" stop-color="#141414"/></linearGradient><linearGradient id="hi38" gradientUnits="userSpaceOnUse" x1="0" y1="670.4" x2="0" y2="915.4"><stop offset=".024" stop-color="#0b0b0b"/><stop offset=".303" stop-color="#2d2d2d"/><stop offset=".428" stop-color="#525252"/><stop offset=".524" stop-color="#6e6e6e"/><stop offset=".572" stop-color="#6e6e6e"/><stop offset=".620" stop-color="#626262"/><stop offset=".774" stop-color="#212121"/><stop offset=".860" stop-color="#0b0b0b"/><stop offset=".937" stop-color="#0b0b0b"/><stop offset=".976" stop-color="#131313"/></linearGradient><linearGradient id="hi39" gradientUnits="userSpaceOnUse" x1="0" y1="670.4" x2="0" y2="915.4"><stop offset=".024" stop-color="#0d0d0d"/><stop offset=".303" stop-color="#2b2b2b"/><stop offset=".428" stop-color="#4c4c4c"/><stop offset=".524" stop-color="#5c5c5c"/><stop offset=".601" stop-color="#575757"/><stop offset=".707" stop-color="#3b3b3b"/><stop offset=".822" stop-color="#141414"/><stop offset=".879" stop-color="#060606"/><stop offset=".937" stop-color="#090909"/><stop offset=".976" stop-color="#131313"/></linearGradient><linearGradient id="hi40" gradientUnits="userSpaceOnUse" x1="0" y1="670.4" x2="0" y2="915.4"><stop offset=".024" stop-color="#0f0f0f"/><stop offset=".207" stop-color="#1d1d1d"/><stop offset=".303" stop-color="#2a2a2a"/><stop offset=".428" stop-color="#474747"/><stop offset=".524" stop-color="#515151"/><stop offset=".649" stop-color="#464646"/><stop offset=".783" stop-color="#232323"/><stop offset=".860" stop-color="#0b0b0b"/><stop offset=".908" stop-color="#060606"/><stop offset=".976" stop-color="#131313"/></linearGradient><linearGradient id="hi41" gradientUnits="userSpaceOnUse" x1="0" y1="670.4" x2="0" y2="915.4"><stop offset=".024" stop-color="#101010"/><stop offset=".101" stop-color="#0d0d0d"/><stop offset=".207" stop-color="#191919"/><stop offset=".543" stop-color="#595959"/><stop offset=".620" stop-color="#525252"/><stop offset=".851" stop-color="#151515"/><stop offset=".927" stop-color="#101010"/><stop offset=".976" stop-color="#131313"/></linearGradient><linearGradient id="hi42" gradientUnits="userSpaceOnUse" x1="0" y1="670.4" x2="0" y2="915.4"><stop offset=".024" stop-color="#121212"/><stop offset=".073" stop-color="#060606"/><stop offset=".149" stop-color="#090909"/><stop offset=".303" stop-color="#2c2c2c"/><stop offset=".428" stop-color="#3d3d3d"/><stop offset=".524" stop-color="#595959"/><stop offset=".572" stop-color="#5e5e5e"/><stop offset=".620" stop-color="#565656"/><stop offset=".716" stop-color="#343434"/><stop offset=".831" stop-color="#1c1c1c"/><stop offset=".976" stop-color="#131313"/></linearGradient><linearGradient id="hi43" gradientUnits="userSpaceOnUse" x1="0" y1="670.4" x2="0" y2="915.4"><stop offset=".024" stop-color="#131313"/><stop offset=".053" stop-color="#050505"/><stop offset=".130" stop-color="#030303"/><stop offset=".188" stop-color="#0d0d0d"/><stop offset=".284" stop-color="#2b2b2b"/><stop offset=".418" stop-color="#383838"/><stop offset=".514" stop-color="#515151"/><stop offset=".572" stop-color="#585858"/><stop offset=".620" stop-color="#4f4f4f"/><stop offset=".716" stop-color="#2c2c2c"/><stop offset=".793" stop-color="#1c1c1c"/><stop offset=".976" stop-color="#131313"/></linearGradient><linearGradient id="hi44" gradientUnits="userSpaceOnUse" x1="0" y1="670.4" x2="0" y2="915.4"><stop offset=".024" stop-color="#121212"/><stop offset=".053" stop-color="#040404"/><stop offset=".169" stop-color="#060606"/><stop offset=".265" stop-color="#262626"/><stop offset=".322" stop-color="#313131"/><stop offset=".447" stop-color="#3b3b3b"/><stop offset=".543" stop-color="#4f4f4f"/><stop offset=".591" stop-color="#4d4d4d"/><stop offset=".755" stop-color="#1b1b1b"/><stop offset=".851" stop-color="#171717"/><stop offset=".976" stop-color="#141414"/></linearGradient><linearGradient id="hi45" gradientUnits="userSpaceOnUse" x1="0" y1="670.4" x2="0" y2="915.4"><stop offset=".024" stop-color="#0e0e0e"/><stop offset=".073" stop-color="#080808"/><stop offset=".188" stop-color="#131313"/><stop offset=".341" stop-color="#2e2e2e"/><stop offset=".524" stop-color="#414141"/><stop offset=".601" stop-color="#3e3e3e"/><stop offset=".764" stop-color="#171717"/><stop offset=".851" stop-color="#171717"/><stop offset=".976" stop-color="#1a1a1a"/></linearGradient><linearGradient id="hi46" gradientUnits="userSpaceOnUse" x1="0" y1="670.4" x2="0" y2="915.4"><stop offset=".024" stop-color="#0d0d0d"/><stop offset=".207" stop-color="#191919"/><stop offset=".428" stop-color="#373737"/><stop offset=".524" stop-color="#3b3b3b"/><stop offset=".649" stop-color="#2f2f2f"/><stop offset=".783" stop-color="#161616"/><stop offset=".976" stop-color="#1e1e1e"/></linearGradient><linearGradient id="hi47" gradientUnits="userSpaceOnUse" x1="0" y1="670.4" x2="0" y2="915.4"><stop offset=".024" stop-color="#161616"/><stop offset=".207" stop-color="#161616"/><stop offset=".303" stop-color="#1e1e1e"/><stop offset=".428" stop-color="#3d3d3d"/><stop offset=".486" stop-color="#444444"/><stop offset=".572" stop-color="#3f3f3f"/><stop offset=".745" stop-color="#1f1f1f"/><stop offset=".841" stop-color="#1c1c1c"/><stop offset=".976" stop-color="#1c1c1c"/></linearGradient><linearGradient id="hi48" gradientUnits="userSpaceOnUse" x1="0" y1="670.4" x2="0" y2="915.4"><stop offset=".024" stop-color="#1b1b1b"/><stop offset=".140" stop-color="#181818"/><stop offset=".236" stop-color="#131313"/><stop offset=".322" stop-color="#1e1e1e"/><stop offset=".447" stop-color="#414141"/><stop offset=".505" stop-color="#474747"/><stop offset=".591" stop-color="#404040"/><stop offset=".755" stop-color="#222222"/><stop offset=".899" stop-color="#202020"/><stop offset=".976" stop-color="#191919"/></linearGradient><linearGradient id="hi49" gradientUnits="userSpaceOnUse" x1="0" y1="670.4" x2="0" y2="915.4"><stop offset=".024" stop-color="#1a1a1a"/><stop offset=".140" stop-color="#101010"/><stop offset=".293" stop-color="#191919"/><stop offset=".486" stop-color="#3a3a3a"/><stop offset=".572" stop-color="#414141"/><stop offset=".745" stop-color="#252525"/><stop offset=".899" stop-color="#1f1f1f"/><stop offset=".976" stop-color="#171717"/></linearGradient><linearGradient id="hi50" gradientUnits="userSpaceOnUse" x1="0" y1="670.4" x2="0" y2="915.4"><stop offset=".024" stop-color="#171717"/><stop offset=".140" stop-color="#0f0f0f"/><stop offset=".380" stop-color="#1f1f1f"/><stop offset=".553" stop-color="#3f3f3f"/><stop offset=".630" stop-color="#3b3b3b"/><stop offset=".783" stop-color="#232323"/><stop offset=".976" stop-color="#151515"/></linearGradient><linearGradient id="hi51" gradientUnits="userSpaceOnUse" x1="0" y1="670.4" x2="0" y2="915.4"><stop offset=".024" stop-color="#131313"/><stop offset=".101" stop-color="#1f1f1f"/><stop offset=".265" stop-color="#121212"/><stop offset=".399" stop-color="#242424"/><stop offset=".505" stop-color="#383838"/><stop offset=".591" stop-color="#3e3e3e"/><stop offset=".697" stop-color="#323232"/><stop offset=".879" stop-color="#0e0e0e"/><stop offset=".976" stop-color="#111111"/></linearGradient><linearGradient id="hi52" gradientUnits="userSpaceOnUse" x1="0" y1="670.4" x2="0" y2="915.4"><stop offset=".024" stop-color="#101010"/><stop offset=".073" stop-color="#232323"/><stop offset=".121" stop-color="#292929"/><stop offset=".188" stop-color="#1e1e1e"/><stop offset=".245" stop-color="#101010"/><stop offset=".303" stop-color="#101010"/><stop offset=".495" stop-color="#363636"/><stop offset=".582" stop-color="#3c3c3c"/><stop offset=".697" stop-color="#313131"/><stop offset=".879" stop-color="#060606"/><stop offset=".937" stop-color="#090909"/><stop offset=".976" stop-color="#101010"/></linearGradient><linearGradient id="hi53" gradientUnits="userSpaceOnUse" x1="0" y1="670.4" x2="0" y2="915.4"><stop offset=".024" stop-color="#0c0c0c"/><stop offset=".073" stop-color="#1f1f1f"/><stop offset=".121" stop-color="#242424"/><stop offset=".188" stop-color="#1a1a1a"/><stop offset=".245" stop-color="#0c0c0c"/><stop offset=".303" stop-color="#0d0d0d"/><stop offset=".495" stop-color="#303030"/><stop offset=".582" stop-color="#353535"/><stop offset=".755" stop-color="#1d1d1d"/><stop offset=".851" stop-color="#0c0c0c"/><stop offset=".899" stop-color="#0a0a0a"/><stop offset=".976" stop-color="#181818"/></linearGradient><linearGradient id="hi54" gradientUnits="userSpaceOnUse" x1="0" y1="670.4" x2="0" y2="915.4"><stop offset=".024" stop-color="#0b0b0b"/><stop offset=".073" stop-color="#1a1a1a"/><stop offset=".149" stop-color="#1d1d1d"/><stop offset=".245" stop-color="#0b0b0b"/><stop offset=".303" stop-color="#0d0d0d"/><stop offset=".495" stop-color="#2f2f2f"/><stop offset=".582" stop-color="#333333"/><stop offset=".841" stop-color="#0f0f0f"/><stop offset=".899" stop-color="#0d0d0d"/><stop offset=".976" stop-color="#1b1b1b"/></linearGradient><linearGradient id="hi55" gradientUnits="userSpaceOnUse" x1="0" y1="670.4" x2="0" y2="915.4"><stop offset=".024" stop-color="#0e0e0e"/><stop offset=".101" stop-color="#181818"/><stop offset=".265" stop-color="#101010"/><stop offset=".466" stop-color="#343434"/><stop offset=".562" stop-color="#3f3f3f"/><stop offset=".678" stop-color="#2f2f2f"/><stop offset=".870" stop-color="#0f0f0f"/><stop offset=".976" stop-color="#121212"/></linearGradient><linearGradient id="hi56" gradientUnits="userSpaceOnUse" x1="0" y1="670.4" x2="0" y2="915.4"><stop offset=".024" stop-color="#101010"/><stop offset=".140" stop-color="#151515"/><stop offset=".236" stop-color="#141414"/><stop offset=".322" stop-color="#1e1e1e"/><stop offset=".514" stop-color="#414141"/><stop offset=".601" stop-color="#424242"/><stop offset=".707" stop-color="#313131"/><stop offset=".879" stop-color="#0e0e0e"/><stop offset=".976" stop-color="#0b0b0b"/></linearGradient><linearGradient id="hi57" gradientUnits="userSpaceOnUse" x1="0" y1="670.4" x2="0" y2="915.4"><stop offset=".024" stop-color="#121212"/><stop offset=".140" stop-color="#1a1a1a"/><stop offset=".236" stop-color="#191919"/><stop offset=".322" stop-color="#222222"/><stop offset=".447" stop-color="#383838"/><stop offset=".678" stop-color="#383838"/><stop offset=".755" stop-color="#292929"/><stop offset=".851" stop-color="#0d0d0d"/><stop offset=".927" stop-color="#040404"/><stop offset=".976" stop-color="#0a0a0a"/></linearGradient><linearGradient id="hi58" gradientUnits="userSpaceOnUse" x1="0" y1="670.4" x2="0" y2="915.4"><stop offset=".024" stop-color="#131313"/><stop offset=".140" stop-color="#1c1c1c"/><stop offset=".293" stop-color="#202020"/><stop offset=".418" stop-color="#353535"/><stop offset=".572" stop-color="#323232"/><stop offset=".687" stop-color="#363636"/><stop offset=".764" stop-color="#252525"/><stop offset=".851" stop-color="#090909"/><stop offset=".899" stop-color="#010101"/><stop offset=".947" stop-color="#030303"/><stop offset=".976" stop-color="#0b0b0b"/></linearGradient><linearGradient id="hi59" gradientUnits="userSpaceOnUse" x1="0" y1="670.4" x2="0" y2="915.4"><stop offset=".024" stop-color="#111111"/><stop offset=".303" stop-color="#202020"/><stop offset=".495" stop-color="#323232"/><stop offset=".630" stop-color="#323232"/><stop offset=".726" stop-color="#252525"/><stop offset=".831" stop-color="#0c0c0c"/><stop offset=".889" stop-color="#050505"/><stop offset=".947" stop-color="#080808"/><stop offset=".976" stop-color="#0f0f0f"/></linearGradient><linearGradient id="hi60" gradientUnits="userSpaceOnUse" x1="0" y1="670.4" x2="0" y2="915.4"><stop offset=".024" stop-color="#101010"/><stop offset=".303" stop-color="#1f1f1f"/><stop offset=".495" stop-color="#333333"/><stop offset=".582" stop-color="#363636"/><stop offset=".697" stop-color="#262626"/><stop offset=".812" stop-color="#101010"/><stop offset=".918" stop-color="#0b0b0b"/><stop offset=".976" stop-color="#131313"/></linearGradient><linearGradient id="hi61" gradientUnits="userSpaceOnUse" x1="0" y1="670.4" x2="0" y2="915.4"><stop offset=".024" stop-color="#0f0f0f"/><stop offset=".140" stop-color="#181818"/><stop offset=".293" stop-color="#1e1e1e"/><stop offset=".486" stop-color="#3e3e3e"/><stop offset=".572" stop-color="#3f3f3f"/><stop offset=".841" stop-color="#1b1b1b"/><stop offset=".976" stop-color="#181818"/></linearGradient><linearGradient id="hi62" gradientUnits="userSpaceOnUse" x1="0" y1="670.4" x2="0" y2="915.4"><stop offset=".024" stop-color="#0f0f0f"/><stop offset=".101" stop-color="#1a1a1a"/><stop offset=".265" stop-color="#1a1a1a"/><stop offset=".351" stop-color="#272727"/><stop offset=".466" stop-color="#404040"/><stop offset=".562" stop-color="#424242"/><stop offset=".831" stop-color="#242424"/><stop offset=".976" stop-color="#191919"/></linearGradient><linearGradient id="hi63" gradientUnits="userSpaceOnUse" x1="0" y1="670.4" x2="0" y2="915.4"><stop offset=".024" stop-color="#111111"/><stop offset=".101" stop-color="#202020"/><stop offset=".265" stop-color="#151515"/><stop offset=".351" stop-color="#1c1c1c"/><stop offset=".466" stop-color="#313131"/><stop offset=".562" stop-color="#363636"/><stop offset=".735" stop-color="#212121"/><stop offset=".889" stop-color="#1e1e1e"/><stop offset=".976" stop-color="#121212"/></linearGradient><linearGradient id="hi64" gradientUnits="userSpaceOnUse" x1="0" y1="670.4" x2="0" y2="915.4"><stop offset=".024" stop-color="#121212"/><stop offset=".073" stop-color="#1f1f1f"/><stop offset=".149" stop-color="#212121"/><stop offset=".303" stop-color="#131313"/><stop offset=".495" stop-color="#2a2a2a"/><stop offset=".582" stop-color="#2a2a2a"/><stop offset=".697" stop-color="#1c1c1c"/><stop offset=".879" stop-color="#1d1d1d"/><stop offset=".937" stop-color="#171717"/><stop offset=".976" stop-color="#0f0f0f"/></linearGradient><linearGradient id="hi65" gradientUnits="userSpaceOnUse" x1="0" y1="670.4" x2="0" y2="915.4"><stop offset=".024" stop-color="#101010"/><stop offset=".101" stop-color="#1b1b1b"/><stop offset=".265" stop-color="#181818"/><stop offset=".466" stop-color="#262626"/><stop offset=".803" stop-color="#1b1b1b"/><stop offset=".918" stop-color="#1a1a1a"/><stop offset=".976" stop-color="#141414"/></linearGradient><linearGradient id="hi66" gradientUnits="userSpaceOnUse" x1="0" y1="670.4" x2="0" y2="915.4"><stop offset=".024" stop-color="#0f0f0f"/><stop offset=".140" stop-color="#191919"/><stop offset=".293" stop-color="#1d1d1d"/><stop offset=".418" stop-color="#262626"/><stop offset=".659" stop-color="#1c1c1c"/><stop offset=".976" stop-color="#181818"/></linearGradient><linearGradient id="hi67" gradientUnits="userSpaceOnUse" x1="0" y1="670.4" x2="0" y2="915.4"><stop offset=".024" stop-color="#0f0f0f"/><stop offset=".140" stop-color="#191919"/><stop offset=".293" stop-color="#1d1d1d"/><stop offset=".418" stop-color="#262626"/><stop offset=".659" stop-color="#1c1c1c"/><stop offset=".976" stop-color="#181818"/></linearGradient></defs>
<g clip-path="url(#hic)"><g filter="url(#hif)"><rect x="539.7" y="665.4" width="310.1" height="255" fill="#000"/><rect x="544.7" y="670.4" width="10.8" height="245" fill="url(#hi0)"/><rect x="554.9" y="670.4" width="4.8" height="245" fill="url(#hi1)"/><rect x="559.2" y="670.4" width="4.8" height="245" fill="url(#hi2)"/><rect x="563.4" y="670.4" width="4.8" height="245" fill="url(#hi3)"/><rect x="567.6" y="670.4" width="4.8" height="245" fill="url(#hi4)"/><rect x="571.9" y="670.4" width="4.8" height="245" fill="url(#hi5)"/><rect x="576.1" y="670.4" width="4.8" height="245" fill="url(#hi6)"/><rect x="580.4" y="670.4" width="4.8" height="245" fill="url(#hi7)"/><rect x="584.6" y="670.4" width="4.8" height="245" fill="url(#hi8)"/><rect x="588.8" y="670.4" width="4.8" height="245" fill="url(#hi9)"/><rect x="593.1" y="670.4" width="4.8" height="245" fill="url(#hi10)"/><rect x="597.3" y="670.4" width="4.8" height="245" fill="url(#hi11)"/><rect x="601.5" y="670.4" width="4.8" height="245" fill="url(#hi12)"/><rect x="605.8" y="670.4" width="4.8" height="245" fill="url(#hi13)"/><rect x="610.0" y="670.4" width="4.8" height="245" fill="url(#hi14)"/><rect x="614.3" y="670.4" width="4.8" height="245" fill="url(#hi15)"/><rect x="618.5" y="670.4" width="4.8" height="245" fill="url(#hi16)"/><rect x="622.7" y="670.4" width="4.8" height="245" fill="url(#hi17)"/><rect x="627.0" y="670.4" width="4.8" height="245" fill="url(#hi18)"/><rect x="631.2" y="670.4" width="4.8" height="245" fill="url(#hi19)"/><rect x="635.4" y="670.4" width="4.8" height="245" fill="url(#hi20)"/><rect x="639.7" y="670.4" width="4.8" height="245" fill="url(#hi21)"/><rect x="643.9" y="670.4" width="4.8" height="245" fill="url(#hi22)"/><rect x="648.1" y="670.4" width="4.8" height="245" fill="url(#hi23)"/><rect x="652.4" y="670.4" width="4.8" height="245" fill="url(#hi24)"/><rect x="656.6" y="670.4" width="4.8" height="245" fill="url(#hi25)"/><rect x="660.9" y="670.4" width="4.8" height="245" fill="url(#hi26)"/><rect x="665.1" y="670.4" width="4.8" height="245" fill="url(#hi27)"/><rect x="669.3" y="670.4" width="4.8" height="245" fill="url(#hi28)"/><rect x="673.6" y="670.4" width="4.8" height="245" fill="url(#hi29)"/><rect x="677.8" y="670.4" width="4.8" height="245" fill="url(#hi30)"/><rect x="682.0" y="670.4" width="4.8" height="245" fill="url(#hi31)"/><rect x="686.3" y="670.4" width="4.8" height="245" fill="url(#hi32)"/><rect x="690.5" y="670.4" width="4.8" height="245" fill="url(#hi33)"/><rect x="694.8" y="670.4" width="4.8" height="245" fill="url(#hi34)"/><rect x="699.0" y="670.4" width="4.8" height="245" fill="url(#hi35)"/><rect x="703.2" y="670.4" width="4.8" height="245" fill="url(#hi36)"/><rect x="707.5" y="670.4" width="4.8" height="245" fill="url(#hi37)"/><rect x="711.7" y="670.4" width="4.8" height="245" fill="url(#hi38)"/><rect x="715.9" y="670.4" width="4.8" height="245" fill="url(#hi39)"/><rect x="720.2" y="670.4" width="4.8" height="245" fill="url(#hi40)"/><rect x="724.4" y="670.4" width="4.8" height="245" fill="url(#hi41)"/><rect x="728.6" y="670.4" width="4.8" height="245" fill="url(#hi42)"/><rect x="732.9" y="670.4" width="4.8" height="245" fill="url(#hi43)"/><rect x="737.1" y="670.4" width="4.8" height="245" fill="url(#hi44)"/><rect x="741.4" y="670.4" width="4.8" height="245" fill="url(#hi45)"/><rect x="745.6" y="670.4" width="4.8" height="245" fill="url(#hi46)"/><rect x="749.8" y="670.4" width="4.8" height="245" fill="url(#hi47)"/><rect x="754.1" y="670.4" width="4.8" height="245" fill="url(#hi48)"/><rect x="758.3" y="670.4" width="4.8" height="245" fill="url(#hi49)"/><rect x="762.5" y="670.4" width="4.8" height="245" fill="url(#hi50)"/><rect x="766.8" y="670.4" width="4.8" height="245" fill="url(#hi51)"/><rect x="771.0" y="670.4" width="4.8" height="245" fill="url(#hi52)"/><rect x="775.2" y="670.4" width="4.8" height="245" fill="url(#hi53)"/><rect x="779.5" y="670.4" width="4.8" height="245" fill="url(#hi54)"/><rect x="783.7" y="670.4" width="4.8" height="245" fill="url(#hi55)"/><rect x="788.0" y="670.4" width="4.8" height="245" fill="url(#hi56)"/><rect x="792.2" y="670.4" width="4.8" height="245" fill="url(#hi57)"/><rect x="796.4" y="670.4" width="4.8" height="245" fill="url(#hi58)"/><rect x="800.7" y="670.4" width="4.8" height="245" fill="url(#hi59)"/><rect x="804.9" y="670.4" width="4.8" height="245" fill="url(#hi60)"/><rect x="809.1" y="670.4" width="4.8" height="245" fill="url(#hi61)"/><rect x="813.4" y="670.4" width="4.8" height="245" fill="url(#hi62)"/><rect x="817.6" y="670.4" width="4.8" height="245" fill="url(#hi63)"/><rect x="821.9" y="670.4" width="4.8" height="245" fill="url(#hi64)"/><rect x="826.1" y="670.4" width="4.8" height="245" fill="url(#hi65)"/><rect x="830.3" y="670.4" width="4.8" height="245" fill="url(#hi66)"/><rect x="834.6" y="670.4" width="10.8" height="245" fill="url(#hi67)"/></g></g>
<rect x="547.2" y="674.4" width="292.4" height="235.8" fill="none" stroke="#000" stroke-width="1.1"/>
<rect x="160.6" y="664.1" width="688.4" height="524.2" fill="none" stroke="#000" stroke-width="2.6"/>
<line x1="270.5" y1="1188.3" x2="270.5" y2="1178.6" stroke="#000" stroke-width="2.4"/>
<text x="270.5" y="1228.7" text-anchor="middle" font-family="'DejaVu Sans','Liberation Sans',sans-serif" font-size="39.8" stroke="#000" stroke-width="0.3">0</text>
<line x1="509.3" y1="1188.3" x2="509.3" y2="1178.6" stroke="#000" stroke-width="2.4"/>
<text x="509.3" y="1228.7" text-anchor="middle" font-family="'DejaVu Sans','Liberation Sans',sans-serif" font-size="39.8" stroke="#000" stroke-width="0.3">2</text>
<line x1="748.1" y1="1188.3" x2="748.1" y2="1178.6" stroke="#000" stroke-width="2.4"/>
<text x="748.1" y="1228.7" text-anchor="middle" font-family="'DejaVu Sans','Liberation Sans',sans-serif" font-size="39.8" stroke="#000" stroke-width="0.3">4</text>
<line x1="160.6" y1="1117.8" x2="170.3" y2="1117.8" stroke="#000" stroke-width="2.4"/>
<text x="151.1" y="1133.6" text-anchor="end" font-family="'DejaVu Sans','Liberation Sans',sans-serif" font-size="39.8" stroke="#000" stroke-width="0.3">800</text>
<line x1="160.6" y1="1004.3" x2="170.3" y2="1004.3" stroke="#000" stroke-width="2.4"/>
<text x="151.1" y="1020.1" text-anchor="end" font-family="'DejaVu Sans','Liberation Sans',sans-serif" font-size="39.8" stroke="#000" stroke-width="0.3">850</text>
<line x1="160.6" y1="890.9" x2="170.3" y2="890.9" stroke="#000" stroke-width="2.4"/>
<text x="151.1" y="906.7" text-anchor="end" font-family="'DejaVu Sans','Liberation Sans',sans-serif" font-size="39.8" stroke="#000" stroke-width="0.3">900</text>
<line x1="160.6" y1="777.4" x2="170.3" y2="777.4" stroke="#000" stroke-width="2.4"/>
<text x="151.1" y="793.2" text-anchor="end" font-family="'DejaVu Sans','Liberation Sans',sans-serif" font-size="39.8" stroke="#000" stroke-width="0.3">950</text>
<line x1="160.6" y1="664" x2="170.3" y2="664" stroke="#000" stroke-width="2.4"/>
<text x="151.1" y="679.8" text-anchor="end" font-family="'DejaVu Sans','Liberation Sans',sans-serif" font-size="39.8" stroke="#000" stroke-width="0.3">1000</text>
<text x="504.8" y="1278" text-anchor="middle" font-family="'DejaVu Sans','Liberation Sans',sans-serif" font-size="39.8" stroke="#000" stroke-width="0.3">time [ns]</text>
<text transform="translate(30.5,926.2) rotate(-90)" text-anchor="middle" font-family="'DejaVu Sans','Liberation Sans',sans-serif" font-size="39.8" stroke="#000" stroke-width="0.3">wavelength [nm]</text>
<text x="195.6" y="716.3" fill="#fff" stroke="#fff" stroke-width="0.5" font-family="'DejaVu Sans','Liberation Sans',sans-serif" font-weight="700" font-size="39.8">(b)</text>
</g>
<g id="pc">
<clipPath id="cc"><rect x="1014.8" y="664.1" width="687.4" height="524.2"/></clipPath>
<g clip-path="url(#cc)">
<polyline points="1014.7,1154.9 1026.1,1154.9 1037.6,1144 1049,1141.2 1060.5,1144.4 1071.9,1140.3 1083.4,1117.5 1094.8,1107.3 1106.3,1086.9 1117.7,1049.3 1129.2,930.5 1140.7,819.6 1152.1,710.1 1163.6,690.2 1175,687.4 1186.5,702.2 1197.9,737.5 1209.4,752.4 1220.8,762.6 1232.3,793.7 1243.8,840.5 1255.2,854.4 1266.7,889.2 1278.1,910.6 1289.6,921.3 1301,942.6 1312.5,950.5 1323.9,960.7 1335.4,984.4 1346.8,993.6 1358.3,1000.1 1369.8,1017.3 1381.2,1021.5 1392.7,1041.9 1404.1,1045.1 1415.6,1061.8 1427,1066.5 1438.5,1078.1 1449.9,1077.6 1461.4,1097.6 1472.8,1094.8 1484.3,1104.5 1495.8,1098.5 1507.2,1104.5 1518.7,1104.5 1530.1,1104.1 1541.6,1118.5 1553,1118.5 1564.5,1118.9 1575.9,1121.2 1587.4,1114.7 1598.9,1134.7 1610.3,1134.7 1621.8,1128.7 1633.2,1132.6 1644.7,1138.4 1656.1,1136.1 1667.6,1141.7 1679,1138.9 1690.5,1141.2 1702,1144.4" fill="none" stroke="#1f77b4" stroke-width="8.3" stroke-linejoin="round"/>
<polyline points="1021.5,1151.4 1023.8,1151.2 1026.1,1150.9 1028.4,1150.7 1030.6,1150.4 1032.9,1150.2 1035.2,1149.9 1037.5,1149.6 1039.7,1149.2 1042,1148.8 1044.3,1148.3 1046.6,1147.8 1048.8,1147.3 1051.1,1146.6 1053.4,1145.9 1055.7,1145 1057.9,1144.1 1060.2,1143.2 1062.5,1142.2 1064.8,1141.2 1067,1140.2 1069.3,1139 1071.6,1137.7 1073.9,1136.1 1076.1,1134.1 1078.4,1131.9 1080.7,1129.6 1083,1127.2 1085.2,1125 1087.5,1122.7 1089.8,1120.4 1092.1,1117.9 1094.3,1115 1096.6,1111.5 1098.9,1107.4 1101.2,1102.7 1103.4,1097.7 1105.7,1092.4 1108,1087.1 1110.3,1081.6 1112.6,1075.7 1114.8,1068.9 1117.1,1061.1 1119.4,1051.3 1121.7,1038.8 1123.9,1024 1126.2,1007.5 1128.5,990 1130.8,971.4 1133,950.2 1135.3,927.1 1137.6,902.9 1139.9,878.3 1142.1,852.7 1144.4,823.2 1146.7,792.9 1149,765.4 1151.2,744.1 1153.5,730.8 1155.8,719.4 1158.1,709.8 1160.3,702.2 1162.6,697.1 1164.9,694.3 1167.2,692.1 1169.4,690.4 1171.7,689.1 1174,688.4 1176.3,688.5 1178.5,689.3 1180.8,690.8 1183.1,692.7 1185.4,694.8 1187.6,696.9 1189.9,699.4 1192.2,702.5 1194.5,705.8 1196.8,709.3 1199,712.8 1201.3,716.5 1203.6,720.5 1205.9,724.7 1208.1,729.1 1210.4,733.5 1212.7,738 1215,742.8 1217.2,747.6 1219.5,752.6 1221.8,757.7 1224.1,763.1 1226.3,768.6 1228.6,774.1 1230.9,779.6 1233.2,785 1235.4,790.3 1237.7,795.6 1240,800.8 1242.3,806.1 1244.5,811.2 1246.8,816.5 1249.1,821.7 1251.4,826.8 1253.6,831.7 1255.9,836.4 1258.2,840.7 1260.5,844.8 1262.7,848.9 1265,852.9 1267.3,857 1269.6,861.1 1271.8,865.2 1274.1,869.4 1276.4,873.5 1278.7,877.8 1281,882.1 1283.2,886.5 1285.5,890.8 1287.8,895.2 1290.1,899.4 1292.3,903.6 1294.6,907.7 1296.9,911.8 1299.2,915.8 1301.4,919.6 1303.7,923.3 1306,927 1308.3,930.5 1310.5,934 1312.8,937.5 1315.1,941 1317.4,944.5 1319.6,947.9 1321.9,951.3 1324.2,954.6 1326.5,957.8 1328.7,961 1331,964.1 1333.3,967.2 1335.6,970.2 1337.8,973.2 1340.1,976.2 1342.4,979.1 1344.7,982 1346.9,985 1349.2,987.9 1351.5,990.8 1353.8,993.6 1356,996.5 1358.3,999.2 1360.6,1001.9 1362.9,1004.5 1365.2,1007 1367.4,1009.6 1369.7,1012.1 1372,1014.8 1374.3,1017.4 1376.5,1020 1378.8,1022.6 1381.1,1025.1 1383.4,1027.4 1385.6,1029.8 1387.9,1032.1 1390.2,1034.3 1392.5,1036.6 1394.7,1038.7 1397,1040.8 1399.3,1042.9 1401.6,1044.9 1403.8,1046.8 1406.1,1048.6 1408.4,1050.3 1410.7,1052 1412.9,1053.7 1415.2,1055.3 1417.5,1056.8 1419.8,1058.4 1422,1059.9 1424.3,1061.4 1426.6,1062.9 1428.9,1064.5 1431.1,1066 1433.4,1067.6 1435.7,1069.1 1438,1070.6 1440.2,1072.1 1442.5,1073.6 1444.8,1075 1447.1,1076.4 1449.4,1077.7 1451.6,1079.1 1453.9,1080.4 1456.2,1081.6 1458.5,1082.9 1460.7,1084.1 1463,1085.3 1465.3,1086.4 1467.6,1087.6 1469.8,1088.7 1472.1,1089.8 1474.4,1090.9 1476.7,1091.9 1478.9,1092.9 1481.2,1093.9 1483.5,1094.9 1485.8,1095.9 1488,1096.8 1490.3,1097.7 1492.6,1098.7 1494.9,1099.5 1497.1,1100.4 1499.4,1101.3 1501.7,1102.1 1504,1103 1506.2,1103.8 1508.5,1104.6 1510.8,1105.4 1513.1,1106.2 1515.3,1106.9 1517.6,1107.7 1519.9,1108.4 1522.2,1109.1 1524.4,1109.8 1526.7,1110.5 1529,1111.2 1531.3,1111.8 1533.6,1112.5 1535.8,1113.1 1538.1,1113.8 1540.4,1114.4 1542.7,1115 1544.9,1115.7 1547.2,1116.3 1549.5,1116.9 1551.8,1117.5 1554,1118.1 1556.3,1118.6 1558.6,1119.2 1560.9,1119.8 1563.1,1120.4 1565.4,1121 1567.7,1121.6 1570,1122.3 1572.2,1122.9 1574.5,1123.5 1576.8,1124.2 1579.1,1124.8 1581.3,1125.4 1583.6,1125.9 1585.9,1126.5 1588.2,1127 1590.4,1127.5 1592.7,1128 1595,1128.4 1597.3,1128.9 1599.5,1129.4 1601.8,1129.8 1604.1,1130.3 1606.4,1130.7 1608.6,1131.2 1610.9,1131.6 1613.2,1132 1615.5,1132.4 1617.8,1132.8 1620,1133.2 1622.3,1133.6 1624.6,1134 1626.9,1134.4 1629.1,1134.7 1631.4,1135.1 1633.7,1135.5 1636,1135.8 1638.2,1136.1 1640.5,1136.4 1642.8,1136.8 1645.1,1137.1 1647.3,1137.4 1649.6,1137.7 1651.9,1138 1654.2,1138.2 1656.4,1138.5 1658.7,1138.8 1661,1139.1 1663.3,1139.4 1665.5,1139.6 1667.8,1139.9 1670.1,1140.1 1672.4,1140.4 1674.6,1140.6 1676.9,1140.9 1679.2,1141.1 1681.5,1141.3 1683.7,1141.5 1686,1141.8 1688.3,1142 1690.6,1142.2 1692.8,1142.4 1695.1,1142.5 1697.4,1142.7 1699.7,1142.9 1702,1143" fill="none" stroke="#ff7f0e" stroke-width="4.4" stroke-linejoin="round" stroke-dasharray="15.4 6.7"/>
<polyline points="1021.5,1143.5 1023.8,1143 1026,1142.6 1028.3,1142.3 1030.6,1142.1 1032.8,1141.8 1035.1,1141.6 1037.3,1141.2 1039.6,1140.7 1041.9,1139.9 1044.1,1138.9 1046.4,1137.9 1048.6,1136.7 1050.9,1135.6 1053.2,1134.3 1055.4,1132.9 1057.7,1131.3 1059.9,1129.6 1062.2,1127.6 1064.5,1125.3 1066.7,1122.7 1069,1120 1071.3,1117 1073.5,1114 1075.8,1110.7 1078,1107.1 1080.3,1103.3 1082.6,1099.2 1084.8,1094.7 1087.1,1089.7 1089.3,1084.3 1091.6,1078.4 1093.9,1072.1 1096.1,1065.4 1098.4,1057.9 1100.6,1049.8 1102.9,1041.2 1105.2,1032.2 1107.4,1022.8 1109.7,1012.9 1111.9,1002.5 1114.2,991.4 1116.5,979.7 1118.7,967.3 1121,953.5 1123.2,938.9 1125.5,923.7 1127.8,908.5 1130,893.7 1132.3,878.8 1134.5,863.9 1136.8,849 1139.1,834.4 1141.3,820.1 1143.6,805.4 1145.8,790.7 1148.1,776.7 1150.4,764 1152.6,753.4 1154.9,744 1157.1,735.5 1159.4,727.9 1161.7,720.9 1163.9,714.8 1166.2,708.6 1168.4,702.6 1170.7,697.3 1173,693.4 1175.2,691.5 1177.5,690.7 1179.7,690.2 1182,690.6 1184.3,692.8 1186.5,695.3 1188.8,697.6 1191,699.9 1193.3,702.3 1195.6,705.1 1197.8,708.1 1200.1,711.8 1202.4,716.1 1204.6,721 1206.9,726.1 1209.1,731.4 1211.4,736.8 1213.7,742.8 1215.9,749 1218.2,755.2 1220.4,761.5 1222.7,767.6 1225,774 1227.2,780.3 1229.5,786.5 1231.7,792.3 1234,797.7 1236.3,802.8 1238.5,807.7 1240.8,812.5 1243,817.2 1245.3,821.9 1247.6,826.5 1249.8,831 1252.1,835.6 1254.3,840.1 1256.6,844.8 1258.9,849.6 1261.1,854.4 1263.4,859.2 1265.6,864 1267.9,868.5 1270.2,873.1 1272.4,877.5 1274.7,881.9 1276.9,886.2 1279.2,890.3 1281.5,894.3 1283.7,898.1 1286,901.9 1288.2,905.6 1290.5,909.3 1292.8,912.9 1295,916.3 1297.3,919.8 1299.5,923.2 1301.8,926.6 1304.1,930 1306.3,933.4 1308.6,936.8 1310.8,940.2 1313.1,943.5 1315.4,947 1317.6,950.4 1319.9,953.8 1322.1,957.2 1324.4,960.4 1326.7,963.7 1328.9,966.9 1331.2,970 1333.5,973 1335.7,976 1338,978.8 1340.2,981.5 1342.5,984.2 1344.8,986.7 1347,989.2 1349.3,991.5 1351.5,993.7 1353.8,995.8 1356.1,998 1358.3,1000.2 1360.6,1002.4 1362.8,1004.8 1365.1,1007.1 1367.4,1009.4 1369.6,1011.6 1371.9,1013.7 1374.1,1015.7 1376.4,1017.6 1378.7,1019.4 1380.9,1021.3 1383.2,1023 1385.4,1024.6 1387.7,1026.2 1390,1027.8 1392.2,1029.5 1394.5,1031.3 1396.7,1033.2 1399,1035.2 1401.3,1037.2 1403.5,1039.1 1405.8,1040.9 1408,1042.7 1410.3,1044.4 1412.6,1046.1 1414.8,1047.8 1417.1,1049.5 1419.3,1051.2 1421.6,1052.8 1423.9,1054.5 1426.1,1056.1 1428.4,1057.7 1430.6,1059.4 1432.9,1061.1 1435.2,1062.8 1437.4,1064.5 1439.7,1066.1 1441.9,1067.7 1444.2,1069.2 1446.5,1070.6 1448.7,1071.9 1451,1073 1453.3,1074.1 1455.5,1075.1 1457.8,1076 1460,1076.8 1462.3,1077.7 1464.6,1078.5 1466.8,1079.4 1469.1,1080.2 1471.3,1081.1 1473.6,1082.1 1475.9,1083.2 1478.1,1084.4 1480.4,1085.5 1482.6,1086.8 1484.9,1088 1487.2,1089.1 1489.4,1090.3 1491.7,1091.3 1493.9,1092.3 1496.2,1093.1 1498.5,1093.8 1500.7,1094.5 1503,1095.1 1505.2,1095.7 1507.5,1096.2 1509.8,1096.8 1512,1097.3 1514.3,1097.8 1516.5,1098.4 1518.8,1099 1521.1,1099.6 1523.3,1100.2 1525.6,1100.9 1527.8,1101.5 1530.1,1102.2 1532.4,1103 1534.6,1103.8 1536.9,1104.6 1539.1,1105.5 1541.4,1106.3 1543.7,1107.2 1545.9,1108 1548.2,1108.9 1550.4,1109.8 1552.7,1110.7 1555,1111.6 1557.2,1112.4 1559.5,1113.2 1561.7,1114 1564,1114.6 1566.3,1115.2 1568.5,1115.7 1570.8,1116.2 1573,1116.7 1575.3,1117.2 1577.6,1117.6 1579.8,1118 1582.1,1118.4 1584.4,1118.8 1586.6,1119.2 1588.9,1119.7 1591.1,1120.1 1593.4,1120.5 1595.7,1120.9 1597.9,1121.3 1600.2,1121.8 1602.4,1122.2 1604.7,1122.6 1607,1123 1609.2,1123.4 1611.5,1123.8 1613.7,1124.2 1616,1124.6 1618.3,1125 1620.5,1125.4 1622.8,1125.8 1625,1126.1 1627.3,1126.5 1629.6,1126.9 1631.8,1127.2 1634.1,1127.6 1636.3,1127.9 1638.6,1128.3 1640.9,1128.6 1643.1,1128.9 1645.4,1129.2 1647.6,1129.5 1649.9,1129.8 1652.2,1130.1 1654.4,1130.4 1656.7,1130.7 1658.9,1131 1661.2,1131.3 1663.5,1131.6 1665.7,1131.8 1668,1132.1 1670.2,1132.4 1672.5,1132.6 1674.8,1132.9 1677,1133.1 1679.3,1133.4 1681.5,1133.6 1683.8,1133.9 1686.1,1134.1 1688.3,1134.3 1690.6,1134.5 1692.8,1134.8 1695.1,1135 1697.4,1135.2" fill="none" stroke="#000" stroke-width="4.17" stroke-linejoin="round" stroke-dasharray="4.17 6.88"/>
</g>
<rect x="1392.5" y="689.2" width="291.2" height="228.1" fill="#fff" stroke="#000" stroke-width="1.1"/>
<polyline points="1405.2,893.4 1413.6,901.2 1422.2,887.9 1430.5,893 1438.5,875.6 1446.4,851 1454.1,823.9 1461.9,744.4 1470,699.7 1478,736.3 1485.9,708.9 1493.9,735.2 1502,760.6 1510,735.8 1518.1,756.8 1525.9,790.4 1534,822.1 1542,778.9 1550,817.1 1558.1,846.4 1566,845.5 1574,830.5 1582,877.8 1589.9,847.9 1598,867.4 1606,865.6 1613.9,861.4 1621.9,871.4 1630,872.9 1637.8,870.2 1645.9,878 1653.9,892.8 1662,892.1 1670.2,907.3" fill="none" stroke="#1f77b4" stroke-width="1.5" stroke-linejoin="round"/>
<rect x="1014.8" y="664.1" width="687.4" height="524.2" fill="none" stroke="#000" stroke-width="2.6"/>
<line x1="1129.2" y1="1188.3" x2="1129.2" y2="1178.6" stroke="#000" stroke-width="2.4"/>
<text x="1129.2" y="1228.7" text-anchor="middle" font-family="'DejaVu Sans','Liberation Sans',sans-serif" font-size="39.8" stroke="#000" stroke-width="0.3">0</text>
<line x1="1358.3" y1="1188.3" x2="1358.3" y2="1178.6" stroke="#000" stroke-width="2.4"/>
<text x="1358.3" y="1228.7" text-anchor="middle" font-family="'DejaVu Sans','Liberation Sans',sans-serif" font-size="39.8" stroke="#000" stroke-width="0.3">2</text>
<line x1="1587.4" y1="1188.3" x2="1587.4" y2="1178.6" stroke="#000" stroke-width="2.4"/>
<text x="1587.4" y="1228.7" text-anchor="middle" font-family="'DejaVu Sans','Liberation Sans',sans-serif" font-size="39.8" stroke="#000" stroke-width="0.3">4</text>
<line x1="1014.8" y1="1151.4" x2="1024.5" y2="1151.4" stroke="#000" stroke-width="2.4"/>
<text x="1005.3" y="1167.2" text-anchor="end" font-family="'DejaVu Sans','Liberation Sans',sans-serif" font-size="39.8" stroke="#000" stroke-width="0.3">0.0</text>
<line x1="1014.8" y1="1058.6" x2="1024.5" y2="1058.6" stroke="#000" stroke-width="2.4"/>
<text x="1005.3" y="1074.4" text-anchor="end" font-family="'DejaVu Sans','Liberation Sans',sans-serif" font-size="39.8" stroke="#000" stroke-width="0.3">0.2</text>
<line x1="1014.8" y1="965.8" x2="1024.5" y2="965.8" stroke="#000" stroke-width="2.4"/>
<text x="1005.3" y="981.6" text-anchor="end" font-family="'DejaVu Sans','Liberation Sans',sans-serif" font-size="39.8" stroke="#000" stroke-width="0.3">0.4</text>
<line x1="1014.8" y1="873" x2="1024.5" y2="873" stroke="#000" stroke-width="2.4"/>
<text x="1005.3" y="888.8" text-anchor="end" font-family="'DejaVu Sans','Liberation Sans',sans-serif" font-size="39.8" stroke="#000" stroke-width="0.3">0.6</text>
<line x1="1014.8" y1="780.2" x2="1024.5" y2="780.2" stroke="#000" stroke-width="2.4"/>
<text x="1005.3" y="796" text-anchor="end" font-family="'DejaVu Sans','Liberation Sans',sans-serif" font-size="39.8" stroke="#000" stroke-width="0.3">0.8</text>
<line x1="1014.8" y1="687.4" x2="1024.5" y2="687.4" stroke="#000" stroke-width="2.4"/>
<text x="1005.3" y="703.2" text-anchor="end" font-family="'DejaVu Sans','Liberation Sans',sans-serif" font-size="39.8" stroke="#000" stroke-width="0.3">1.0</text>
<text x="1358.5" y="1278" text-anchor="middle" font-family="'DejaVu Sans','Liberation Sans',sans-serif" font-size="39.8" stroke="#000" stroke-width="0.3">time [ns]</text>
<text transform="translate(921.4,926.2) rotate(-90)" text-anchor="middle" font-family="'DejaVu Sans','Liberation Sans',sans-serif" font-size="39.8" stroke="#000" stroke-width="0.3">coincidences</text>
<text x="1049" y="716.5" fill="#000" stroke="#000" stroke-width="0.5" font-family="'DejaVu Sans','Liberation Sans',sans-serif" font-weight="700" font-size="39.8">(c)</text>
</g>
<g id="pd">
<clipPath id="cd"><rect x="160.8" y="1330.3" width="688.1" height="523.9"/></clipPath>
<g clip-path="url(#cd)">
<polyline points="160.9,1752.3 163.7,1780.5 166.6,1770.8 169.4,1763.1 172.3,1795.3 175.1,1769.3 178,1768.5 180.8,1801.4 183.7,1747 186.5,1753.9 189.3,1786.6 192.2,1766.6 195,1751.7 197.9,1766 200.7,1764.4 203.6,1788.2 206.4,1691.5 209.2,1791.7 212.1,1748.1 214.9,1784.9 217.8,1791.7 220.6,1745 223.5,1718.7 226.3,1698.9 229.2,1711.9 232,1772.9 234.8,1746.9 237.7,1788.1 240.5,1743.8 243.4,1694 246.2,1743.5 249.1,1767.7 251.9,1678.7 254.8,1701.1 257.6,1762.3 260.4,1712.8 263.3,1731.7 266.1,1707.6 269,1644.1 271.8,1693.4 274.7,1652 277.5,1734.5 280.3,1606.6 283.2,1664.2 286,1664.9 288.9,1672 291.7,1640.8 294.6,1575.7 297.4,1557.1 300.3,1565.1 303.1,1465.5 305.9,1480 308.8,1451.9 311.6,1438.4 314.5,1444.8 317.3,1432 320.2,1396.1 323,1353.5 325.9,1392 328.7,1389.6 331.5,1428 334.4,1451.2 337.2,1399.2 340.1,1436.1 342.9,1428 345.8,1372 348.6,1428 351.4,1464 354.3,1482.1 357.1,1441.6 360,1486.3 362.8,1541.7 365.7,1486.3 368.5,1511.4 371.4,1520 374.2,1514.9 377,1504.3 379.9,1550.7 382.7,1537.2 385.6,1597 388.4,1558.7 391.3,1519.3 394.1,1544.3 397,1522.9 399.8,1572.9 402.6,1595 405.5,1591.5 408.3,1545.5 411.2,1542.8 414,1575.1 416.9,1585 419.7,1587.6 422.5,1614.5 425.4,1621.5 428.2,1644.5 431.1,1630.6 433.9,1566.1 436.8,1612.4 439.6,1652.7 442.5,1660.8 445.3,1676.2 448.1,1644.3 451,1647.7 453.8,1703.5 456.7,1653.1 459.5,1686.6 462.4,1635.3 465.2,1674.1 468.1,1635.5 470.9,1697.9 473.7,1696.6 476.6,1684.1 479.4,1667.2 482.3,1683.2 485.1,1732.9 488,1699.2 490.8,1706.2 493.6,1720.2 496.5,1728.1 499.3,1670.6 502.2,1726.1 505,1739.6 507.9,1705.5 510.7,1720.1 513.6,1727.3 516.4,1709 519.2,1718.1 522.1,1723.2 524.9,1711.3 527.8,1729.1 530.6,1751.7 533.5,1747.5 536.3,1752.8 539.2,1737.9 542,1768.2 544.8,1786.2 547.7,1745.1 550.5,1777.6 553.4,1792.1 556.2,1742.9 559.1,1767.5 561.9,1742.9 564.7,1765.8 567.6,1779.2 570.4,1782.6 573.3,1693.4 576.1,1764 579,1776 581.8,1765.6 584.7,1791.9 587.5,1761.1 590.3,1798.3 593.2,1817 596,1749.8 598.9,1742.8 601.7,1731.6 604.6,1796.5 607.4,1752.3 610.3,1744.5 613.1,1749.6 615.9,1786.7 618.8,1761.8 621.6,1703 624.5,1798.6 627.3,1762.3 630.2,1751 633,1784.9 635.8,1761.8 638.7,1792.4 641.5,1717.4 644.4,1788.4 647.2,1770.6 650.1,1776 652.9,1757.8 655.8,1791.6 658.6,1777.6 661.4,1758.8 664.3,1813.2 667.1,1799.1 670,1764.9 672.8,1784.8 675.7,1828.9 678.5,1772 681.4,1756.7 684.2,1775.6 687,1808.8 689.9,1800.8 692.7,1766.1 695.6,1782.6 698.4,1759.9 701.3,1774.2 704.1,1791 706.9,1761.4 709.8,1792 712.6,1812.1 715.5,1746 718.3,1809.8 721.2,1769 724,1739.6 726.9,1776.9 729.7,1806.1 732.5,1763.2 735.4,1802.3 738.2,1832.3 741.1,1785.2 743.9,1767 746.8,1774.8 749.6,1766.8 752.5,1786.5 755.3,1782.3 758.1,1797.4 761,1784.6 763.8,1770.4 766.7,1826 769.5,1772.3 772.4,1788.6 775.2,1788.9 778,1779.2 780.9,1782.8 783.7,1770.7 786.6,1826 789.4,1753 792.3,1783.2 795.1,1783.4 798,1795.8 800.8,1779.5 803.6,1769.5 806.5,1791.2 809.3,1780.7 812.2,1769 815,1781.9 817.9,1745.5 820.7,1765.2 823.6,1778.5 826.4,1774 829.2,1762.3 832.1,1762.8 834.9,1785.2 837.8,1787.9 840.6,1775.7 843.5,1808.1 846.3,1808.3" fill="none" stroke="#1f77b4" stroke-width="4.3" stroke-linejoin="round"/>
<polyline points="166.6,1771.4 168.3,1771 170,1770.6 171.7,1770.2 173.4,1769.8 175.1,1769.3 176.8,1768.8 178.5,1768.3 180.3,1767.8 182,1767.3 183.7,1766.7 185.4,1766.1 187.1,1765.4 188.8,1764.7 190.5,1763.9 192.2,1763.2 193.9,1762.4 195.6,1761.6 197.3,1760.9 199,1760.1 200.8,1759.4 202.5,1758.6 204.2,1757.8 205.9,1757 207.6,1756.2 209.3,1755.4 211,1754.5 212.7,1753.5 214.4,1752.6 216.1,1751.5 217.8,1750.3 219.5,1749.1 221.3,1747.9 223,1746.7 224.7,1745.4 226.4,1744.1 228.1,1742.9 229.8,1741.6 231.5,1740.3 233.2,1738.9 234.9,1737.5 236.6,1736 238.3,1734.3 240,1732.6 241.8,1730.8 243.5,1728.9 245.2,1726.9 246.9,1724.9 248.6,1722.7 250.3,1720.5 252,1718.3 253.7,1715.9 255.4,1713.5 257.1,1710.9 258.8,1708.1 260.5,1705.2 262.3,1702.2 264,1699.3 265.7,1696.6 267.4,1693.8 269.1,1690.8 270.8,1687.2 272.5,1682.4 274.2,1676.7 275.9,1670.9 277.6,1664.8 279.3,1658.3 281,1651.2 282.8,1643.8 284.5,1637.1 286.2,1630.2 287.9,1622 289.6,1613.1 291.3,1603.5 293,1593.8 294.7,1584 296.4,1573.8 298.1,1562.7 299.8,1552.3 301.5,1543.9 303.3,1535.1 305,1525.9 306.7,1515.6 308.4,1505.1 310.1,1495.1 311.8,1486.3 313.5,1477.4 315.2,1468.1 316.9,1460.7 318.6,1454.4 320.3,1447.9 322,1440.8 323.8,1436.5 325.5,1434.6 327.2,1433 328.9,1431.7 330.6,1430.8 332.3,1430.3 334,1430.2 335.7,1430.3 337.4,1430.5 339.1,1430.8 340.8,1431.2 342.5,1431.7 344.3,1432.6 346,1435.2 347.7,1439.2 349.4,1443.5 351.1,1447.5 352.8,1451.8 354.5,1456.2 356.2,1460.5 357.9,1464.7 359.6,1469 361.3,1473.4 363,1478 364.8,1482.8 366.5,1487.4 368.2,1491.7 369.9,1495.9 371.6,1500.1 373.3,1504.8 375,1509.8 376.7,1514.6 378.4,1518.9 380.1,1522.9 381.8,1526.9 383.5,1531 385.3,1535.4 387,1539.7 388.7,1543.8 390.4,1547.7 392.1,1551.4 393.8,1555.1 395.5,1559 397.2,1563.2 398.9,1567.3 400.6,1571.3 402.3,1575.1 404,1578.8 405.8,1582.4 407.5,1585.6 409.2,1588.5 410.9,1591.1 412.6,1593.8 414.3,1596.8 416,1600.4 417.7,1604.2 419.4,1608 421.1,1611.5 422.8,1614.7 424.5,1617.7 426.2,1620.7 428,1623.6 429.7,1626.5 431.4,1629.4 433.1,1632.2 434.8,1635 436.5,1637.8 438.2,1640.5 439.9,1643.1 441.6,1645.8 443.3,1648.3 445,1650.8 446.7,1653.2 448.5,1655.5 450.2,1657.7 451.9,1660 453.6,1662.4 455.3,1664.7 457,1667.2 458.7,1669.6 460.4,1672 462.1,1674.4 463.8,1676.6 465.5,1678.9 467.2,1681.1 469,1683.2 470.7,1685.3 472.4,1687.3 474.1,1689.3 475.8,1691.1 477.5,1693 479.2,1694.8 480.9,1696.6 482.6,1698.3 484.3,1700.1 486,1701.9 487.7,1703.7 489.5,1705.4 491.2,1707.1 492.9,1708.7 494.6,1710.2 496.3,1711.6 498,1713.1 499.7,1714.5 501.4,1715.9 503.1,1717.2 504.8,1718.6 506.5,1720 508.2,1721.3 510,1722.7 511.7,1724 513.4,1725.3 515.1,1726.6 516.8,1727.9 518.5,1729.1 520.2,1730.4 521.9,1731.6 523.6,1732.8 525.3,1734 527,1735.2 528.7,1736.3 530.5,1737.4 532.2,1738.5 533.9,1739.5 535.6,1740.6 537.3,1741.6 539,1742.5 540.7,1743.5 542.4,1744.4 544.1,1745.3 545.8,1746.1 547.5,1747 549.2,1747.8 551,1748.6 552.7,1749.4 554.4,1750.2 556.1,1750.9 557.8,1751.7 559.5,1752.4 561.2,1753.2 562.9,1753.9 564.6,1754.6 566.3,1755.2 568,1755.8 569.7,1756.4 571.5,1756.9 573.2,1757.5 574.9,1758 576.6,1758.5 578.3,1758.9 580,1759.4 581.7,1759.9 583.4,1760.3 585.1,1760.8 586.8,1761.3 588.5,1761.7 590.2,1762.2 592,1762.6 593.7,1763 595.4,1763.5 597.1,1763.9 598.8,1764.4 600.5,1764.9 602.2,1765.4 603.9,1765.9 605.6,1766.4 607.3,1766.9 609,1767.4 610.7,1767.8 612.5,1768.2 614.2,1768.6 615.9,1769 617.6,1769.4 619.3,1769.7 621,1770 622.7,1770.3 624.4,1770.7 626.1,1770.9 627.8,1771.2 629.5,1771.5 631.2,1771.8 633,1772 634.7,1772.3 636.4,1772.6 638.1,1772.8 639.8,1773.1 641.5,1773.3 643.2,1773.5 644.9,1773.8 646.6,1774 648.3,1774.2 650,1774.4 651.7,1774.6 653.5,1774.8 655.2,1775 656.9,1775.2 658.6,1775.3 660.3,1775.5 662,1775.6 663.7,1775.8 665.4,1775.9 667.1,1776.1 668.8,1776.3 670.5,1776.4 672.2,1776.6 674,1776.7 675.7,1776.9 677.4,1777 679.1,1777.2 680.8,1777.3 682.5,1777.4 684.2,1777.6 685.9,1777.7 687.6,1777.8 689.3,1777.9 691,1778.1 692.7,1778.2 694.5,1778.3 696.2,1778.4 697.9,1778.5 699.6,1778.6 701.3,1778.7 703,1778.8 704.7,1778.8 706.4,1778.9 708.1,1779 709.8,1779 711.5,1779.1 713.2,1779.1 715,1779.1 716.7,1779.2 718.4,1779.2 720.1,1779.2 721.8,1779.2 723.5,1779.2 725.2,1779.3 726.9,1779.3 728.6,1779.3 730.3,1779.3 732,1779.3 733.7,1779.4 735.5,1779.4 737.2,1779.4 738.9,1779.4 740.6,1779.4 742.3,1779.5 744,1779.5 745.7,1779.5 747.4,1779.5 749.1,1779.5 750.8,1779.5 752.5,1779.6 754.2,1779.6 756,1779.6 757.7,1779.6 759.4,1779.6 761.1,1779.6 762.8,1779.7 764.5,1779.7 766.2,1779.7 767.9,1779.7 769.6,1779.7 771.3,1779.7 773,1779.7 774.7,1779.7 776.5,1779.8 778.2,1779.8 779.9,1779.8 781.6,1779.8 783.3,1779.8 785,1779.8 786.7,1779.8 788.4,1779.8 790.1,1779.8 791.8,1779.8 793.5,1779.9 795.2,1779.9 797,1779.9 798.7,1779.9 800.4,1779.9 802.1,1779.9 803.8,1779.9 805.5,1779.9 807.2,1779.9 808.9,1779.9 810.6,1779.9 812.3,1779.9 814,1779.9 815.7,1780 817.5,1780 819.2,1780 820.9,1780 822.6,1780 824.3,1780 826,1780 827.7,1780 829.4,1780 831.1,1780 832.8,1780 834.5,1780 836.2,1780 838,1780 839.7,1780 841.4,1780 843.1,1780 844.8,1780 846.5,1780 848.2,1780" fill="none" stroke="#ff7f0e" stroke-width="5.56" stroke-linejoin="round" stroke-dasharray="5.56 9.17"/>
<polyline points="160.9,1786.4 163.7,1768.8 166.6,1769.9 169.4,1790 172.3,1763.3 175.1,1765.3 178,1766.3 180.8,1737.9 183.7,1754.2 186.5,1768.2 189.3,1765.3 192.2,1737.4 195,1746.4 197.9,1746.4 200.7,1765 203.6,1761.6 206.4,1739.9 209.2,1729 212.1,1744.9 214.9,1750.5 217.8,1728.5 220.6,1742.5 223.5,1728.5 226.3,1716.7 229.2,1725.1 232,1729.2 234.8,1718.7 237.7,1732.5 240.5,1723.8 243.4,1725.4 246.2,1717.2 249.1,1717 251.9,1708.9 254.8,1706.8 257.6,1695.6 260.4,1690.5 263.3,1681.1 266.1,1658.2 269,1692.1 271.8,1642 274.7,1654.7 277.5,1658.9 280.3,1629.6 283.2,1608.4 286,1574.7 288.9,1592.4 291.7,1530 294.6,1536 297.4,1490 300.3,1489.3 303.1,1432.8 305.9,1432.1 308.8,1399.9 311.6,1397.1 314.5,1357.1 317.3,1355.3 320.2,1352.9 323,1394.4 325.9,1415.7 328.7,1440.8 331.5,1415.7 334.4,1386.5 337.2,1460.8 340.1,1457.1 342.9,1498.6 345.8,1538.7 348.6,1522.9 351.4,1548.6 354.3,1552.9 357.1,1525.9 360,1572.9 362.8,1547.3 365.7,1557 368.5,1572.2 371.4,1566.3 374.2,1582 377,1598.4 379.9,1627.7 382.7,1635.9 385.6,1661.6 388.4,1628.3 391.3,1673.4 394.1,1638.5 397,1629.6 399.8,1677.2 402.6,1675.7 405.5,1676.2 408.3,1660.7 411.2,1687.9 414,1680.6 416.9,1689 419.7,1688.3 422.5,1670.2 425.4,1704.2 428.2,1693.3 431.1,1693.8 433.9,1689.1 436.8,1720 439.6,1691.7 442.5,1703.5 445.3,1700.6 448.1,1713.5 451,1707.6 453.8,1728.6 456.7,1702.5 459.5,1705.1 462.4,1698.7 465.2,1728.9 468.1,1708.3 470.9,1736.8 473.7,1716.3 476.6,1763 479.4,1765.2 482.3,1734.2 485.1,1748.4 488,1740.7 490.8,1742.9 493.6,1750.9 496.5,1744 499.3,1751 502.2,1769.9 505,1752.8 507.9,1754.2 510.7,1738.3 513.6,1769.6 516.4,1758.8 519.2,1764.1 522.1,1762 524.9,1745 527.8,1758.4 530.6,1767.4 533.5,1762 536.3,1756.7 539.2,1774.3 542,1767.8 544.8,1751.2 547.7,1758.3 550.5,1767.4 553.4,1772 556.2,1769.5 559.1,1782.9 561.9,1760.3 564.7,1766.3 567.6,1768.5 570.4,1781.9 573.3,1776.9 576.1,1766.2 579,1768.8 581.8,1775.9 584.7,1767.3 587.5,1763.8 590.3,1778.3 593.2,1777.3 596,1780.5 598.9,1783.2 601.7,1766.5 604.6,1769.3 607.4,1771 610.3,1784.2 613.1,1783.3 615.9,1775.2 618.8,1778.3 621.6,1774 624.5,1781.1 627.3,1769.9 630.2,1760.6 633,1762.9 635.8,1762.6 638.7,1775.5 641.5,1768.7 644.4,1779.5 647.2,1769 650.1,1779.7 652.9,1780.7 655.8,1782.1 658.6,1771.3 661.4,1774.8 664.3,1775.7 667.1,1786.4 670,1776.2 672.8,1788.9 675.7,1765.8 678.5,1778.6 681.4,1776.1 684.2,1778.6 687,1790.3 689.9,1788.7 692.7,1778.3 695.6,1766.5 698.4,1786.9 701.3,1783.8 704.1,1778.8 706.9,1791.5 709.8,1791.6 712.6,1781.8 715.5,1779 718.3,1781.7 721.2,1767.2 724,1780.1 726.9,1776.2 729.7,1766.9 732.5,1766.2 735.4,1791 738.2,1781.9 741.1,1770.4 743.9,1789.5 746.8,1786.1 749.6,1788.9 752.5,1789.4 755.3,1787.7 758.1,1778 761,1770 763.8,1768.1 766.7,1779.3 769.5,1793.9 772.4,1779.9 775.2,1782 778,1777 780.9,1780.5 783.7,1792.7 786.6,1776.6 789.4,1794.6 792.3,1784.7 795.1,1777.4 798,1777.2 800.8,1768.4 803.6,1796.7 806.5,1777.3 809.3,1774.8 812.2,1782.1 815,1775.3 817.9,1787.7 820.7,1775.2 823.6,1776 826.4,1786.8 829.2,1784.6 832.1,1781.2 834.9,1784.5 837.8,1772.5 840.6,1778.7 843.5,1770.7 846.3,1771.7" fill="none" stroke="#2ca02c" stroke-width="4.3" stroke-linejoin="round"/>
<polyline points="166.6,1765.3 168.3,1764.7 170,1764.1 171.7,1763.5 173.4,1762.8 175.1,1762.1 176.8,1761.4 178.5,1760.7 180.3,1759.9 182,1759.2 183.7,1758.5 185.4,1757.8 187.1,1757.1 188.8,1756.3 190.5,1755.6 192.2,1754.9 193.9,1754.2 195.6,1753.4 197.3,1752.6 199,1751.8 200.8,1751 202.5,1750.1 204.2,1749.2 205.9,1748.3 207.6,1747.3 209.3,1746.3 211,1745.3 212.7,1744.2 214.4,1743.1 216.1,1742 217.8,1740.9 219.5,1739.7 221.3,1738.5 223,1737.3 224.7,1736 226.4,1734.7 228.1,1733.3 229.8,1731.9 231.5,1730.5 233.2,1729 234.9,1727.4 236.6,1725.8 238.3,1724 240,1722.2 241.8,1720.2 243.5,1718.2 245.2,1716 246.9,1713.8 248.6,1711.5 250.3,1709 252,1706.3 253.7,1703.6 255.4,1700.7 257.1,1697.6 258.8,1694.5 260.5,1691.1 262.3,1687.5 264,1683.6 265.7,1679.2 267.4,1674.5 269.1,1669.5 270.8,1664.3 272.5,1658.8 274.2,1652.8 275.9,1646.3 277.6,1639.4 279.3,1631.8 281,1623.1 282.8,1612.7 284.5,1601.9 286.2,1591.7 287.9,1581.2 289.6,1569 291.3,1557.2 293,1547.4 294.7,1537.2 296.4,1525.7 298.1,1513.9 299.8,1502.4 301.5,1490.7 303.3,1478.7 305,1466.7 306.7,1454.6 308.4,1442.9 310.1,1431.9 311.8,1423 313.5,1415.6 315.2,1410.1 316.9,1405.7 318.6,1402.9 320.3,1401.1 322,1399.7 323.8,1399.3 325.5,1399.8 327.2,1400.9 328.9,1402.4 330.6,1405.4 332.3,1409.8 334,1415.2 335.7,1422.2 337.4,1429.7 339.1,1437.8 340.8,1446.3 342.5,1455.2 344.3,1464 346,1472.2 347.7,1480.3 349.4,1489 351.1,1498 352.8,1507.1 354.5,1516.1 356.2,1524.6 357.9,1532.7 359.6,1540.8 361.3,1548.8 363,1556.4 364.8,1563.7 366.5,1570.7 368.2,1577.4 369.9,1583.8 371.6,1590 373.3,1596 375,1601.9 376.7,1607.6 378.4,1613 380.1,1618.2 381.8,1623 383.5,1627.7 385.3,1632.2 387,1636.7 388.7,1641.2 390.4,1645.6 392.1,1649.8 393.8,1653.8 395.5,1657.5 397.2,1661 398.9,1664.4 400.6,1667.6 402.3,1670.7 404,1673.6 405.8,1676.4 407.5,1679.1 409.2,1681.7 410.9,1684.2 412.6,1686.7 414.3,1689 416,1691.2 417.7,1693.4 419.4,1695.6 421.1,1697.7 422.8,1699.8 424.5,1701.9 426.2,1703.9 428,1705.9 429.7,1707.8 431.4,1709.7 433.1,1711.4 434.8,1713.1 436.5,1714.7 438.2,1716.3 439.9,1717.9 441.6,1719.5 443.3,1720.9 445,1722.3 446.7,1723.7 448.5,1725.2 450.2,1726.7 451.9,1728.4 453.6,1730.2 455.3,1732 457,1733.6 458.7,1735.1 460.4,1736.5 462.1,1738 463.8,1739.3 465.5,1740.7 467.2,1741.9 469,1743.2 470.7,1744.3 472.4,1745.5 474.1,1746.5 475.8,1747.5 477.5,1748.5 479.2,1749.4 480.9,1750.3 482.6,1751.1 484.3,1752 486,1752.8 487.7,1753.5 489.5,1754.3 491.2,1755 492.9,1755.8 494.6,1756.5 496.3,1757.2 498,1757.9 499.7,1758.5 501.4,1759.2 503.1,1759.8 504.8,1760.4 506.5,1760.9 508.2,1761.5 510,1762 511.7,1762.5 513.4,1762.9 515.1,1763.4 516.8,1763.8 518.5,1764.2 520.2,1764.6 521.9,1765 523.6,1765.4 525.3,1765.8 527,1766.1 528.7,1766.4 530.5,1766.8 532.2,1767.1 533.9,1767.4 535.6,1767.7 537.3,1768 539,1768.3 540.7,1768.5 542.4,1768.8 544.1,1769.1 545.8,1769.4 547.5,1769.7 549.2,1769.9 551,1770.2 552.7,1770.5 554.4,1770.7 556.1,1771 557.8,1771.2 559.5,1771.4 561.2,1771.6 562.9,1771.8 564.6,1772 566.3,1772.2 568,1772.4 569.7,1772.5 571.5,1772.7 573.2,1772.8 574.9,1773 576.6,1773.1 578.3,1773.3 580,1773.4 581.7,1773.6 583.4,1773.7 585.1,1773.9 586.8,1774 588.5,1774.1 590.2,1774.3 592,1774.4 593.7,1774.5 595.4,1774.7 597.1,1774.8 598.8,1774.9 600.5,1775 602.2,1775.2 603.9,1775.3 605.6,1775.4 607.3,1775.5 609,1775.6 610.7,1775.7 612.5,1775.8 614.2,1775.9 615.9,1776 617.6,1776.1 619.3,1776.2 621,1776.3 622.7,1776.4 624.4,1776.5 626.1,1776.6 627.8,1776.7 629.5,1776.8 631.2,1776.8 633,1776.9 634.7,1777 636.4,1777.1 638.1,1777.2 639.8,1777.2 641.5,1777.3 643.2,1777.4 644.9,1777.4 646.6,1777.5 648.3,1777.5 650,1777.6 651.7,1777.6 653.5,1777.7 655.2,1777.7 656.9,1777.8 658.6,1777.8 660.3,1777.9 662,1777.9 663.7,1777.9 665.4,1778 667.1,1778 668.8,1778.1 670.5,1778.1 672.2,1778.1 674,1778.2 675.7,1778.2 677.4,1778.2 679.1,1778.3 680.8,1778.3 682.5,1778.4 684.2,1778.4 685.9,1778.4 687.6,1778.5 689.3,1778.5 691,1778.6 692.7,1778.6 694.5,1778.6 696.2,1778.7 697.9,1778.7 699.6,1778.8 701.3,1778.8 703,1778.9 704.7,1778.9 706.4,1778.9 708.1,1779 709.8,1779 711.5,1779 713.2,1779.1 715,1779.1 716.7,1779.1 718.4,1779.2 720.1,1779.2 721.8,1779.2 723.5,1779.3 725.2,1779.3 726.9,1779.3 728.6,1779.3 730.3,1779.4 732,1779.4 733.7,1779.4 735.5,1779.4 737.2,1779.4 738.9,1779.4 740.6,1779.4 742.3,1779.5 744,1779.5 745.7,1779.5 747.4,1779.5 749.1,1779.5 750.8,1779.5 752.5,1779.5 754.2,1779.6 756,1779.6 757.7,1779.6 759.4,1779.6 761.1,1779.6 762.8,1779.6 764.5,1779.6 766.2,1779.7 767.9,1779.7 769.6,1779.7 771.3,1779.7 773,1779.7 774.7,1779.7 776.5,1779.7 778.2,1779.7 779.9,1779.8 781.6,1779.8 783.3,1779.8 785,1779.8 786.7,1779.8 788.4,1779.8 790.1,1779.8 791.8,1779.8 793.5,1779.8 795.2,1779.8 797,1779.9 798.7,1779.9 800.4,1779.9 802.1,1779.9 803.8,1779.9 805.5,1779.9 807.2,1779.9 808.9,1779.9 810.6,1779.9 812.3,1779.9 814,1779.9 815.7,1779.9 817.5,1779.9 819.2,1780 820.9,1780 822.6,1780 824.3,1780 826,1780 827.7,1780 829.4,1780 831.1,1780 832.8,1780 834.5,1780 836.2,1780 838,1780 839.7,1780 841.4,1780 843.1,1780 844.8,1780 846.5,1780 848.2,1780" fill="none" stroke="#d62728" stroke-width="4.5" stroke-linejoin="round" stroke-dasharray="15.6 6.7"/>
</g>
<rect x="160.8" y="1330.3" width="688.1" height="523.9" fill="none" stroke="#000" stroke-width="2.6"/>
<line x1="279.4" y1="1854.2" x2="279.4" y2="1844.5" stroke="#000" stroke-width="2.4"/>
<text x="279.4" y="1894.6" text-anchor="middle" font-family="'DejaVu Sans','Liberation Sans',sans-serif" font-size="39.8" stroke="#000" stroke-width="0.3">0</text>
<line x1="516.4" y1="1854.2" x2="516.4" y2="1844.5" stroke="#000" stroke-width="2.4"/>
<text x="516.4" y="1894.6" text-anchor="middle" font-family="'DejaVu Sans','Liberation Sans',sans-serif" font-size="39.8" stroke="#000" stroke-width="0.3">1</text>
<line x1="753.4" y1="1854.2" x2="753.4" y2="1844.5" stroke="#000" stroke-width="2.4"/>
<text x="753.4" y="1894.6" text-anchor="middle" font-family="'DejaVu Sans','Liberation Sans',sans-serif" font-size="39.8" stroke="#000" stroke-width="0.3">2</text>
<line x1="160.8" y1="1780" x2="170.5" y2="1780" stroke="#000" stroke-width="2.4"/>
<text x="151.3" y="1795.8" text-anchor="end" font-family="'DejaVu Sans','Liberation Sans',sans-serif" font-size="39.8" stroke="#000" stroke-width="0.3">0.0</text>
<line x1="160.8" y1="1567.2" x2="170.5" y2="1567.2" stroke="#000" stroke-width="2.4"/>
<text x="151.3" y="1583" text-anchor="end" font-family="'DejaVu Sans','Liberation Sans',sans-serif" font-size="39.8" stroke="#000" stroke-width="0.3">0.5</text>
<line x1="160.8" y1="1354.4" x2="170.5" y2="1354.4" stroke="#000" stroke-width="2.4"/>
<text x="151.3" y="1370.2" text-anchor="end" font-family="'DejaVu Sans','Liberation Sans',sans-serif" font-size="39.8" stroke="#000" stroke-width="0.3">1.0</text>
<text x="504.9" y="1944" text-anchor="middle" font-family="'DejaVu Sans','Liberation Sans',sans-serif" font-size="39.8" stroke="#000" stroke-width="0.3">time [ns]</text>
<text transform="translate(68.3,1592.2) rotate(-90)" text-anchor="middle" font-family="'DejaVu Sans','Liberation Sans',sans-serif" font-size="39.8" stroke="#000" stroke-width="0.3">normalized coincidences</text>
<text x="195.4" y="1382.6" fill="#000" stroke="#000" stroke-width="0.5" font-family="'DejaVu Sans','Liberation Sans',sans-serif" font-weight="700" font-size="39.8">(d)</text>
<rect x="492.3" y="1350" width="336.2" height="245" rx="5" ry="5" fill="#fff" fill-opacity="0.8" stroke="#ccc" stroke-width="2.6"/>
<line x1="506.4" y1="1382.6" x2="590" y2="1382.6" stroke="#1f77b4" stroke-width="4.17"/>
<text x="619.6" y="1396.1" font-family="'DejaVu Sans','Liberation Sans',sans-serif" font-size="39.8" stroke="#000" stroke-width="0.3">Closed</text>
<line x1="508.5" y1="1440.8" x2="587.9" y2="1440.8" stroke="#ff7f0e" stroke-width="5.56" stroke-dasharray="5.56 9.17"/>
<text x="619.6" y="1454.3" font-family="'DejaVu Sans','Liberation Sans',sans-serif" font-size="39.8" stroke="#000" stroke-width="0.3">Closed Fit</text>
<line x1="506.4" y1="1499.2" x2="590" y2="1499.2" stroke="#2ca02c" stroke-width="4.17"/>
<text x="619.6" y="1512.7" font-family="'DejaVu Sans','Liberation Sans',sans-serif" font-size="39.8" stroke="#000" stroke-width="0.3">Open</text>
<line x1="508.5" y1="1557.6" x2="587.9" y2="1557.6" stroke="#d62728" stroke-width="4.5" stroke-dasharray="15.6 6.7"/>
<text x="619.6" y="1571.1" font-family="'DejaVu Sans','Liberation Sans',sans-serif" font-size="39.8" stroke="#000" stroke-width="0.3">Open Fit</text>
</g>
<g id="pe">
<clipPath id="ce"><rect x="1014.8" y="1330.2" width="687.4" height="524"/></clipPath>
<g clip-path="url(#ce)">
<polyline points="1014.9,1816 1017.2,1817.3 1019.5,1818.4 1021.8,1819.3 1024.1,1820 1026.4,1820.2 1028.7,1820.2 1031,1820.1 1033.3,1819.9 1035.6,1819.7 1037.9,1819.5 1040.2,1819.2 1042.5,1819 1044.8,1818.6 1047.1,1818.2 1049.4,1817.7 1051.7,1817.3 1054,1816.8 1056.3,1816.5 1058.6,1816.2 1060.9,1816.1 1063.2,1816.1 1065.5,1816.2 1067.8,1816.5 1070.1,1816.8 1072.4,1817.2 1074.7,1817.7 1077,1818.1 1079.3,1818.6 1081.6,1819 1083.9,1819.4 1086.2,1819.9 1088.5,1820.5 1090.8,1821.1 1093.1,1821.7 1095.4,1822.3 1097.7,1822.7 1100,1823.1 1102.3,1823.2 1104.6,1823.2 1106.9,1823.2 1109.2,1823.2 1111.5,1823.2 1113.8,1823.2 1116.1,1823.2 1118.4,1823 1120.7,1822.7 1123,1822.2 1125.3,1821.7 1127.6,1821.1 1129.9,1820.6 1132.2,1819.8 1134.5,1819 1136.8,1818.1 1139.1,1817.2 1141.4,1816.1 1143.7,1815.1 1146,1814 1148.2,1812.8 1150.5,1811.6 1152.8,1810.3 1155.1,1808.9 1157.4,1807.4 1159.7,1805.9 1162,1804.4 1164.3,1802.8 1166.6,1801.1 1168.9,1799.4 1171.2,1797.5 1173.5,1795.6 1175.8,1793.6 1178.1,1791.6 1180.4,1789.5 1182.7,1787.4 1185,1785.3 1187.3,1783.1 1189.6,1781 1191.9,1778.7 1194.2,1776.4 1196.5,1774 1198.8,1771.5 1201.1,1768.9 1203.4,1766.2 1205.7,1763.3 1208,1760.3 1210.3,1757.2 1212.6,1754 1214.9,1750.6 1217.2,1747 1219.5,1743.2 1221.8,1739.2 1224.1,1735.2 1226.4,1731.2 1228.7,1727.1 1231,1723.1 1233.3,1718.9 1235.6,1714.6 1237.9,1710.2 1240.2,1705.6 1242.5,1700.8 1244.8,1695.8 1247.1,1690.7 1249.4,1685.6 1251.7,1680.4 1254,1675.2 1256.3,1670 1258.6,1664.6 1260.9,1659.1 1263.2,1653.5 1265.5,1647.8 1267.8,1641.9 1270.1,1635.8 1272.4,1629.7 1274.7,1623.4 1277,1617 1279.3,1610.5 1281.6,1603.9 1283.9,1597.1 1286.2,1590.2 1288.5,1583 1290.8,1575.4 1293.1,1567.4 1295.4,1559.4 1297.7,1551.6 1300,1544.1 1302.3,1536.8 1304.6,1529.5 1306.8,1522.2 1309.1,1514.9 1311.4,1507.5 1313.7,1500.1 1316,1492.7 1318.3,1485.5 1320.6,1478.3 1322.9,1471 1325.2,1463.9 1327.5,1457.3 1329.8,1451.5 1332.1,1446.5 1334.4,1442 1336.7,1437.5 1339,1432.8 1341.3,1427.5 1343.6,1421.8 1345.9,1415.9 1348.2,1410.2 1350.5,1404.8 1352.8,1399.6 1355.1,1394.6 1357.4,1389.8 1359.7,1385.5 1362,1381.8 1364.3,1378.4 1366.6,1375.3 1368.9,1372.4 1371.2,1369.7 1373.5,1367.1 1375.8,1364.4 1378.1,1362 1380.4,1360.1 1382.7,1358.7 1385,1357.5 1387.3,1356.5 1389.6,1355.6 1391.9,1354.9 1394.2,1354.5 1396.5,1354.4 1398.8,1354.7 1401.1,1355.5 1403.4,1356.5 1405.7,1357.7 1408,1359 1410.3,1360.4 1412.6,1362 1414.9,1363.9 1417.2,1366.2 1419.5,1368.7 1421.8,1371.4 1424.1,1374.8 1426.4,1378.4 1428.7,1382 1431,1385.4 1433.3,1388.8 1435.6,1392.3 1437.9,1396 1440.2,1399.9 1442.5,1404.1 1444.8,1408.6 1447.1,1413.6 1449.4,1419.4 1451.7,1425.6 1454,1431.7 1456.3,1437.8 1458.6,1443.8 1460.9,1449.5 1463.2,1454.4 1465.4,1458.8 1467.7,1463.3 1470,1468.3 1472.3,1474 1474.6,1479.9 1476.9,1486 1479.2,1492.2 1481.5,1498.5 1483.8,1505 1486.1,1511.5 1488.4,1518 1490.7,1524.6 1493,1531.3 1495.3,1537.9 1497.6,1544.6 1499.9,1551.3 1502.2,1557.9 1504.5,1564.6 1506.8,1571.2 1509.1,1577.8 1511.4,1584.5 1513.7,1591.2 1516,1597.8 1518.3,1604 1520.6,1609.5 1522.9,1614.4 1525.2,1619.1 1527.5,1623.8 1529.8,1628.6 1532.1,1633.4 1534.4,1638.2 1536.7,1643.1 1539,1647.9 1541.3,1652.8 1543.6,1657.8 1545.9,1662.8 1548.2,1667.8 1550.5,1672.7 1552.8,1677.5 1555.1,1682.4 1557.4,1687.3 1559.7,1692.1 1562,1696.7 1564.3,1701 1566.6,1705 1568.9,1708.8 1571.2,1712.5 1573.5,1716.2 1575.8,1719.9 1578.1,1723.8 1580.4,1727.7 1582.7,1731.5 1585,1735.3 1587.3,1739 1589.6,1742.7 1591.9,1746.3 1594.2,1749.8 1596.5,1753.2 1598.8,1756.5 1601.1,1759.6 1603.4,1762.7 1605.7,1765.6 1608,1768.4 1610.3,1771.1 1612.6,1773.6 1614.9,1775.9 1617.2,1778 1619.5,1780.1 1621.8,1782.1 1624,1784.1 1626.3,1786.1 1628.6,1788.2 1630.9,1790.1 1633.2,1792 1635.5,1793.7 1637.8,1795.2 1640.1,1796.6 1642.4,1797.9 1644.7,1799.2 1647,1800.4 1649.3,1801.8 1651.6,1803.1 1653.9,1804.5 1656.2,1805.9 1658.5,1807.2 1660.8,1808.4 1663.1,1809.6 1665.4,1810.8 1667.7,1811.9 1670,1813 1672.3,1814.1 1674.6,1815.2 1676.9,1816.2 1679.2,1817.2 1681.5,1818.1 1683.8,1818.9 1686.1,1819.6 1688.4,1820.2 1690.7,1820.8 1693,1821.4 1695.3,1821.9 1697.6,1822.4 1699.9,1822.7 1702.2,1823" fill="none" stroke="#1f77b4" stroke-width="4.5" stroke-linejoin="round"/>
<polyline points="1014.9,1810.2 1017.2,1810 1019.5,1809.7 1021.8,1809.4 1024.1,1809.1 1026.4,1808.7 1028.7,1808.2 1031,1807.8 1033.3,1807.2 1035.6,1806.6 1037.9,1805.8 1040.2,1805 1042.5,1804.2 1044.8,1803.4 1047.1,1802.7 1049.4,1802.1 1051.7,1801.6 1054,1801.2 1056.3,1800.7 1058.6,1800.3 1060.9,1799.9 1063.2,1799.6 1065.5,1799.4 1067.8,1799.2 1070.1,1799.2 1072.4,1799.2 1074.7,1799.2 1077,1799.4 1079.3,1799.5 1081.6,1799.6 1083.9,1799.8 1086.2,1800 1088.5,1800.2 1090.8,1800.5 1093.1,1800.9 1095.4,1801.3 1097.7,1801.7 1100,1802.1 1102.3,1802.5 1104.6,1802.9 1106.9,1803.4 1109.2,1803.9 1111.5,1804.4 1113.8,1804.8 1116.1,1805.1 1118.4,1805.3 1120.7,1805.3 1123,1805.3 1125.3,1805.3 1127.6,1805.3 1129.9,1805.3 1132.2,1805.3 1134.5,1805.1 1136.8,1804.7 1139.1,1804.1 1141.4,1803.4 1143.7,1802.7 1146,1801.9 1148.2,1800.9 1150.5,1799.7 1152.8,1798.4 1155.1,1797.1 1157.4,1795.8 1159.7,1794.4 1162,1793 1164.3,1791.4 1166.6,1789.7 1168.9,1787.9 1171.2,1785.8 1173.5,1783.5 1175.8,1780.9 1178.1,1778.2 1180.4,1775.4 1182.7,1772.5 1185,1769.4 1187.3,1766.1 1189.6,1762.6 1191.9,1758.9 1194.2,1755.1 1196.5,1751.1 1198.8,1746.9 1201.1,1742.5 1203.4,1738 1205.7,1733.3 1208,1728.6 1210.3,1723.7 1212.6,1718.6 1214.9,1713.4 1217.2,1707.9 1219.5,1702.1 1221.8,1696.1 1224.1,1689.9 1226.4,1683.6 1228.7,1677.1 1231,1670.4 1233.3,1663.4 1235.6,1656 1237.9,1648.1 1240.2,1639.7 1242.5,1631 1244.8,1622.3 1247.1,1613.6 1249.4,1604.9 1251.7,1596.1 1254,1587.2 1256.3,1578.1 1258.6,1568.7 1260.9,1558.8 1263.2,1548.7 1265.5,1538.7 1267.8,1529 1270.1,1519.6 1272.4,1510.3 1274.7,1501.2 1277,1492.2 1279.3,1483.3 1281.6,1474.3 1283.9,1465.5 1286.2,1457.1 1288.5,1449 1290.8,1441.1 1293.1,1433.5 1295.4,1426.3 1297.7,1419.6 1300,1413.4 1302.3,1407.6 1304.6,1402.2 1306.8,1397.1 1309.1,1392.3 1311.4,1387.7 1313.7,1383.4 1316,1379.4 1318.3,1375.8 1320.6,1372.6 1322.9,1369.6 1325.2,1366.9 1327.5,1364.6 1329.8,1362.5 1332.1,1360.6 1334.4,1358.9 1336.7,1357.4 1339,1356.3 1341.3,1355.6 1343.6,1354.9 1345.9,1354.3 1348.2,1354 1350.5,1353.9 1352.8,1354.4 1355.1,1355.2 1357.4,1356.4 1359.7,1357.6 1362,1358.9 1364.3,1360.4 1366.6,1362.1 1368.9,1364 1371.2,1366.2 1373.5,1368.6 1375.8,1371.5 1378.1,1374.7 1380.4,1378.3 1382.7,1382.2 1385,1386.7 1387.3,1391.8 1389.6,1397.2 1391.9,1402.7 1394.2,1408 1396.5,1413.4 1398.8,1418.9 1401.1,1424.4 1403.4,1429.9 1405.7,1435.3 1408,1440.7 1410.3,1446.1 1412.6,1451.8 1414.9,1457.7 1417.2,1464 1419.5,1470.5 1421.8,1477.1 1424.1,1483.6 1426.4,1490 1428.7,1496.5 1431,1503 1433.3,1509.3 1435.6,1515.5 1437.9,1521.6 1440.2,1527.6 1442.5,1533.5 1444.8,1539.4 1447.1,1545.4 1449.4,1551.4 1451.7,1557.3 1454,1563.2 1456.3,1569.1 1458.6,1574.9 1460.9,1580.7 1463.2,1586.3 1465.4,1591.9 1467.7,1597.2 1470,1602.2 1472.3,1607.1 1474.6,1612 1476.9,1616.9 1479.2,1621.8 1481.5,1626.9 1483.8,1632 1486.1,1637 1488.4,1642 1490.7,1646.8 1493,1651.6 1495.3,1656.4 1497.6,1661 1499.9,1665.6 1502.2,1670 1504.5,1674.4 1506.8,1678.6 1509.1,1682.9 1511.4,1687 1513.7,1691.2 1516,1695.3 1518.3,1699.2 1520.6,1703 1522.9,1706.7 1525.2,1710.2 1527.5,1713.6 1529.8,1716.9 1532.1,1720.2 1534.4,1723.5 1536.7,1726.7 1539,1729.8 1541.3,1732.8 1543.6,1735.5 1545.9,1738.1 1548.2,1740.4 1550.5,1742.6 1552.8,1744.8 1555.1,1747 1557.4,1749.3 1559.7,1751.7 1562,1754 1564.3,1756.4 1566.6,1758.7 1568.9,1761 1571.2,1763.4 1573.5,1765.8 1575.8,1768.1 1578.1,1770.4 1580.4,1772.5 1582.7,1774.4 1585,1776.3 1587.3,1778.1 1589.6,1779.8 1591.9,1781.3 1594.2,1782.8 1596.5,1784.2 1598.8,1785.4 1601.1,1786.5 1603.4,1787.6 1605.7,1788.6 1608,1789.5 1610.3,1790.4 1612.6,1791.2 1614.9,1792.1 1617.2,1792.8 1619.5,1793.6 1621.8,1794.3 1624,1795 1626.3,1795.6 1628.6,1796.2 1630.9,1796.8 1633.2,1797.4 1635.5,1797.9 1637.8,1798.3 1640.1,1798.7 1642.4,1799.1 1644.7,1799.5 1647,1799.8 1649.3,1800.2 1651.6,1800.6 1653.9,1800.9 1656.2,1801.3 1658.5,1801.7 1660.8,1802.1 1663.1,1802.7 1665.4,1803.2 1667.7,1803.9 1670,1804.5 1672.3,1805.1 1674.6,1805.7 1676.9,1806.3 1679.2,1806.9 1681.5,1807.4 1683.8,1807.9 1686.1,1808.4 1688.4,1808.8 1690.7,1809.3 1693,1809.7 1695.3,1810 1697.6,1810.4 1699.9,1810.7 1702.2,1810.9" fill="none" stroke="#ff7f0e" stroke-width="4.5" stroke-linejoin="round" stroke-dasharray="15.4 6.7"/>
</g>
<rect x="1014.8" y="1330.2" width="687.4" height="524" fill="none" stroke="#000" stroke-width="2.6"/>
<line x1="1129" y1="1854.2" x2="1129" y2="1844.5" stroke="#000" stroke-width="2.4"/>
<text x="1129" y="1894.6" text-anchor="middle" font-family="'DejaVu Sans','Liberation Sans',sans-serif" font-size="39.8" stroke="#000" stroke-width="0.3">800</text>
<line x1="1272.3" y1="1854.2" x2="1272.3" y2="1844.5" stroke="#000" stroke-width="2.4"/>
<text x="1272.3" y="1894.6" text-anchor="middle" font-family="'DejaVu Sans','Liberation Sans',sans-serif" font-size="39.8" stroke="#000" stroke-width="0.3">850</text>
<line x1="1415.6" y1="1854.2" x2="1415.6" y2="1844.5" stroke="#000" stroke-width="2.4"/>
<text x="1415.6" y="1894.6" text-anchor="middle" font-family="'DejaVu Sans','Liberation Sans',sans-serif" font-size="39.8" stroke="#000" stroke-width="0.3">900</text>
<line x1="1558.9" y1="1854.2" x2="1558.9" y2="1844.5" stroke="#000" stroke-width="2.4"/>
<text x="1558.9" y="1894.6" text-anchor="middle" font-family="'DejaVu Sans','Liberation Sans',sans-serif" font-size="39.8" stroke="#000" stroke-width="0.3">950</text>
<line x1="1702.2" y1="1854.2" x2="1702.2" y2="1844.5" stroke="#000" stroke-width="2.4"/>
<text x="1702.2" y="1894.6" text-anchor="middle" font-family="'DejaVu Sans','Liberation Sans',sans-serif" font-size="39.8" stroke="#000" stroke-width="0.3">1000</text>
<line x1="1014.8" y1="1817.9" x2="1024.5" y2="1817.9" stroke="#000" stroke-width="2.4"/>
<text x="1005.3" y="1833.7" text-anchor="end" font-family="'DejaVu Sans','Liberation Sans',sans-serif" font-size="39.8" stroke="#000" stroke-width="0.3">0.0</text>
<line x1="1014.8" y1="1725.1" x2="1024.5" y2="1725.1" stroke="#000" stroke-width="2.4"/>
<text x="1005.3" y="1740.9" text-anchor="end" font-family="'DejaVu Sans','Liberation Sans',sans-serif" font-size="39.8" stroke="#000" stroke-width="0.3">0.2</text>
<line x1="1014.8" y1="1632.3" x2="1024.5" y2="1632.3" stroke="#000" stroke-width="2.4"/>
<text x="1005.3" y="1648.1" text-anchor="end" font-family="'DejaVu Sans','Liberation Sans',sans-serif" font-size="39.8" stroke="#000" stroke-width="0.3">0.4</text>
<line x1="1014.8" y1="1539.5" x2="1024.5" y2="1539.5" stroke="#000" stroke-width="2.4"/>
<text x="1005.3" y="1555.3" text-anchor="end" font-family="'DejaVu Sans','Liberation Sans',sans-serif" font-size="39.8" stroke="#000" stroke-width="0.3">0.6</text>
<line x1="1014.8" y1="1446.7" x2="1024.5" y2="1446.7" stroke="#000" stroke-width="2.4"/>
<text x="1005.3" y="1462.5" text-anchor="end" font-family="'DejaVu Sans','Liberation Sans',sans-serif" font-size="39.8" stroke="#000" stroke-width="0.3">0.8</text>
<line x1="1014.8" y1="1353.9" x2="1024.5" y2="1353.9" stroke="#000" stroke-width="2.4"/>
<text x="1005.3" y="1369.7" text-anchor="end" font-family="'DejaVu Sans','Liberation Sans',sans-serif" font-size="39.8" stroke="#000" stroke-width="0.3">1.0</text>
<text x="1358.5" y="1944" text-anchor="middle" font-family="'DejaVu Sans','Liberation Sans',sans-serif" font-size="39.8" stroke="#000" stroke-width="0.3">wavelength [nm]</text>
<text transform="translate(921.5,1592.2) rotate(-90)" text-anchor="middle" font-family="'DejaVu Sans','Liberation Sans',sans-serif" font-size="39.8" stroke="#000" stroke-width="0.3">normalized coincidences</text>
<text x="1048.8" y="1382.6" fill="#000" stroke="#000" stroke-width="0.5" font-family="'DejaVu Sans','Liberation Sans',sans-serif" font-weight="700" font-size="39.8">(e)</text>
<rect x="1220.1" y="1706.6" width="276.9" height="128.1" rx="5" ry="5" fill="#fff" fill-opacity="0.8" stroke="#ccc" stroke-width="2.6"/>
<line x1="1233.9" y1="1737.4" x2="1317.8" y2="1737.4" stroke="#1f77b4" stroke-width="4.17"/>
<text x="1347.6" y="1750.9" font-family="'DejaVu Sans','Liberation Sans',sans-serif" font-size="39.8" stroke="#000" stroke-width="0.3">Closed</text>
<line x1="1236.0" y1="1796.5" x2="1315.7" y2="1796.5" stroke="#ff7f0e" stroke-width="4.17" stroke-dasharray="15.4 6.7"/>
<text x="1347.6" y="1810" font-family="'DejaVu Sans','Liberation Sans',sans-serif" font-size="39.8" stroke="#000" stroke-width="0.3">Open</text>
</g>
</svg>
</body></html>
